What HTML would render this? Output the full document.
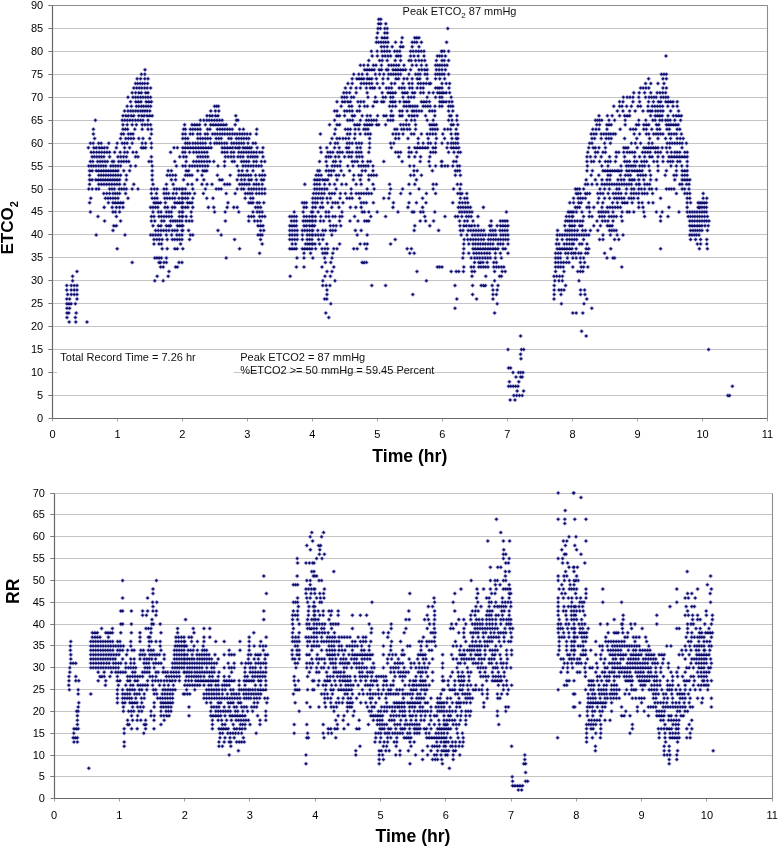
<!DOCTYPE html><html><head><meta charset="utf-8"><style>
html,body{margin:0;padding:0;background:#fff;width:778px;height:847px;overflow:hidden}
svg{display:block} .g{stroke:#c4c4c4;stroke-width:1} .a{stroke:#686868;stroke-width:1.2;fill:none} .r{stroke:#8c8c8c;stroke-width:1.1;fill:none} .k{stroke:#7a7a7a;stroke-width:1;fill:none} .k2{stroke:#a0a0a0;stroke-width:1;fill:none} .t{font-family:'Liberation Sans',Arial,sans-serif;font-size:11px;fill:#000} .tt{font-family:'Liberation Sans',Arial,sans-serif;font-size:11px;fill:#111} .b{font-family:'Liberation Sans',Arial,sans-serif;font-size:17px;font-weight:bold;fill:#000} .d{fill:#0e0e6a}
</style></head><body>
<svg width="778" height="847" viewBox="0 0 778 847">
<line x1="48" x2="767.5" y1="395.5" y2="395.5" class="g"/>
<line x1="48" x2="767.5" y1="372.5" y2="372.5" class="g"/>
<line x1="48" x2="767.5" y1="349.5" y2="349.5" class="g"/>
<line x1="48" x2="767.5" y1="326.5" y2="326.5" class="g"/>
<line x1="48" x2="767.5" y1="303.5" y2="303.5" class="g"/>
<line x1="48" x2="767.5" y1="280.5" y2="280.5" class="g"/>
<line x1="48" x2="767.5" y1="257.5" y2="257.5" class="g"/>
<line x1="48" x2="767.5" y1="234.5" y2="234.5" class="g"/>
<line x1="48" x2="767.5" y1="211.5" y2="211.5" class="g"/>
<line x1="48" x2="767.5" y1="189.5" y2="189.5" class="g"/>
<line x1="48" x2="767.5" y1="166.5" y2="166.5" class="g"/>
<line x1="48" x2="767.5" y1="143.5" y2="143.5" class="g"/>
<line x1="48" x2="767.5" y1="120.5" y2="120.5" class="g"/>
<line x1="48" x2="767.5" y1="97.5" y2="97.5" class="g"/>
<line x1="48" x2="767.5" y1="74.5" y2="74.5" class="g"/>
<line x1="48" x2="767.5" y1="51.5" y2="51.5" class="g"/>
<line x1="48" x2="767.5" y1="28.5" y2="28.5" class="g"/>
<line x1="48" x2="767.5" y1="5.5" y2="5.5" class="g"/>
<line x1="50" x2="772.5" y1="776.5" y2="776.5" class="g"/>
<line x1="50" x2="772.5" y1="755.5" y2="755.5" class="g"/>
<line x1="50" x2="772.5" y1="733.5" y2="733.5" class="g"/>
<line x1="50" x2="772.5" y1="711.5" y2="711.5" class="g"/>
<line x1="50" x2="772.5" y1="689.5" y2="689.5" class="g"/>
<line x1="50" x2="772.5" y1="667.5" y2="667.5" class="g"/>
<line x1="50" x2="772.5" y1="645.5" y2="645.5" class="g"/>
<line x1="50" x2="772.5" y1="624.5" y2="624.5" class="g"/>
<line x1="50" x2="772.5" y1="602.5" y2="602.5" class="g"/>
<line x1="50" x2="772.5" y1="580.5" y2="580.5" class="g"/>
<line x1="50" x2="772.5" y1="558.5" y2="558.5" class="g"/>
<line x1="50" x2="772.5" y1="536.5" y2="536.5" class="g"/>
<line x1="50" x2="772.5" y1="514.5" y2="514.5" class="g"/>
<line x1="50" x2="772.5" y1="493.5" y2="493.5" class="g"/>
<rect x="57" y="351" width="177" height="42" fill="#fff"/>
<defs><path id="p38" transform="scale(0.2,0.1667)" vector-effect="non-scaling-stroke" d="M1886 116l8-9 8 9-8 9zm10 0l8-9 8 9-8 9zm-11 27l8-9 8 9-8 9zm11 0l8-9 8 9-8 9zm25 0l8-9 8 9-8 9zm-39 28l8-9 8 9-8 9zm12 0l8-9 8 9-8 9zm22 0l8-9 8 9-8 9zm12 0l8-9 8 9-8 9zm303 0l8-9 8 9-8 9zm-351 27l8-9 8 9-8 9zm36 0l8-9 8 9-8 9zm12 0l8-9 8 9-8 9zm-52 28l8-9 8 9-8 9zm26 0l8-9 8 9-8 9zm13 0l8-9 8 9-8 9zm13 0l8-9 8 9-8 9zm75 0l8-9 8 9-8 9zm63 0l8-9 8 9-8 9zm10 0l8-9 8 9-8 9zm11 0l8-9 8 9-8 9zm-213 27l8-9 8 9-8 9zm11 0l8-9 8 9-8 9zm12 0l8-9 8 9-8 9zm12 0l8-9 8 9-8 9zm11 0l8-9 8 9-8 9zm12 0l8-9 8 9-8 9zm38 0l8-9 8 9-8 9zm29 0l8-9 8 9-8 9zm54 0l8-9 8 9-8 9zm12 0l8-9 8 9-8 9zm11 0l8-9 8 9-8 9zm23 0l8-9 8 9-8 9zm126 0l8-9 8 9-8 9zm-326 28l8-9 8 9-8 9zm14 0l8-9 8 9-8 9zm15 0l8-9 8 9-8 9zm25 0l8-9 8 9-8 9zm41 0l8-9 8 9-8 9zm13 0l8-9 8 9-8 9zm46 0l8-9 8 9-8 9zm34 0l8-9 8 9-8 9zm-238 27l8-9 8 9-8 9zm29 0l8-9 8 9-8 9zm23 0l8-9 8 9-8 9zm13 0l8-9 8 9-8 9zm13 0l8-9 8 9-8 9zm13 0l8-9 8 9-8 9zm25 0l8-9 8 9-8 9zm13 0l8-9 8 9-8 9zm13 0l8-9 8 9-8 9zm54 0l8-9 8 9-8 9zm13 0l8-9 8 9-8 9zm14 0l8-9 8 9-8 9zm13 0l8-9 8 9-8 9zm13 0l8-9 8 9-8 9zm14 0l8-9 8 9-8 9zm87 0l8-9 8 9-8 9zm3 0l8-9 8 9-8 9zm11 0l8-9 8 9-8 9zm22 0l8-9 8 9-8 9zm-382 28l8-9 8 9-8 9zm26 0l8-9 8 9-8 9zm26 0l8-9 8 9-8 9zm13 0l8-9 8 9-8 9zm14 0l8-9 8 9-8 9zm13 0l8-9 8 9-8 9zm29 0l8-9 8 9-8 9zm10 0l8-9 8 9-8 9zm11 0l8-9 8 9-8 9zm50 0l8-9 8 9-8 9zm17 0l8-9 8 9-8 9zm21 0l8-9 8 9-8 9zm29 0l8-9 8 9-8 9zm67 0l8-9 8 9-8 9zm11 0l8-9 8 9-8 9zm12 0l8-9 8 9-8 9zm17 0l8-9 8 9-8 9zm1103 0l8-9 8 9-8 9zm-1486 27l8-9 8 9-8 9zm54 0l8-9 8 9-8 9zm13 0l8-9 8 9-8 9zm25 0l8-9 8 9-8 9zm40 0l8-9 8 9-8 9zm27 0l8-9 8 9-8 9zm42 0l8-9 8 9-8 9zm11 0l8-9 8 9-8 9zm22 0l8-9 8 9-8 9zm17 0l8-9 8 9-8 9zm14 0l8-9 8 9-8 9zm15 0l8-9 8 9-8 9zm58 0l8-9 8 9-8 9zm28 0l8-9 8 9-8 9zm11 0l8-9 8 9-8 9zm22 0l8-9 8 9-8 9zm-441 28l8-9 8 9-8 9zm17 0l8-9 8 9-8 9zm21 0l8-9 8 9-8 9zm27 0l8-9 8 9-8 9zm13 0l8-9 8 9-8 9zm27 0l8-9 8 9-8 9zm37 0l8-9 8 9-8 9zm13 0l8-9 8 9-8 9zm12 0l8-9 8 9-8 9zm13 0l8-9 8 9-8 9zm12 0l8-9 8 9-8 9zm26 0l8-9 8 9-8 9zm41 0l8-9 8 9-8 9zm21 0l8-9 8 9-8 9zm25 0l8-9 8 9-8 9zm25 0l8-9 8 9-8 9zm46 0l8-9 8 9-8 9zm11 0l8-9 8 9-8 9zm10 0l8-9 8 9-8 9zm11 0l8-9 8 9-8 9zm13 0l8-9 8 9-8 9zm12 0l8-9 8 9-8 9zm-1510 27l8-9 8 9-8 9zm1098 0l8-9 8 9-8 9zm12 0l8-9 8 9-8 9zm12 0l8-9 8 9-8 9zm12 0l8-9 8 9-8 9zm12 0l8-9 8 9-8 9zm25 0l8-9 8 9-8 9zm12 0l8-9 8 9-8 9zm24 0l8-9 8 9-8 9zm8 0l8-9 8 9-8 9zm25 0l8-9 8 9-8 9zm13 0l8-9 8 9-8 9zm12 0l8-9 8 9-8 9zm13 0l8-9 8 9-8 9zm12 0l8-9 8 9-8 9zm13 0l8-9 8 9-8 9zm25 0l8-9 8 9-8 9zm42 0l8-9 8 9-8 9zm14 0l8-9 8 9-8 9zm14 0l8-9 8 9-8 9zm13 0l8-9 8 9-8 9zm46 0l8-9 8 9-8 9zm14 0l8-9 8 9-8 9zm14 0l8-9 8 9-8 9zm17 0l8-9 8 9-8 9zm-1520 28l8-9 8 9-8 9zm17 0l8-9 8 9-8 9zm1045 0l8-9 8 9-8 9zm25 0l8-9 8 9-8 9zm17 0l8-9 8 9-8 9zm25 0l8-9 8 9-8 9zm41 0l8-9 8 9-8 9zm21 0l8-9 8 9-8 9zm21 0l8-9 8 9-8 9zm24 0l8-9 8 9-8 9zm12 0l8-9 8 9-8 9zm12 0l8-9 8 9-8 9zm12 0l8-9 8 9-8 9zm12 0l8-9 8 9-8 9zm12 0l8-9 8 9-8 9zm42 0l8-9 8 9-8 9zm33 0l8-9 8 9-8 9zm12 0l8-9 8 9-8 9zm11 0l8-9 8 9-8 9zm24 0l8-9 8 9-8 9zm11 0l8-9 8 9-8 9zm42 0l8-9 8 9-8 9zm11 0l8-9 8 9-8 9zm10 0l8-9 8 9-8 9zm11 0l8-9 8 9-8 9zm11 0l8-9 8 9-8 9zm22 0l8-9 8 9-8 9zm1064 0l8-9 8 9-8 9zm13 0l8-9 8 9-8 9zm12 0l8-9 8 9-8 9zm-2646 27l8-9 8 9-8 9zm17 0l8-9 8 9-8 9zm21 0l8-9 8 9-8 9zm16 0l8-9 8 9-8 9zm1021 0l8-9 8 9-8 9zm23 0l8-9 8 9-8 9zm12 0l8-9 8 9-8 9zm11 0l8-9 8 9-8 9zm12 0l8-9 8 9-8 9zm17 0l8-9 8 9-8 9zm11 0l8-9 8 9-8 9zm12 0l8-9 8 9-8 9zm23 0l8-9 8 9-8 9zm33 0l8-9 8 9-8 9zm25 0l8-9 8 9-8 9zm40 0l8-9 8 9-8 9zm13 0l8-9 8 9-8 9zm27 0l8-9 8 9-8 9zm16 0l8-9 8 9-8 9zm25 0l8-9 8 9-8 9zm25 0l8-9 8 9-8 9zm13 0l8-9 8 9-8 9zm37 0l8-9 8 9-8 9zm42 0l8-9 8 9-8 9zm21 0l8-9 8 9-8 9zm24 0l8-9 8 9-8 9zm1020 0l8-9 8 9-8 9zm72 0l8-9 8 9-8 9zm17 0l8-9 8 9-8 9zm-2654 28l8-9 8 9-8 9zm11 0l8-9 8 9-8 9zm12 0l8-9 8 9-8 9zm11 0l8-9 8 9-8 9zm12 0l8-9 8 9-8 9zm14 0l8-9 8 9-8 9zm1002 0l8-9 8 9-8 9zm21 0l8-9 8 9-8 9zm45 0l8-9 8 9-8 9zm14 0l8-9 8 9-8 9zm13 0l8-9 8 9-8 9zm13 0l8-9 8 9-8 9zm13 0l8-9 8 9-8 9zm27 0l8-9 8 9-8 9zm29 0l8-9 8 9-8 9zm42 0l8-9 8 9-8 9zm17 0l8-9 8 9-8 9zm41 0l8-9 8 9-8 9zm30 0l8-9 8 9-8 9zm16 0l8-9 8 9-8 9zm30 0l8-9 8 9-8 9zm13 0l8-9 8 9-8 9zm14 0l8-9 8 9-8 9zm13 0l8-9 8 9-8 9zm14 0l8-9 8 9-8 9zm8 0l8-9 8 9-8 9zm57 0l8-9 8 9-8 9zm21 0l8-9 8 9-8 9zm17 0l8-9 8 9-8 9zm980 0l8-9 8 9-8 9zm26 0l8-9 8 9-8 9zm36 0l8-9 8 9-8 9zm30 0l8-9 8 9-8 9zm-2651 27l8-9 8 9-8 9zm14 0l8-9 8 9-8 9zm13 0l8-9 8 9-8 9zm13 0l8-9 8 9-8 9zm14 0l8-9 8 9-8 9zm13 0l8-9 8 9-8 9zm17 0l8-9 8 9-8 9zm974 0l8-9 8 9-8 9zm27 0l8-9 8 9-8 9zm27 0l8-9 8 9-8 9zm21 0l8-9 8 9-8 9zm30 0l8-9 8 9-8 9zm20 0l8-9 8 9-8 9zm11 0l8-9 8 9-8 9zm10 0l8-9 8 9-8 9zm25 0l8-9 8 9-8 9zm34 0l8-9 8 9-8 9zm13 0l8-9 8 9-8 9zm13 0l8-9 8 9-8 9zm38 0l8-9 8 9-8 9zm13 0l8-9 8 9-8 9zm13 0l8-9 8 9-8 9zm26 0l8-9 8 9-8 9zm13 0l8-9 8 9-8 9zm25 0l8-9 8 9-8 9zm17 0l8-9 8 9-8 9zm13 0l8-9 8 9-8 9zm62 0l8-9 8 9-8 9zm11 0l8-9 8 9-8 9zm10 0l8-9 8 9-8 9zm11 0l8-9 8 9-8 9zm35 0l8-9 8 9-8 9zm958 0l8-9 8 9-8 9zm13 0l8-9 8 9-8 9zm14 0l8-9 8 9-8 9zm14 0l8-9 8 9-8 9zm71 0l8-9 8 9-8 9zm17 0l8-9 8 9-8 9zm-2671 28l8-9 8 9-8 9zm17 0l8-9 8 9-8 9zm16 0l8-9 8 9-8 9zm13 0l8-9 8 9-8 9zm21 0l8-9 8 9-8 9zm12 0l8-9 8 9-8 9zm979 0l8-9 8 9-8 9zm14 0l8-9 8 9-8 9zm15 0l8-9 8 9-8 9zm33 0l8-9 8 9-8 9zm55 0l8-9 8 9-8 9zm75 0l8-9 8 9-8 9zm29 0l8-9 8 9-8 9zm12 0l8-9 8 9-8 9zm12 0l8-9 8 9-8 9zm13 0l8-9 8 9-8 9zm36 0l8-9 8 9-8 9zm12 0l8-9 8 9-8 9zm12 0l8-9 8 9-8 9zm25 0l8-9 8 9-8 9zm12 0l8-9 8 9-8 9zm29 0l8-9 8 9-8 9zm14 0l8-9 8 9-8 9zm28 0l8-9 8 9-8 9zm21 0l8-9 8 9-8 9zm22 0l8-9 8 9-8 9zm11 0l8-9 8 9-8 9zm11 0l8-9 8 9-8 9zm8 0l8-9 8 9-8 9zm13 0l8-9 8 9-8 9zm17 0l8-9 8 9-8 9zm921 0l8-9 8 9-8 9zm27 0l8-9 8 9-8 9zm27 0l8-9 8 9-8 9zm31 0l8-9 8 9-8 9zm32 0l8-9 8 9-8 9zm14 0l8-9 8 9-8 9zm14 0l8-9 8 9-8 9zm14 0l8-9 8 9-8 9zm-2688 27l8-9 8 9-8 9zm25 0l8-9 8 9-8 9zm13 0l8-9 8 9-8 9zm12 0l8-9 8 9-8 9zm13 0l8-9 8 9-8 9zm12 0l8-9 8 9-8 9zm13 0l8-9 8 9-8 9zm12 0l8-9 8 9-8 9zm13 0l8-9 8 9-8 9zm957 0l8-9 8 9-8 9zm12 0l8-9 8 9-8 9zm12 0l8-9 8 9-8 9zm23 0l8-9 8 9-8 9zm12 0l8-9 8 9-8 9zm71 0l8-9 8 9-8 9zm37 0l8-9 8 9-8 9zm38 0l8-9 8 9-8 9zm13 0l8-9 8 9-8 9zm25 0l8-9 8 9-8 9zm12 0l8-9 8 9-8 9zm50 0l8-9 8 9-8 9zm27 0l8-9 8 9-8 9zm14 0l8-9 8 9-8 9zm14 0l8-9 8 9-8 9zm66 0l8-9 8 9-8 9zm42 0l8-9 8 9-8 9zm21 0l8-9 8 9-8 9zm11 0l8-9 8 9-8 9zm46 0l8-9 8 9-8 9zm861 0l8-9 8 9-8 9zm19 0l8-9 8 9-8 9zm14 0l8-9 8 9-8 9zm15 0l8-9 8 9-8 9zm29 0l8-9 8 9-8 9zm34 0l8-9 8 9-8 9zm18 0l8-9 8 9-8 9zm12 0l8-9 8 9-8 9zm12 0l8-9 8 9-8 9zm11 0l8-9 8 9-8 9zm24 0l8-9 8 9-8 9zm12 0l8-9 8 9-8 9zm12 0l8-9 8 9-8 9zm11 0l8-9 8 9-8 9zm-2687 28l8-9 8 9-8 9zm26 0l8-9 8 9-8 9zm13 0l8-9 8 9-8 9zm13 0l8-9 8 9-8 9zm26 0l8-9 8 9-8 9zm13 0l8-9 8 9-8 9zm13 0l8-9 8 9-8 9zm928 0l8-9 8 9-8 9zm27 0l8-9 8 9-8 9zm13 0l8-9 8 9-8 9zm14 0l8-9 8 9-8 9zm13 0l8-9 8 9-8 9zm38 0l8-9 8 9-8 9zm14 0l8-9 8 9-8 9zm15 0l8-9 8 9-8 9zm54 0l8-9 8 9-8 9zm12 0l8-9 8 9-8 9zm23 0l8-9 8 9-8 9zm11 0l8-9 8 9-8 9zm34 0l8-9 8 9-8 9zm11 0l8-9 8 9-8 9zm12 0l8-9 8 9-8 9zm23 0l8-9 8 9-8 9zm21 0l8-9 8 9-8 9zm12 0l8-9 8 9-8 9zm13 0l8-9 8 9-8 9zm62 0l8-9 8 9-8 9zm13 0l8-9 8 9-8 9zm13 0l8-9 8 9-8 9zm14 0l8-9 8 9-8 9zm52 0l8-9 8 9-8 9zm11 0l8-9 8 9-8 9zm8 0l8-9 8 9-8 9zm13 0l8-9 8 9-8 9zm15 0l8-9 8 9-8 9zm14 0l8-9 8 9-8 9zm838 0l8-9 8 9-8 9zm17 0l8-9 8 9-8 9zm50 0l8-9 8 9-8 9zm33 0l8-9 8 9-8 9zm45 0l8-9 8 9-8 9zm24 0l8-9 8 9-8 9zm25 0l8-9 8 9-8 9zm12 0l8-9 8 9-8 9zm25 0l8-9 8 9-8 9zm12 0l8-9 8 9-8 9zm12 0l8-9 8 9-8 9zm12 0l8-9 8 9-8 9zm21 0l8-9 8 9-8 9zm-2750 27l8-9 8 9-8 9zm21 0l8-9 8 9-8 9zm25 0l8-9 8 9-8 9zm12 0l8-9 8 9-8 9zm13 0l8-9 8 9-8 9zm11 0l8-9 8 9-8 9zm12 0l8-9 8 9-8 9zm11 0l8-9 8 9-8 9zm12 0l8-9 8 9-8 9zm320 0l8-9 8 9-8 9zm10 0l8-9 8 9-8 9zm9 0l8-9 8 9-8 9zm614 0l8-9 8 9-8 9zm40 0l8-9 8 9-8 9zm13 0l8-9 8 9-8 9zm39 0l8-9 8 9-8 9zm25 0l8-9 8 9-8 9zm14 0l8-9 8 9-8 9zm28 0l8-9 8 9-8 9zm83 0l8-9 8 9-8 9zm15 0l8-9 8 9-8 9zm15 0l8-9 8 9-8 9zm42 0l8-9 8 9-8 9zm12 0l8-9 8 9-8 9zm13 0l8-9 8 9-8 9zm8 0l8-9 8 9-8 9zm11 0l8-9 8 9-8 9zm11 0l8-9 8 9-8 9zm11 0l8-9 8 9-8 9zm30 0l8-9 8 9-8 9zm11 0l8-9 8 9-8 9zm12 0l8-9 8 9-8 9zm12 0l8-9 8 9-8 9zm24 0l8-9 8 9-8 9zm23 0l8-9 8 9-8 9zm12 0l8-9 8 9-8 9zm33 0l8-9 8 9-8 9zm11 0l8-9 8 9-8 9zm10 0l8-9 8 9-8 9zm805 0l8-9 8 9-8 9zm29 0l8-9 8 9-8 9zm12 0l8-9 8 9-8 9zm23 0l8-9 8 9-8 9zm24 0l8-9 8 9-8 9zm33 0l8-9 8 9-8 9zm13 0l8-9 8 9-8 9zm37 0l8-9 8 9-8 9zm21 0l8-9 8 9-8 9zm13 0l8-9 8 9-8 9zm13 0l8-9 8 9-8 9zm13 0l8-9 8 9-8 9zm13 0l8-9 8 9-8 9zm26 0l8-9 8 9-8 9zm26 0l8-9 8 9-8 9zm21 0l8-9 8 9-8 9zm-2763 28l8-9 8 9-8 9zm17 0l8-9 8 9-8 9zm13 0l8-9 8 9-8 9zm12 0l8-9 8 9-8 9zm13 0l8-9 8 9-8 9zm12 0l8-9 8 9-8 9zm13 0l8-9 8 9-8 9zm11 0l8-9 8 9-8 9zm11 0l8-9 8 9-8 9zm11 0l8-9 8 9-8 9zm13 0l8-9 8 9-8 9zm305 0l8-9 8 9-8 9zm23 0l8-9 8 9-8 9zm17 0l8-9 8 9-8 9zm579 0l8-9 8 9-8 9zm12 0l8-9 8 9-8 9zm38 0l8-9 8 9-8 9zm12 0l8-9 8 9-8 9zm13 0l8-9 8 9-8 9zm13 0l8-9 8 9-8 9zm25 0l8-9 8 9-8 9zm12 0l8-9 8 9-8 9zm159 0l8-9 8 9-8 9zm42 0l8-9 8 9-8 9zm12 0l8-9 8 9-8 9zm25 0l8-9 8 9-8 9zm25 0l8-9 8 9-8 9zm9 0l8-9 8 9-8 9zm12 0l8-9 8 9-8 9zm13 0l8-9 8 9-8 9zm13 0l8-9 8 9-8 9zm40 0l8-9 8 9-8 9zm13 0l8-9 8 9-8 9zm13 0l8-9 8 9-8 9zm69 0l8-9 8 9-8 9zm21 0l8-9 8 9-8 9zm823 0l8-9 8 9-8 9zm28 0l8-9 8 9-8 9zm33 0l8-9 8 9-8 9zm28 0l8-9 8 9-8 9zm39 0l8-9 8 9-8 9zm25 0l8-9 8 9-8 9zm11 0l8-9 8 9-8 9zm10 0l8-9 8 9-8 9zm17 0l8-9 8 9-8 9zm12 0l8-9 8 9-8 9zm13 0l8-9 8 9-8 9zm12 0l8-9 8 9-8 9zm38 0l8-9 8 9-8 9zm40 0l8-9 8 9-8 9zm-2778 28l8-9 8 9-8 9zm14 0l8-9 8 9-8 9zm13 0l8-9 8 9-8 9zm14 0l8-9 8 9-8 9zm13 0l8-9 8 9-8 9zm25 0l8-9 8 9-8 9zm14 0l8-9 8 9-8 9zm13 0l8-9 8 9-8 9zm14 0l8-9 8 9-8 9zm13 0l8-9 8 9-8 9zm13 0l8-9 8 9-8 9zm274 0l8-9 8 9-8 9zm14 0l8-9 8 9-8 9zm13 0l8-9 8 9-8 9zm15 0l8-9 8 9-8 9zm13 0l8-9 8 9-8 9zm89 0l8-9 8 9-8 9zm506 0l8-9 8 9-8 9zm13 0l8-9 8 9-8 9zm25 0l8-9 8 9-8 9zm38 0l8-9 8 9-8 9zm12 0l8-9 8 9-8 9zm38 0l8-9 8 9-8 9zm25 0l8-9 8 9-8 9zm16 0l8-9 8 9-8 9zm36 0l8-9 8 9-8 9zm31 0l8-9 8 9-8 9zm12 0l8-9 8 9-8 9zm23 0l8-9 8 9-8 9zm11 0l8-9 8 9-8 9zm34 0l8-9 8 9-8 9zm12 0l8-9 8 9-8 9zm34 0l8-9 8 9-8 9zm14 0l8-9 8 9-8 9zm13 0l8-9 8 9-8 9zm14 0l8-9 8 9-8 9zm42 0l8-9 8 9-8 9zm46 0l8-9 8 9-8 9zm74 0l8-9 8 9-8 9zm8 0l8-9 8 9-8 9zm29 0l8-9 8 9-8 9zm710 0l8-9 8 9-8 9zm42 0l8-9 8 9-8 9zm24 0l8-9 8 9-8 9zm37 0l8-9 8 9-8 9zm25 0l8-9 8 9-8 9zm13 0l8-9 8 9-8 9zm12 0l8-9 8 9-8 9zm105 0l8-9 8 9-8 9zm23 0l8-9 8 9-8 9zm12 0l8-9 8 9-8 9zm11 0l8-9 8 9-8 9zm12 0l8-9 8 9-8 9zm29 0l8-9 8 9-8 9zm27 0l8-9 8 9-8 9zm14 0l8-9 8 9-8 9zm13 0l8-9 8 9-8 9zm13 0l8-9 8 9-8 9zm-2930 27l8-9 8 9-8 9zm134 0l8-9 8 9-8 9zm13 0l8-9 8 9-8 9zm13 0l8-9 8 9-8 9zm13 0l8-9 8 9-8 9zm13 0l8-9 8 9-8 9zm14 0l8-9 8 9-8 9zm13 0l8-9 8 9-8 9zm13 0l8-9 8 9-8 9zm12 0l8-9 8 9-8 9zm25 0l8-9 8 9-8 9zm262 0l8-9 8 9-8 9zm17 0l8-9 8 9-8 9zm15 0l8-9 8 9-8 9zm12 0l8-9 8 9-8 9zm13 0l8-9 8 9-8 9zm13 0l8-9 8 9-8 9zm13 0l8-9 8 9-8 9zm13 0l8-9 8 9-8 9zm13 0l8-9 8 9-8 9zm71 0l8-9 8 9-8 9zm8 0l8-9 8 9-8 9zm483 0l8-9 8 9-8 9zm65 0l8-9 8 9-8 9zm12 0l8-9 8 9-8 9zm13 0l8-9 8 9-8 9zm39 0l8-9 8 9-8 9zm30 0l8-9 8 9-8 9zm12 0l8-9 8 9-8 9zm13 0l8-9 8 9-8 9zm12 0l8-9 8 9-8 9zm13 0l8-9 8 9-8 9zm58 0l8-9 8 9-8 9zm13 0l8-9 8 9-8 9zm12 0l8-9 8 9-8 9zm67 0l8-9 8 9-8 9zm25 0l8-9 8 9-8 9zm17 0l8-9 8 9-8 9zm62 0l8-9 8 9-8 9zm30 0l8-9 8 9-8 9zm77 0l8-9 8 9-8 9zm17 0l8-9 8 9-8 9zm24 0l8-9 8 9-8 9zm693 0l8-9 8 9-8 9zm11 0l8-9 8 9-8 9zm10 0l8-9 8 9-8 9zm11 0l8-9 8 9-8 9zm36 0l8-9 8 9-8 9zm28 0l8-9 8 9-8 9zm53 0l8-9 8 9-8 9zm68 0l8-9 8 9-8 9zm35 0l8-9 8 9-8 9zm35 0l8-9 8 9-8 9zm12 0l8-9 8 9-8 9zm23 0l8-9 8 9-8 9zm12 0l8-9 8 9-8 9zm17 0l8-9 8 9-8 9zm11 0l8-9 8 9-8 9zm12 0l8-9 8 9-8 9zm23 0l8-9 8 9-8 9zm29 0l8-9 8 9-8 9zm-2788 28l8-9 8 9-8 9zm21 0l8-9 8 9-8 9zm25 0l8-9 8 9-8 9zm21 0l8-9 8 9-8 9zm29 0l8-9 8 9-8 9zm14 0l8-9 8 9-8 9zm14 0l8-9 8 9-8 9zm14 0l8-9 8 9-8 9zm170 0l8-9 8 9-8 9zm37 0l8-9 8 9-8 9zm13 0l8-9 8 9-8 9zm12 0l8-9 8 9-8 9zm13 0l8-9 8 9-8 9zm29 0l8-9 8 9-8 9zm26 0l8-9 8 9-8 9zm13 0l8-9 8 9-8 9zm13 0l8-9 8 9-8 9zm13 0l8-9 8 9-8 9zm13 0l8-9 8 9-8 9zm13 0l8-9 8 9-8 9zm13 0l8-9 8 9-8 9zm45 0l8-9 8 9-8 9zm472 0l8-9 8 9-8 9zm37 0l8-9 8 9-8 9zm13 0l8-9 8 9-8 9zm75 0l8-9 8 9-8 9zm13 0l8-9 8 9-8 9zm12 0l8-9 8 9-8 9zm25 0l8-9 8 9-8 9zm13 0l8-9 8 9-8 9zm12 0l8-9 8 9-8 9zm12 0l8-9 8 9-8 9zm23 0l8-9 8 9-8 9zm11 0l8-9 8 9-8 9zm34 0l8-9 8 9-8 9zm75 0l8-9 8 9-8 9zm14 0l8-9 8 9-8 9zm14 0l8-9 8 9-8 9zm14 0l8-9 8 9-8 9zm33 0l8-9 8 9-8 9zm71 0l8-9 8 9-8 9zm11 0l8-9 8 9-8 9zm11 0l8-9 8 9-8 9zm11 0l8-9 8 9-8 9zm74 0l8-9 8 9-8 9zm11 0l8-9 8 9-8 9zm22 0l8-9 8 9-8 9zm695 0l8-9 8 9-8 9zm14 0l8-9 8 9-8 9zm36 0l8-9 8 9-8 9zm11 0l8-9 8 9-8 9zm11 0l8-9 8 9-8 9zm70 0l8-9 8 9-8 9zm56 0l8-9 8 9-8 9zm12 0l8-9 8 9-8 9zm25 0l8-9 8 9-8 9zm13 0l8-9 8 9-8 9zm12 0l8-9 8 9-8 9zm38 0l8-9 8 9-8 9zm12 0l8-9 8 9-8 9zm38 0l8-9 8 9-8 9zm12 0l8-9 8 9-8 9zm11 0l8-9 8 9-8 9zm12 0l8-9 8 9-8 9zm12 0l8-9 8 9-8 9zm12 0l8-9 8 9-8 9zm-2924 27l8-9 8 9-8 9zm148 0l8-9 8 9-8 9zm12 0l8-9 8 9-8 9zm11 0l8-9 8 9-8 9zm36 0l8-9 8 9-8 9zm37 0l8-9 8 9-8 9zm29 0l8-9 8 9-8 9zm17 0l8-9 8 9-8 9zm161 0l8-9 8 9-8 9zm9 0l8-9 8 9-8 9zm25 0l8-9 8 9-8 9zm12 0l8-9 8 9-8 9zm12 0l8-9 8 9-8 9zm13 0l8-9 8 9-8 9zm12 0l8-9 8 9-8 9zm37 0l8-9 8 9-8 9zm12 0l8-9 8 9-8 9zm37 0l8-9 8 9-8 9zm13 0l8-9 8 9-8 9zm12 0l8-9 8 9-8 9zm12 0l8-9 8 9-8 9zm13 0l8-9 8 9-8 9zm12 0l8-9 8 9-8 9zm12 0l8-9 8 9-8 9zm37 0l8-9 8 9-8 9zm19 0l8-9 8 9-8 9zm67 0l8-9 8 9-8 9zm393 0l8-9 8 9-8 9zm50 0l8-9 8 9-8 9zm13 0l8-9 8 9-8 9zm12 0l8-9 8 9-8 9zm24 0l8-9 8 9-8 9zm18 0l8-9 8 9-8 9zm25 0l8-9 8 9-8 9zm10 0l8-9 8 9-8 9zm11 0l8-9 8 9-8 9zm134 0l8-9 8 9-8 9zm11 0l8-9 8 9-8 9zm23 0l8-9 8 9-8 9zm12 0l8-9 8 9-8 9zm16 0l8-9 8 9-8 9zm13 0l8-9 8 9-8 9zm29 0l8-9 8 9-8 9zm75 0l8-9 8 9-8 9zm11 0l8-9 8 9-8 9zm11 0l8-9 8 9-8 9zm12 0l8-9 8 9-8 9zm36 0l8-9 8 9-8 9zm16 0l8-9 8 9-8 9zm14 0l8-9 8 9-8 9zm28 0l8-9 8 9-8 9zm683 0l8-9 8 9-8 9zm16 0l8-9 8 9-8 9zm15 0l8-9 8 9-8 9zm40 0l8-9 8 9-8 9zm66 0l8-9 8 9-8 9zm51 0l8-9 8 9-8 9zm14 0l8-9 8 9-8 9zm13 0l8-9 8 9-8 9zm40 0l8-9 8 9-8 9zm13 0l8-9 8 9-8 9zm27 0l8-9 8 9-8 9zm27 0l8-9 8 9-8 9zm13 0l8-9 8 9-8 9zm36 0l8-9 8 9-8 9zm12 0l8-9 8 9-8 9zm39 0l8-9 8 9-8 9zm13 0l8-9 8 9-8 9zm-2932 28l8-9 8 9-8 9zm140 0l8-9 8 9-8 9zm11 0l8-9 8 9-8 9zm24 0l8-9 8 9-8 9zm12 0l8-9 8 9-8 9zm11 0l8-9 8 9-8 9zm92 0l8-9 8 9-8 9zm157 0l8-9 8 9-8 9zm13 0l8-9 8 9-8 9zm24 0l8-9 8 9-8 9zm13 0l8-9 8 9-8 9zm24 0l8-9 8 9-8 9zm13 0l8-9 8 9-8 9zm25 0l8-9 8 9-8 9zm12 0l8-9 8 9-8 9zm25 0l8-9 8 9-8 9zm12 0l8-9 8 9-8 9zm12 0l8-9 8 9-8 9zm13 0l8-9 8 9-8 9zm12 0l8-9 8 9-8 9zm12 0l8-9 8 9-8 9zm13 0l8-9 8 9-8 9zm12 0l8-9 8 9-8 9zm13 0l8-9 8 9-8 9zm12 0l8-9 8 9-8 9zm12 0l8-9 8 9-8 9zm13 0l8-9 8 9-8 9zm12 0l8-9 8 9-8 9zm12 0l8-9 8 9-8 9zm13 0l8-9 8 9-8 9zm15 0l8-9 8 9-8 9zm31 0l8-9 8 9-8 9zm320 0l8-9 8 9-8 9zm71 0l8-9 8 9-8 9zm64 0l8-9 8 9-8 9zm13 0l8-9 8 9-8 9zm25 0l8-9 8 9-8 9zm26 0l8-9 8 9-8 9zm26 0l8-9 8 9-8 9zm13 0l8-9 8 9-8 9zm12 0l8-9 8 9-8 9zm113 0l8-9 8 9-8 9zm15 0l8-9 8 9-8 9zm14 0l8-9 8 9-8 9zm21 0l8-9 8 9-8 9zm42 0l8-9 8 9-8 9zm13 0l8-9 8 9-8 9zm37 0l8-9 8 9-8 9zm29 0l8-9 8 9-8 9zm14 0l8-9 8 9-8 9zm14 0l8-9 8 9-8 9zm14 0l8-9 8 9-8 9zm36 0l8-9 8 9-8 9zm42 0l8-9 8 9-8 9zm22 0l8-9 8 9-8 9zm11 0l8-9 8 9-8 9zm667 0l8-9 8 9-8 9zm13 0l8-9 8 9-8 9zm12 0l8-9 8 9-8 9zm25 0l8-9 8 9-8 9zm13 0l8-9 8 9-8 9zm12 0l8-9 8 9-8 9zm12 0l8-9 8 9-8 9zm11 0l8-9 8 9-8 9zm12 0l8-9 8 9-8 9zm11 0l8-9 8 9-8 9zm94 0l8-9 8 9-8 9zm27 0l8-9 8 9-8 9zm34 0l8-9 8 9-8 9zm12 0l8-9 8 9-8 9zm24 0l8-9 8 9-8 9zm12 0l8-9 8 9-8 9zm11 0l8-9 8 9-8 9zm12 0l8-9 8 9-8 9zm12 0l8-9 8 9-8 9zm30 0l8-9 8 9-8 9zm12 0l8-9 8 9-8 9zm13 0l8-9 8 9-8 9zm12 0l8-9 8 9-8 9zm25 0l8-9 8 9-8 9zm-2934 27l8-9 8 9-8 9zm130 0l8-9 8 9-8 9zm26 0l8-9 8 9-8 9zm13 0l8-9 8 9-8 9zm13 0l8-9 8 9-8 9zm13 0l8-9 8 9-8 9zm26 0l8-9 8 9-8 9zm21 0l8-9 8 9-8 9zm34 0l8-9 8 9-8 9zm165 0l8-9 8 9-8 9zm13 0l8-9 8 9-8 9zm12 0l8-9 8 9-8 9zm50 0l8-9 8 9-8 9zm13 0l8-9 8 9-8 9zm12 0l8-9 8 9-8 9zm13 0l8-9 8 9-8 9zm12 0l8-9 8 9-8 9zm13 0l8-9 8 9-8 9zm29 0l8-9 8 9-8 9zm13 0l8-9 8 9-8 9zm12 0l8-9 8 9-8 9zm38 0l8-9 8 9-8 9zm12 0l8-9 8 9-8 9zm26 0l8-9 8 9-8 9zm12 0l8-9 8 9-8 9zm13 0l8-9 8 9-8 9zm12 0l8-9 8 9-8 9zm13 0l8-9 8 9-8 9zm12 0l8-9 8 9-8 9zm416 0l8-9 8 9-8 9zm25 0l8-9 8 9-8 9zm13 0l8-9 8 9-8 9zm17 0l8-9 8 9-8 9zm14 0l8-9 8 9-8 9zm15 0l8-9 8 9-8 9zm29 0l8-9 8 9-8 9zm75 0l8-9 8 9-8 9zm130 0l8-9 8 9-8 9zm16 0l8-9 8 9-8 9zm46 0l8-9 8 9-8 9zm51 0l8-9 8 9-8 9zm50 0l8-9 8 9-8 9zm41 0l8-9 8 9-8 9zm41 0l8-9 8 9-8 9zm37 0l8-9 8 9-8 9zm21 0l8-9 8 9-8 9zm8 0l8-9 8 9-8 9zm671 0l8-9 8 9-8 9zm13 0l8-9 8 9-8 9zm33 0l8-9 8 9-8 9zm25 0l8-9 8 9-8 9zm13 0l8-9 8 9-8 9zm12 0l8-9 8 9-8 9zm67 0l8-9 8 9-8 9zm61 0l8-9 8 9-8 9zm64 0l8-9 8 9-8 9zm42 0l8-9 8 9-8 9zm38 0l8-9 8 9-8 9zm25 0l8-9 8 9-8 9zm33 0l8-9 8 9-8 9zm15 0l8-9 8 9-8 9zm15 0l8-9 8 9-8 9zm-2964 28l8-9 8 9-8 9zm14 0l8-9 8 9-8 9zm27 0l8-9 8 9-8 9zm13 0l8-9 8 9-8 9zm38 0l8-9 8 9-8 9zm42 0l8-9 8 9-8 9zm25 0l8-9 8 9-8 9zm12 0l8-9 8 9-8 9zm13 0l8-9 8 9-8 9zm25 0l8-9 8 9-8 9zm50 0l8-9 8 9-8 9zm17 0l8-9 8 9-8 9zm29 0l8-9 8 9-8 9zm170 0l8-9 8 9-8 9zm10 0l8-9 8 9-8 9zm11 0l8-9 8 9-8 9zm16 0l8-9 8 9-8 9zm13 0l8-9 8 9-8 9zm12 0l8-9 8 9-8 9zm13 0l8-9 8 9-8 9zm12 0l8-9 8 9-8 9zm13 0l8-9 8 9-8 9zm25 0l8-9 8 9-8 9zm21 0l8-9 8 9-8 9zm12 0l8-9 8 9-8 9zm12 0l8-9 8 9-8 9zm12 0l8-9 8 9-8 9zm13 0l8-9 8 9-8 9zm12 0l8-9 8 9-8 9zm24 0l8-9 8 9-8 9zm12 0l8-9 8 9-8 9zm13 0l8-9 8 9-8 9zm12 0l8-9 8 9-8 9zm12 0l8-9 8 9-8 9zm12 0l8-9 8 9-8 9zm21 0l8-9 8 9-8 9zm25 0l8-9 8 9-8 9zm13 0l8-9 8 9-8 9zm374 0l8-9 8 9-8 9zm24 0l8-9 8 9-8 9zm12 0l8-9 8 9-8 9zm48 0l8-9 8 9-8 9zm12 0l8-9 8 9-8 9zm13 0l8-9 8 9-8 9zm20 0l8-9 8 9-8 9zm14 0l8-9 8 9-8 9zm13 0l8-9 8 9-8 9zm40 0l8-9 8 9-8 9zm105 0l8-9 8 9-8 9zm16 0l8-9 8 9-8 9zm122 0l8-9 8 9-8 9zm25 0l8-9 8 9-8 9zm25 0l8-9 8 9-8 9zm12 0l8-9 8 9-8 9zm25 0l8-9 8 9-8 9zm32 0l8-9 8 9-8 9zm29 0l8-9 8 9-8 9zm17 0l8-9 8 9-8 9zm11 0l8-9 8 9-8 9zm11 0l8-9 8 9-8 9zm11 0l8-9 8 9-8 9zm659 0l8-9 8 9-8 9zm12 0l8-9 8 9-8 9zm63 0l8-9 8 9-8 9zm29 0l8-9 8 9-8 9zm105 0l8-9 8 9-8 9zm20 0l8-9 8 9-8 9zm26 0l8-9 8 9-8 9zm41 0l8-9 8 9-8 9zm17 0l8-9 8 9-8 9zm75 0l8-9 8 9-8 9zm13 0l8-9 8 9-8 9zm12 0l8-9 8 9-8 9zm13 0l8-9 8 9-8 9zm12 0l8-9 8 9-8 9zm13 0l8-9 8 9-8 9zm12 0l8-9 8 9-8 9zm21 0l8-9 8 9-8 9zm-2990 27l8-9 8 9-8 9zm27 0l8-9 8 9-8 9zm13 0l8-9 8 9-8 9zm14 0l8-9 8 9-8 9zm13 0l8-9 8 9-8 9zm13 0l8-9 8 9-8 9zm14 0l8-9 8 9-8 9zm46 0l8-9 8 9-8 9zm41 0l8-9 8 9-8 9zm25 0l8-9 8 9-8 9zm59 0l8-9 8 9-8 9zm10 0l8-9 8 9-8 9zm11 0l8-9 8 9-8 9zm29 0l8-9 8 9-8 9zm113 0l8-9 8 9-8 9zm17 0l8-9 8 9-8 9zm27 0l8-9 8 9-8 9zm13 0l8-9 8 9-8 9zm13 0l8-9 8 9-8 9zm13 0l8-9 8 9-8 9zm13 0l8-9 8 9-8 9zm13 0l8-9 8 9-8 9zm13 0l8-9 8 9-8 9zm13 0l8-9 8 9-8 9zm12 0l8-9 8 9-8 9zm13 0l8-9 8 9-8 9zm13 0l8-9 8 9-8 9zm13 0l8-9 8 9-8 9zm55 0l8-9 8 9-8 9zm13 0l8-9 8 9-8 9zm13 0l8-9 8 9-8 9zm13 0l8-9 8 9-8 9zm13 0l8-9 8 9-8 9zm14 0l8-9 8 9-8 9zm13 0l8-9 8 9-8 9zm8 0l8-9 8 9-8 9zm17 0l8-9 8 9-8 9zm11 0l8-9 8 9-8 9zm11 0l8-9 8 9-8 9zm11 0l8-9 8 9-8 9zm9 0l8-9 8 9-8 9zm29 0l8-9 8 9-8 9zm29 0l8-9 8 9-8 9zm287 0l8-9 8 9-8 9zm32 0l8-9 8 9-8 9zm39 0l8-9 8 9-8 9zm23 0l8-9 8 9-8 9zm36 0l8-9 8 9-8 9zm12 0l8-9 8 9-8 9zm42 0l8-9 8 9-8 9zm16 0l8-9 8 9-8 9zm46 0l8-9 8 9-8 9zm109 0l8-9 8 9-8 9zm88 0l8-9 8 9-8 9zm29 0l8-9 8 9-8 9zm13 0l8-9 8 9-8 9zm13 0l8-9 8 9-8 9zm13 0l8-9 8 9-8 9zm13 0l8-9 8 9-8 9zm13 0l8-9 8 9-8 9zm26 0l8-9 8 9-8 9zm13 0l8-9 8 9-8 9zm57 0l8-9 8 9-8 9zm21 0l8-9 8 9-8 9zm12 0l8-9 8 9-8 9zm13 0l8-9 8 9-8 9zm13 0l8-9 8 9-8 9zm650 0l8-9 8 9-8 9zm22 0l8-9 8 9-8 9zm11 0l8-9 8 9-8 9zm18 0l8-9 8 9-8 9zm32 0l8-9 8 9-8 9zm92 0l8-9 8 9-8 9zm10 0l8-9 8 9-8 9zm11 0l8-9 8 9-8 9zm46 0l8-9 8 9-8 9zm33 0l8-9 8 9-8 9zm12 0l8-9 8 9-8 9zm12 0l8-9 8 9-8 9zm12 0l8-9 8 9-8 9zm12 0l8-9 8 9-8 9zm11 0l8-9 8 9-8 9zm12 0l8-9 8 9-8 9zm21 0l8-9 8 9-8 9zm21 0l8-9 8 9-8 9zm17 0l8-9 8 9-8 9zm61 0l8-9 8 9-8 9zm-2954 28l8-9 8 9-8 9zm13 0l8-9 8 9-8 9zm14 0l8-9 8 9-8 9zm13 0l8-9 8 9-8 9zm13 0l8-9 8 9-8 9zm13 0l8-9 8 9-8 9zm13 0l8-9 8 9-8 9zm13 0l8-9 8 9-8 9zm25 0l8-9 8 9-8 9zm28 0l8-9 8 9-8 9zm22 0l8-9 8 9-8 9zm14 0l8-9 8 9-8 9zm28 0l8-9 8 9-8 9zm17 0l8-9 8 9-8 9zm171 0l8-9 8 9-8 9zm61 0l8-9 8 9-8 9zm11 0l8-9 8 9-8 9zm23 0l8-9 8 9-8 9zm20 0l8-9 8 9-8 9zm14 0l8-9 8 9-8 9zm13 0l8-9 8 9-8 9zm14 0l8-9 8 9-8 9zm13 0l8-9 8 9-8 9zm13 0l8-9 8 9-8 9zm76 0l8-9 8 9-8 9zm12 0l8-9 8 9-8 9zm13 0l8-9 8 9-8 9zm20 0l8-9 8 9-8 9zm13 0l8-9 8 9-8 9zm25 0l8-9 8 9-8 9zm13 0l8-9 8 9-8 9zm12 0l8-9 8 9-8 9zm13 0l8-9 8 9-8 9zm12 0l8-9 8 9-8 9zm13 0l8-9 8 9-8 9zm12 0l8-9 8 9-8 9zm13 0l8-9 8 9-8 9zm16 0l8-9 8 9-8 9zm13 0l8-9 8 9-8 9zm295 0l8-9 8 9-8 9zm33 0l8-9 8 9-8 9zm12 0l8-9 8 9-8 9zm13 0l8-9 8 9-8 9zm24 0l8-9 8 9-8 9zm12 0l8-9 8 9-8 9zm12 0l8-9 8 9-8 9zm24 0l8-9 8 9-8 9zm12 0l8-9 8 9-8 9zm13 0l8-9 8 9-8 9zm20 0l8-9 8 9-8 9zm13 0l8-9 8 9-8 9zm12 0l8-9 8 9-8 9zm38 0l8-9 8 9-8 9zm134 0l8-9 8 9-8 9zm12 0l8-9 8 9-8 9zm13 0l8-9 8 9-8 9zm42 0l8-9 8 9-8 9zm12 0l8-9 8 9-8 9zm25 0l8-9 8 9-8 9zm71 0l8-9 8 9-8 9zm13 0l8-9 8 9-8 9zm12 0l8-9 8 9-8 9zm65 0l8-9 8 9-8 9zm27 0l8-9 8 9-8 9zm21 0l8-9 8 9-8 9zm11 0l8-9 8 9-8 9zm637 0l8-9 8 9-8 9zm38 0l8-9 8 9-8 9zm12 0l8-9 8 9-8 9zm26 0l8-9 8 9-8 9zm12 0l8-9 8 9-8 9zm54 0l8-9 8 9-8 9zm13 0l8-9 8 9-8 9zm25 0l8-9 8 9-8 9zm17 0l8-9 8 9-8 9zm13 0l8-9 8 9-8 9zm12 0l8-9 8 9-8 9zm13 0l8-9 8 9-8 9zm39 0l8-9 8 9-8 9zm13 0l8-9 8 9-8 9zm13 0l8-9 8 9-8 9zm12 0l8-9 8 9-8 9zm26 0l8-9 8 9-8 9zm13 0l8-9 8 9-8 9zm13 0l8-9 8 9-8 9zm33 0l8-9 8 9-8 9zm21 0l8-9 8 9-8 9zm17 0l8-9 8 9-8 9zm12 0l8-9 8 9-8 9zm13 0l8-9 8 9-8 9zm25 0l8-9 8 9-8 9zm12 0l8-9 8 9-8 9zm-2975 27l8-9 8 9-8 9zm11 0l8-9 8 9-8 9zm12 0l8-9 8 9-8 9zm12 0l8-9 8 9-8 9zm11 0l8-9 8 9-8 9zm12 0l8-9 8 9-8 9zm29 0l8-9 8 9-8 9zm42 0l8-9 8 9-8 9zm14 0l8-9 8 9-8 9zm14 0l8-9 8 9-8 9zm14 0l8-9 8 9-8 9zm46 0l8-9 8 9-8 9zm12 0l8-9 8 9-8 9zm67 0l8-9 8 9-8 9zm142 0l8-9 8 9-8 9zm19 0l8-9 8 9-8 9zm13 0l8-9 8 9-8 9zm58 0l8-9 8 9-8 9zm13 0l8-9 8 9-8 9zm12 0l8-9 8 9-8 9zm13 0l8-9 8 9-8 9zm12 0l8-9 8 9-8 9zm88 0l8-9 8 9-8 9zm14 0l8-9 8 9-8 9zm14 0l8-9 8 9-8 9zm14 0l8-9 8 9-8 9zm21 0l8-9 8 9-8 9zm12 0l8-9 8 9-8 9zm13 0l8-9 8 9-8 9zm25 0l8-9 8 9-8 9zm13 0l8-9 8 9-8 9zm11 0l8-9 8 9-8 9zm11 0l8-9 8 9-8 9zm11 0l8-9 8 9-8 9zm29 0l8-9 8 9-8 9zm316 0l8-9 8 9-8 9zm12 0l8-9 8 9-8 9zm11 0l8-9 8 9-8 9zm23 0l8-9 8 9-8 9zm17 0l8-9 8 9-8 9zm29 0l8-9 8 9-8 9zm21 0l8-9 8 9-8 9zm13 0l8-9 8 9-8 9zm27 0l8-9 8 9-8 9zm13 0l8-9 8 9-8 9zm14 0l8-9 8 9-8 9zm183 0l8-9 8 9-8 9zm51 0l8-9 8 9-8 9zm29 0l8-9 8 9-8 9zm29 0l8-9 8 9-8 9zm46 0l8-9 8 9-8 9zm136 0l8-9 8 9-8 9zm650 0l8-9 8 9-8 9zm17 0l8-9 8 9-8 9zm25 0l8-9 8 9-8 9zm29 0l8-9 8 9-8 9zm42 0l8-9 8 9-8 9zm33 0l8-9 8 9-8 9zm42 0l8-9 8 9-8 9zm50 0l8-9 8 9-8 9zm25 0l8-9 8 9-8 9zm25 0l8-9 8 9-8 9zm25 0l8-9 8 9-8 9zm13 0l8-9 8 9-8 9zm29 0l8-9 8 9-8 9zm25 0l8-9 8 9-8 9zm30 0l8-9 8 9-8 9zm13 0l8-9 8 9-8 9zm13 0l8-9 8 9-8 9zm13 0l8-9 8 9-8 9zm13 0l8-9 8 9-8 9zm13 0l8-9 8 9-8 9zm13 0l8-9 8 9-8 9zm13 0l8-9 8 9-8 9zm-2984 28l8-9 8 9-8 9zm12 0l8-9 8 9-8 9zm24 0l8-9 8 9-8 9zm12 0l8-9 8 9-8 9zm12 0l8-9 8 9-8 9zm13 0l8-9 8 9-8 9zm12 0l8-9 8 9-8 9zm24 0l8-9 8 9-8 9zm8 0l8-9 8 9-8 9zm25 0l8-9 8 9-8 9zm13 0l8-9 8 9-8 9zm12 0l8-9 8 9-8 9zm13 0l8-9 8 9-8 9zm12 0l8-9 8 9-8 9zm101 0l8-9 8 9-8 9zm12 0l8-9 8 9-8 9zm117 0l8-9 8 9-8 9zm57 0l8-9 8 9-8 9zm37 0l8-9 8 9-8 9zm14 0l8-9 8 9-8 9zm13 0l8-9 8 9-8 9zm13 0l8-9 8 9-8 9zm13 0l8-9 8 9-8 9zm14 0l8-9 8 9-8 9zm13 0l8-9 8 9-8 9zm21 0l8-9 8 9-8 9zm54 0l8-9 8 9-8 9zm38 0l8-9 8 9-8 9zm11 0l8-9 8 9-8 9zm36 0l8-9 8 9-8 9zm12 0l8-9 8 9-8 9zm12 0l8-9 8 9-8 9zm12 0l8-9 8 9-8 9zm25 0l8-9 8 9-8 9zm13 0l8-9 8 9-8 9zm25 0l8-9 8 9-8 9zm17 0l8-9 8 9-8 9zm274 0l8-9 8 9-8 9zm33 0l8-9 8 9-8 9zm36 0l8-9 8 9-8 9zm11 0l8-9 8 9-8 9zm24 0l8-9 8 9-8 9zm59 0l8-9 8 9-8 9zm13 0l8-9 8 9-8 9zm13 0l8-9 8 9-8 9zm26 0l8-9 8 9-8 9zm26 0l8-9 8 9-8 9zm13 0l8-9 8 9-8 9zm67 0l8-9 8 9-8 9zm92 0l8-9 8 9-8 9zm90 0l8-9 8 9-8 9zm44 0l8-9 8 9-8 9zm62 0l8-9 8 9-8 9zm3 0l8-9 8 9-8 9zm58 0l8-9 8 9-8 9zm13 0l8-9 8 9-8 9zm654 0l8-9 8 9-8 9zm22 0l8-9 8 9-8 9zm12 0l8-9 8 9-8 9zm29 0l8-9 8 9-8 9zm29 0l8-9 8 9-8 9zm13 0l8-9 8 9-8 9zm12 0l8-9 8 9-8 9zm25 0l8-9 8 9-8 9zm46 0l8-9 8 9-8 9zm12 0l8-9 8 9-8 9zm13 0l8-9 8 9-8 9zm24 0l8-9 8 9-8 9zm12 0l8-9 8 9-8 9zm24 0l8-9 8 9-8 9zm13 0l8-9 8 9-8 9zm12 0l8-9 8 9-8 9zm36 0l8-9 8 9-8 9zm17 0l8-9 8 9-8 9zm29 0l8-9 8 9-8 9zm25 0l8-9 8 9-8 9zm12 0l8-9 8 9-8 9zm12 0l8-9 8 9-8 9zm24 0l8-9 8 9-8 9zm12 0l8-9 8 9-8 9zm36 0l8-9 8 9-8 9zm-2992 27l8-9 8 9-8 9zm12 0l8-9 8 9-8 9zm12 0l8-9 8 9-8 9zm12 0l8-9 8 9-8 9zm13 0l8-9 8 9-8 9zm12 0l8-9 8 9-8 9zm12 0l8-9 8 9-8 9zm12 0l8-9 8 9-8 9zm25 0l8-9 8 9-8 9zm12 0l8-9 8 9-8 9zm12 0l8-9 8 9-8 9zm12 0l8-9 8 9-8 9zm13 0l8-9 8 9-8 9zm50 0l8-9 8 9-8 9zm25 0l8-9 8 9-8 9zm83 0l8-9 8 9-8 9zm121 0l8-9 8 9-8 9zm32 0l8-9 8 9-8 9zm13 0l8-9 8 9-8 9zm21 0l8-9 8 9-8 9zm13 0l8-9 8 9-8 9zm13 0l8-9 8 9-8 9zm13 0l8-9 8 9-8 9zm13 0l8-9 8 9-8 9zm13 0l8-9 8 9-8 9zm13 0l8-9 8 9-8 9zm13 0l8-9 8 9-8 9zm51 0l8-9 8 9-8 9zm33 0l8-9 8 9-8 9zm63 0l8-9 8 9-8 9zm29 0l8-9 8 9-8 9zm13 0l8-9 8 9-8 9zm13 0l8-9 8 9-8 9zm13 0l8-9 8 9-8 9zm13 0l8-9 8 9-8 9zm14 0l8-9 8 9-8 9zm13 0l8-9 8 9-8 9zm13 0l8-9 8 9-8 9zm328 0l8-9 8 9-8 9zm26 0l8-9 8 9-8 9zm13 0l8-9 8 9-8 9zm13 0l8-9 8 9-8 9zm13 0l8-9 8 9-8 9zm39 0l8-9 8 9-8 9zm26 0l8-9 8 9-8 9zm29 0l8-9 8 9-8 9zm12 0l8-9 8 9-8 9zm12 0l8-9 8 9-8 9zm11 0l8-9 8 9-8 9zm12 0l8-9 8 9-8 9zm24 0l8-9 8 9-8 9zm184 0l8-9 8 9-8 9zm21 0l8-9 8 9-8 9zm79 0l8-9 8 9-8 9zm29 0l8-9 8 9-8 9zm29 0l8-9 8 9-8 9zm3 0l8-9 8 9-8 9zm15 0l8-9 8 9-8 9zm14 0l8-9 8 9-8 9zm25 0l8-9 8 9-8 9zm23 0l8-9 8 9-8 9zm11 0l8-9 8 9-8 9zm639 0l8-9 8 9-8 9zm72 0l8-9 8 9-8 9zm31 0l8-9 8 9-8 9zm65 0l8-9 8 9-8 9zm27 0l8-9 8 9-8 9zm11 0l8-9 8 9-8 9zm12 0l8-9 8 9-8 9zm11 0l8-9 8 9-8 9zm11 0l8-9 8 9-8 9zm21 0l8-9 8 9-8 9zm13 0l8-9 8 9-8 9zm12 0l8-9 8 9-8 9zm21 0l8-9 8 9-8 9zm46 0l8-9 8 9-8 9zm65 0l8-9 8 9-8 9zm27 0l8-9 8 9-8 9zm27 0l8-9 8 9-8 9zm27 0l8-9 8 9-8 9zm-2988 28l8-9 8 9-8 9zm13 0l8-9 8 9-8 9zm20 0l8-9 8 9-8 9zm12 0l8-9 8 9-8 9zm13 0l8-9 8 9-8 9zm12 0l8-9 8 9-8 9zm12 0l8-9 8 9-8 9zm12 0l8-9 8 9-8 9zm12 0l8-9 8 9-8 9zm12 0l8-9 8 9-8 9zm12 0l8-9 8 9-8 9zm12 0l8-9 8 9-8 9zm29 0l8-9 8 9-8 9zm29 0l8-9 8 9-8 9zm113 0l8-9 8 9-8 9zm80 0l8-9 8 9-8 9zm16 0l8-9 8 9-8 9zm74 0l8-9 8 9-8 9zm12 0l8-9 8 9-8 9zm46 0l8-9 8 9-8 9zm25 0l8-9 8 9-8 9zm10 0l8-9 8 9-8 9zm10 0l8-9 8 9-8 9zm160 0l8-9 8 9-8 9zm17 0l8-9 8 9-8 9zm25 0l8-9 8 9-8 9zm29 0l8-9 8 9-8 9zm50 0l8-9 8 9-8 9zm274 0l8-9 8 9-8 9zm9 0l8-9 8 9-8 9zm33 0l8-9 8 9-8 9zm13 0l8-9 8 9-8 9zm12 0l8-9 8 9-8 9zm13 0l8-9 8 9-8 9zm37 0l8-9 8 9-8 9zm42 0l8-9 8 9-8 9zm63 0l8-9 8 9-8 9zm16 0l8-9 8 9-8 9zm38 0l8-9 8 9-8 9zm205 0l8-9 8 9-8 9zm16 0l8-9 8 9-8 9zm76 0l8-9 8 9-8 9zm115 0l8-9 8 9-8 9zm10 0l8-9 8 9-8 9zm11 0l8-9 8 9-8 9zm637 0l8-9 8 9-8 9zm27 0l8-9 8 9-8 9zm53 0l8-9 8 9-8 9zm11 0l8-9 8 9-8 9zm12 0l8-9 8 9-8 9zm12 0l8-9 8 9-8 9zm12 0l8-9 8 9-8 9zm12 0l8-9 8 9-8 9zm12 0l8-9 8 9-8 9zm8 0l8-9 8 9-8 9zm13 0l8-9 8 9-8 9zm26 0l8-9 8 9-8 9zm13 0l8-9 8 9-8 9zm14 0l8-9 8 9-8 9zm13 0l8-9 8 9-8 9zm13 0l8-9 8 9-8 9zm12 0l8-9 8 9-8 9zm13 0l8-9 8 9-8 9zm37 0l8-9 8 9-8 9zm42 0l8-9 8 9-8 9zm42 0l8-9 8 9-8 9zm50 0l8-9 8 9-8 9zm29 0l8-9 8 9-8 9zm13 0l8-9 8 9-8 9zm12 0l8-9 8 9-8 9zm-2988 27l8-9 8 9-8 9zm46 0l8-9 8 9-8 9zm12 0l8-9 8 9-8 9zm12 0l8-9 8 9-8 9zm12 0l8-9 8 9-8 9zm12 0l8-9 8 9-8 9zm12 0l8-9 8 9-8 9zm12 0l8-9 8 9-8 9zm12 0l8-9 8 9-8 9zm12 0l8-9 8 9-8 9zm13 0l8-9 8 9-8 9zm29 0l8-9 8 9-8 9zm129 0l8-9 8 9-8 9zm75 0l8-9 8 9-8 9zm14 0l8-9 8 9-8 9zm14 0l8-9 8 9-8 9zm14 0l8-9 8 9-8 9zm49 0l8-9 8 9-8 9zm11 0l8-9 8 9-8 9zm11 0l8-9 8 9-8 9zm11 0l8-9 8 9-8 9zm50 0l8-9 8 9-8 9zm77 0l8-9 8 9-8 9zm64 0l8-9 8 9-8 9zm43 0l8-9 8 9-8 9zm12 0l8-9 8 9-8 9zm12 0l8-9 8 9-8 9zm12 0l8-9 8 9-8 9zm12 0l8-9 8 9-8 9zm12 0l8-9 8 9-8 9zm24 0l8-9 8 9-8 9zm20 0l8-9 8 9-8 9zm13 0l8-9 8 9-8 9zm13 0l8-9 8 9-8 9zm257 0l8-9 8 9-8 9zm12 0l8-9 8 9-8 9zm13 0l8-9 8 9-8 9zm38 0l8-9 8 9-8 9zm12 0l8-9 8 9-8 9zm25 0l8-9 8 9-8 9zm13 0l8-9 8 9-8 9zm25 0l8-9 8 9-8 9zm50 0l8-9 8 9-8 9zm25 0l8-9 8 9-8 9zm12 0l8-9 8 9-8 9zm38 0l8-9 8 9-8 9zm13 0l8-9 8 9-8 9zm12 0l8-9 8 9-8 9zm13 0l8-9 8 9-8 9zm171 0l8-9 8 9-8 9zm17 0l8-9 8 9-8 9zm37 0l8-9 8 9-8 9zm170 0l8-9 8 9-8 9zm25 0l8-9 8 9-8 9zm654 0l8-9 8 9-8 9zm38 0l8-9 8 9-8 9zm46 0l8-9 8 9-8 9zm12 0l8-9 8 9-8 9zm50 0l8-9 8 9-8 9zm25 0l8-9 8 9-8 9zm13 0l8-9 8 9-8 9zm12 0l8-9 8 9-8 9zm38 0l8-9 8 9-8 9zm13 0l8-9 8 9-8 9zm12 0l8-9 8 9-8 9zm13 0l8-9 8 9-8 9zm25 0l8-9 8 9-8 9zm73 0l8-9 8 9-8 9zm44 0l8-9 8 9-8 9zm12 0l8-9 8 9-8 9zm29 0l8-9 8 9-8 9zm13 0l8-9 8 9-8 9zm12 0l8-9 8 9-8 9zm-2988 28l8-9 8 9-8 9zm13 0l8-9 8 9-8 9zm18 0l8-9 8 9-8 9zm12 0l8-9 8 9-8 9zm12 0l8-9 8 9-8 9zm12 0l8-9 8 9-8 9zm12 0l8-9 8 9-8 9zm12 0l8-9 8 9-8 9zm12 0l8-9 8 9-8 9zm12 0l8-9 8 9-8 9zm11 0l8-9 8 9-8 9zm12 0l8-9 8 9-8 9zm12 0l8-9 8 9-8 9zm34 0l8-9 8 9-8 9zm129 0l8-9 8 9-8 9zm96 0l8-9 8 9-8 9zm21 0l8-9 8 9-8 9zm40 0l8-9 8 9-8 9zm67 0l8-9 8 9-8 9zm34 0l8-9 8 9-8 9zm79 0l8-9 8 9-8 9zm13 0l8-9 8 9-8 9zm75 0l8-9 8 9-8 9zm21 0l8-9 8 9-8 9zm16 0l8-9 8 9-8 9zm21 0l8-9 8 9-8 9zm13 0l8-9 8 9-8 9zm25 0l8-9 8 9-8 9zm25 0l8-9 8 9-8 9zm12 0l8-9 8 9-8 9zm254 0l8-9 8 9-8 9zm13 0l8-9 8 9-8 9zm13 0l8-9 8 9-8 9zm14 0l8-9 8 9-8 9zm13 0l8-9 8 9-8 9zm13 0l8-9 8 9-8 9zm46 0l8-9 8 9-8 9zm82 0l8-9 8 9-8 9zm35 0l8-9 8 9-8 9zm42 0l8-9 8 9-8 9zm238 0l8-9 8 9-8 9zm849 0l8-9 8 9-8 9zm46 0l8-9 8 9-8 9zm33 0l8-9 8 9-8 9zm25 0l8-9 8 9-8 9zm14 0l8-9 8 9-8 9zm41 0l8-9 8 9-8 9zm16 0l8-9 8 9-8 9zm14 0l8-9 8 9-8 9zm28 0l8-9 8 9-8 9zm13 0l8-9 8 9-8 9zm11 0l8-9 8 9-8 9zm22 0l8-9 8 9-8 9zm25 0l8-9 8 9-8 9zm34 0l8-9 8 9-8 9zm29 0l8-9 8 9-8 9zm92 0l8-9 8 9-8 9zm37 0l8-9 8 9-8 9zm13 0l8-9 8 9-8 9zm12 0l8-9 8 9-8 9zm13 0l8-9 8 9-8 9zm-3001 27l8-9 8 9-8 9zm46 0l8-9 8 9-8 9zm13 0l8-9 8 9-8 9zm13 0l8-9 8 9-8 9zm13 0l8-9 8 9-8 9zm13 0l8-9 8 9-8 9zm13 0l8-9 8 9-8 9zm13 0l8-9 8 9-8 9zm13 0l8-9 8 9-8 9zm13 0l8-9 8 9-8 9zm25 0l8-9 8 9-8 9zm46 0l8-9 8 9-8 9zm96 0l8-9 8 9-8 9zm67 0l8-9 8 9-8 9zm34 0l8-9 8 9-8 9zm73 0l8-9 8 9-8 9zm21 0l8-9 8 9-8 9zm50 0l8-9 8 9-8 9zm25 0l8-9 8 9-8 9zm25 0l8-9 8 9-8 9zm63 0l8-9 8 9-8 9zm13 0l8-9 8 9-8 9zm12 0l8-9 8 9-8 9zm50 0l8-9 8 9-8 9zm12 0l8-9 8 9-8 9zm12 0l8-9 8 9-8 9zm12 0l8-9 8 9-8 9zm12 0l8-9 8 9-8 9zm24 0l8-9 8 9-8 9zm12 0l8-9 8 9-8 9zm12 0l8-9 8 9-8 9zm17 0l8-9 8 9-8 9zm213 0l8-9 8 9-8 9zm49 0l8-9 8 9-8 9zm12 0l8-9 8 9-8 9zm13 0l8-9 8 9-8 9zm25 0l8-9 8 9-8 9zm25 0l8-9 8 9-8 9zm25 0l8-9 8 9-8 9zm36 0l8-9 8 9-8 9zm22 0l8-9 8 9-8 9zm50 0l8-9 8 9-8 9zm25 0l8-9 8 9-8 9zm59 0l8-9 8 9-8 9zm83 0l8-9 8 9-8 9zm97 0l8-9 8 9-8 9zm29 0l8-9 8 9-8 9zm92 0l8-9 8 9-8 9zm16 0l8-9 8 9-8 9zm105 0l8-9 8 9-8 9zm17 0l8-9 8 9-8 9zm623 0l8-9 8 9-8 9zm12 0l8-9 8 9-8 9zm21 0l8-9 8 9-8 9zm25 0l8-9 8 9-8 9zm25 0l8-9 8 9-8 9zm13 0l8-9 8 9-8 9zm12 0l8-9 8 9-8 9zm12 0l8-9 8 9-8 9zm13 0l8-9 8 9-8 9zm12 0l8-9 8 9-8 9zm12 0l8-9 8 9-8 9zm12 0l8-9 8 9-8 9zm13 0l8-9 8 9-8 9zm12 0l8-9 8 9-8 9zm12 0l8-9 8 9-8 9zm12 0l8-9 8 9-8 9zm12 0l8-9 8 9-8 9zm25 0l8-9 8 9-8 9zm12 0l8-9 8 9-8 9zm4 0l8-9 8 9-8 9zm25 0l8-9 8 9-8 9zm13 0l8-9 8 9-8 9zm12 0l8-9 8 9-8 9zm151 0l8-9 8 9-8 9zm11 0l8-9 8 9-8 9zm23 0l8-9 8 9-8 9zm12 0l8-9 8 9-8 9zm-3001 28l8-9 8 9-8 9zm17 0l8-9 8 9-8 9zm20 0l8-9 8 9-8 9zm13 0l8-9 8 9-8 9zm54 0l8-9 8 9-8 9zm12 0l8-9 8 9-8 9zm12 0l8-9 8 9-8 9zm24 0l8-9 8 9-8 9zm12 0l8-9 8 9-8 9zm12 0l8-9 8 9-8 9zm12 0l8-9 8 9-8 9zm29 0l8-9 8 9-8 9zm29 0l8-9 8 9-8 9zm67 0l8-9 8 9-8 9zm15 0l8-9 8 9-8 9zm14 0l8-9 8 9-8 9zm34 0l8-9 8 9-8 9zm13 0l8-9 8 9-8 9zm38 0l8-9 8 9-8 9zm13 0l8-9 8 9-8 9zm13 0l8-9 8 9-8 9zm13 0l8-9 8 9-8 9zm4 0l8-9 8 9-8 9zm13 0l8-9 8 9-8 9zm37 0l8-9 8 9-8 9zm63 0l8-9 8 9-8 9zm54 0l8-9 8 9-8 9zm13 0l8-9 8 9-8 9zm12 0l8-9 8 9-8 9zm80 0l8-9 8 9-8 9zm21 0l8-9 8 9-8 9zm12 0l8-9 8 9-8 9zm25 0l8-9 8 9-8 9zm13 0l8-9 8 9-8 9zm12 0l8-9 8 9-8 9zm13 0l8-9 8 9-8 9zm14 0l8-9 8 9-8 9zm14 0l8-9 8 9-8 9zm14 0l8-9 8 9-8 9zm249 0l8-9 8 9-8 9zm12 0l8-9 8 9-8 9zm13 0l8-9 8 9-8 9zm12 0l8-9 8 9-8 9zm13 0l8-9 8 9-8 9zm12 0l8-9 8 9-8 9zm46 0l8-9 8 9-8 9zm75 0l8-9 8 9-8 9zm80 0l8-9 8 9-8 9zm35 0l8-9 8 9-8 9zm82 0l8-9 8 9-8 9zm60 0l8-9 8 9-8 9zm82 0l8-9 8 9-8 9zm71 0l8-9 8 9-8 9zm102 0l8-9 8 9-8 9zm32 0l8-9 8 9-8 9zm577 0l8-9 8 9-8 9zm10 0l8-9 8 9-8 9zm11 0l8-9 8 9-8 9zm20 0l8-9 8 9-8 9zm82 0l8-9 8 9-8 9zm23 0l8-9 8 9-8 9zm24 0l8-9 8 9-8 9zm37 0l8-9 8 9-8 9zm12 0l8-9 8 9-8 9zm37 0l8-9 8 9-8 9zm25 0l8-9 8 9-8 9zm12 0l8-9 8 9-8 9zm24 0l8-9 8 9-8 9zm13 0l8-9 8 9-8 9zm16 0l8-9 8 9-8 9zm24 0l8-9 8 9-8 9zm12 0l8-9 8 9-8 9zm23 0l8-9 8 9-8 9zm50 0l8-9 8 9-8 9zm13 0l8-9 8 9-8 9zm12 0l8-9 8 9-8 9zm13 0l8-9 8 9-8 9zm41 0l8-9 8 9-8 9zm12 0l8-9 8 9-8 9zm22 0l8-9 8 9-8 9zm-2926 27l8-9 8 9-8 9zm15 0l8-9 8 9-8 9zm14 0l8-9 8 9-8 9zm17 0l8-9 8 9-8 9zm11 0l8-9 8 9-8 9zm11 0l8-9 8 9-8 9zm11 0l8-9 8 9-8 9zm30 0l8-9 8 9-8 9zm129 0l8-9 8 9-8 9zm25 0l8-9 8 9-8 9zm38 0l8-9 8 9-8 9zm11 0l8-9 8 9-8 9zm12 0l8-9 8 9-8 9zm23 0l8-9 8 9-8 9zm16 0l8-9 8 9-8 9zm28 0l8-9 8 9-8 9zm4 0l8-9 8 9-8 9zm12 0l8-9 8 9-8 9zm12 0l8-9 8 9-8 9zm11 0l8-9 8 9-8 9zm24 0l8-9 8 9-8 9zm44 0l8-9 8 9-8 9zm114 0l8-9 8 9-8 9zm45 0l8-9 8 9-8 9zm51 0l8-9 8 9-8 9zm12 0l8-9 8 9-8 9zm11 0l8-9 8 9-8 9zm11 0l8-9 8 9-8 9zm21 0l8-9 8 9-8 9zm14 0l8-9 8 9-8 9zm14 0l8-9 8 9-8 9zm14 0l8-9 8 9-8 9zm244 0l8-9 8 9-8 9zm13 0l8-9 8 9-8 9zm13 0l8-9 8 9-8 9zm14 0l8-9 8 9-8 9zm13 0l8-9 8 9-8 9zm26 0l8-9 8 9-8 9zm13 0l8-9 8 9-8 9zm13 0l8-9 8 9-8 9zm29 0l8-9 8 9-8 9zm25 0l8-9 8 9-8 9zm29 0l8-9 8 9-8 9zm25 0l8-9 8 9-8 9zm13 0l8-9 8 9-8 9zm12 0l8-9 8 9-8 9zm13 0l8-9 8 9-8 9zm13 0l8-9 8 9-8 9zm12 0l8-9 8 9-8 9zm13 0l8-9 8 9-8 9zm91 0l8-9 8 9-8 9zm56 0l8-9 8 9-8 9zm47 0l8-9 8 9-8 9zm81 0l8-9 8 9-8 9zm46 0l8-9 8 9-8 9zm111 0l8-9 8 9-8 9zm11 0l8-9 8 9-8 9zm10 0l8-9 8 9-8 9zm24 0l8-9 8 9-8 9zm547 0l8-9 8 9-8 9zm10 0l8-9 8 9-8 9zm11 0l8-9 8 9-8 9zm25 0l8-9 8 9-8 9zm10 0l8-9 8 9-8 9zm11 0l8-9 8 9-8 9zm41 0l8-9 8 9-8 9zm13 0l8-9 8 9-8 9zm13 0l8-9 8 9-8 9zm26 0l8-9 8 9-8 9zm25 0l8-9 8 9-8 9zm13 0l8-9 8 9-8 9zm13 0l8-9 8 9-8 9zm13 0l8-9 8 9-8 9zm25 0l8-9 8 9-8 9zm26 0l8-9 8 9-8 9zm13 0l8-9 8 9-8 9zm12 0l8-9 8 9-8 9zm13 0l8-9 8 9-8 9zm17 0l8-9 8 9-8 9zm12 0l8-9 8 9-8 9zm13 0l8-9 8 9-8 9zm27 0l8-9 8 9-8 9zm119 0l8-9 8 9-8 9zm42 0l8-9 8 9-8 9zm12 0l8-9 8 9-8 9zm13 0l8-9 8 9-8 9zm67 0l8-9 8 9-8 9zm-3062 28l8-9 8 9-8 9zm73 0l8-9 8 9-8 9zm13 0l8-9 8 9-8 9zm12 0l8-9 8 9-8 9zm13 0l8-9 8 9-8 9zm12 0l8-9 8 9-8 9zm13 0l8-9 8 9-8 9zm50 0l8-9 8 9-8 9zm121 0l8-9 8 9-8 9zm13 0l8-9 8 9-8 9zm12 0l8-9 8 9-8 9zm38 0l8-9 8 9-8 9zm12 0l8-9 8 9-8 9zm13 0l8-9 8 9-8 9zm13 0l8-9 8 9-8 9zm12 0l8-9 8 9-8 9zm21 0l8-9 8 9-8 9zm15 0l8-9 8 9-8 9zm4 0l8-9 8 9-8 9zm13 0l8-9 8 9-8 9zm12 0l8-9 8 9-8 9zm25 0l8-9 8 9-8 9zm70 0l8-9 8 9-8 9zm31 0l8-9 8 9-8 9zm161 0l8-9 8 9-8 9zm27 0l8-9 8 9-8 9zm12 0l8-9 8 9-8 9zm299 0l8-9 8 9-8 9zm13 0l8-9 8 9-8 9zm12 0l8-9 8 9-8 9zm13 0l8-9 8 9-8 9zm12 0l8-9 8 9-8 9zm21 0l8-9 8 9-8 9zm17 0l8-9 8 9-8 9zm48 0l8-9 8 9-8 9zm35 0l8-9 8 9-8 9zm13 0l8-9 8 9-8 9zm13 0l8-9 8 9-8 9zm37 0l8-9 8 9-8 9zm121 0l8-9 8 9-8 9zm25 0l8-9 8 9-8 9zm169 0l8-9 8 9-8 9zm189 0l8-9 8 9-8 9zm21 0l8-9 8 9-8 9zm12 0l8-9 8 9-8 9zm533 0l8-9 8 9-8 9zm23 0l8-9 8 9-8 9zm11 0l8-9 8 9-8 9zm12 0l8-9 8 9-8 9zm13 0l8-9 8 9-8 9zm67 0l8-9 8 9-8 9zm29 0l8-9 8 9-8 9zm25 0l8-9 8 9-8 9zm24 0l8-9 8 9-8 9zm12 0l8-9 8 9-8 9zm12 0l8-9 8 9-8 9zm12 0l8-9 8 9-8 9zm12 0l8-9 8 9-8 9zm25 0l8-9 8 9-8 9zm12 0l8-9 8 9-8 9zm12 0l8-9 8 9-8 9zm21 0l8-9 8 9-8 9zm113 0l8-9 8 9-8 9zm133 0l8-9 8 9-8 9zm13 0l8-9 8 9-8 9zm67 0l8-9 8 9-8 9zm18 0l8-9 8 9-8 9zm-3086 27l8-9 8 9-8 9zm94 0l8-9 8 9-8 9zm23 0l8-9 8 9-8 9zm12 0l8-9 8 9-8 9zm13 0l8-9 8 9-8 9zm13 0l8-9 8 9-8 9zm12 0l8-9 8 9-8 9zm155 0l8-9 8 9-8 9zm10 0l8-9 8 9-8 9zm11 0l8-9 8 9-8 9zm12 0l8-9 8 9-8 9zm24 0l8-9 8 9-8 9zm47 0l8-9 8 9-8 9zm12 0l8-9 8 9-8 9zm12 0l8-9 8 9-8 9zm12 0l8-9 8 9-8 9zm4 0l8-9 8 9-8 9zm23 0l8-9 8 9-8 9zm12 0l8-9 8 9-8 9zm11 0l8-9 8 9-8 9zm180 0l8-9 8 9-8 9zm104 0l8-9 8 9-8 9zm11 0l8-9 8 9-8 9zm10 0l8-9 8 9-8 9zm21 0l8-9 8 9-8 9zm11 0l8-9 8 9-8 9zm22 0l8-9 8 9-8 9zm193 0l8-9 8 9-8 9zm10 0l8-9 8 9-8 9zm10 0l8-9 8 9-8 9zm32 0l8-9 8 9-8 9zm12 0l8-9 8 9-8 9zm11 0l8-9 8 9-8 9zm23 0l8-9 8 9-8 9zm29 0l8-9 8 9-8 9zm25 0l8-9 8 9-8 9zm13 0l8-9 8 9-8 9zm12 0l8-9 8 9-8 9zm26 0l8-9 8 9-8 9zm91 0l8-9 8 9-8 9zm13 0l8-9 8 9-8 9zm13 0l8-9 8 9-8 9zm35 0l8-9 8 9-8 9zm100 0l8-9 8 9-8 9zm78 0l8-9 8 9-8 9zm37 0l8-9 8 9-8 9zm48 0l8-9 8 9-8 9zm134 0l8-9 8 9-8 9zm34 0l8-9 8 9-8 9zm14 0l8-9 8 9-8 9zm14 0l8-9 8 9-8 9zm13 0l8-9 8 9-8 9zm510 0l8-9 8 9-8 9zm19 0l8-9 8 9-8 9zm25 0l8-9 8 9-8 9zm13 0l8-9 8 9-8 9zm38 0l8-9 8 9-8 9zm45 0l8-9 8 9-8 9zm25 0l8-9 8 9-8 9zm49 0l8-9 8 9-8 9zm24 0l8-9 8 9-8 9zm25 0l8-9 8 9-8 9zm12 0l8-9 8 9-8 9zm12 0l8-9 8 9-8 9zm25 0l8-9 8 9-8 9zm33 0l8-9 8 9-8 9zm17 0l8-9 8 9-8 9zm32 0l8-9 8 9-8 9zm22 0l8-9 8 9-8 9zm171 0l8-9 8 9-8 9zm17 0l8-9 8 9-8 9zm38 0l8-9 8 9-8 9zm9 0l8-9 8 9-8 9zm10 0l8-9 8 9-8 9zm11 0l8-9 8 9-8 9zm11 0l8-9 8 9-8 9zm-3011 28l8-9 8 9-8 9zm40 0l8-9 8 9-8 9zm21 0l8-9 8 9-8 9zm16 0l8-9 8 9-8 9zm17 0l8-9 8 9-8 9zm138 0l8-9 8 9-8 9zm12 0l8-9 8 9-8 9zm12 0l8-9 8 9-8 9zm12 0l8-9 8 9-8 9zm36 0l8-9 8 9-8 9zm13 0l8-9 8 9-8 9zm24 0l8-9 8 9-8 9zm12 0l8-9 8 9-8 9zm36 0l8-9 8 9-8 9zm4 0l8-9 8 9-8 9zm13 0l8-9 8 9-8 9zm12 0l8-9 8 9-8 9zm25 0l8-9 8 9-8 9zm78 0l8-9 8 9-8 9zm27 0l8-9 8 9-8 9zm67 0l8-9 8 9-8 9zm33 0l8-9 8 9-8 9zm17 0l8-9 8 9-8 9zm92 0l8-9 8 9-8 9zm12 0l8-9 8 9-8 9zm13 0l8-9 8 9-8 9zm217 0l8-9 8 9-8 9zm12 0l8-9 8 9-8 9zm32 0l8-9 8 9-8 9zm13 0l8-9 8 9-8 9zm25 0l8-9 8 9-8 9zm12 0l8-9 8 9-8 9zm45 0l8-9 8 9-8 9zm36 0l8-9 8 9-8 9zm57 0l8-9 8 9-8 9zm27 0l8-9 8 9-8 9zm27 0l8-9 8 9-8 9zm159 0l8-9 8 9-8 9zm75 0l8-9 8 9-8 9zm73 0l8-9 8 9-8 9zm179 0l8-9 8 9-8 9zm12 0l8-9 8 9-8 9zm12 0l8-9 8 9-8 9zm12 0l8-9 8 9-8 9zm12 0l8-9 8 9-8 9zm12 0l8-9 8 9-8 9zm65 0l8-9 8 9-8 9zm460 0l8-9 8 9-8 9zm10 0l8-9 8 9-8 9zm11 0l8-9 8 9-8 9zm37 0l8-9 8 9-8 9zm11 0l8-9 8 9-8 9zm23 0l8-9 8 9-8 9zm41 0l8-9 8 9-8 9zm27 0l8-9 8 9-8 9zm13 0l8-9 8 9-8 9zm13 0l8-9 8 9-8 9zm13 0l8-9 8 9-8 9zm13 0l8-9 8 9-8 9zm13 0l8-9 8 9-8 9zm92 0l8-9 8 9-8 9zm21 0l8-9 8 9-8 9zm130 0l8-9 8 9-8 9zm91 0l8-9 8 9-8 9zm55 0l8-9 8 9-8 9zm9 0l8-9 8 9-8 9zm10 0l8-9 8 9-8 9zm11 0l8-9 8 9-8 9zm11 0l8-9 8 9-8 9zm-3080 27l8-9 8 9-8 9zm113 0l8-9 8 9-8 9zm12 0l8-9 8 9-8 9zm21 0l8-9 8 9-8 9zm167 0l8-9 8 9-8 9zm27 0l8-9 8 9-8 9zm13 0l8-9 8 9-8 9zm27 0l8-9 8 9-8 9zm13 0l8-9 8 9-8 9zm12 0l8-9 8 9-8 9zm40 0l8-9 8 9-8 9zm13 0l8-9 8 9-8 9zm4 0l8-9 8 9-8 9zm42 0l8-9 8 9-8 9zm117 0l8-9 8 9-8 9zm53 0l8-9 8 9-8 9zm68 0l8-9 8 9-8 9zm71 0l8-9 8 9-8 9zm21 0l8-9 8 9-8 9zm12 0l8-9 8 9-8 9zm13 0l8-9 8 9-8 9zm160 0l8-9 8 9-8 9zm45 0l8-9 8 9-8 9zm41 0l8-9 8 9-8 9zm7 0l8-9 8 9-8 9zm27 0l8-9 8 9-8 9zm39 0l8-9 8 9-8 9zm14 0l8-9 8 9-8 9zm66 0l8-9 8 9-8 9zm101 0l8-9 8 9-8 9zm11 0l8-9 8 9-8 9zm22 0l8-9 8 9-8 9zm42 0l8-9 8 9-8 9zm104 0l8-9 8 9-8 9zm71 0l8-9 8 9-8 9zm9 0l8-9 8 9-8 9zm33 0l8-9 8 9-8 9zm13 0l8-9 8 9-8 9zm58 0l8-9 8 9-8 9zm124 0l8-9 8 9-8 9zm12 0l8-9 8 9-8 9zm13 0l8-9 8 9-8 9zm12 0l8-9 8 9-8 9zm13 0l8-9 8 9-8 9zm12 0l8-9 8 9-8 9zm172 0l8-9 8 9-8 9zm309 0l8-9 8 9-8 9zm9 0l8-9 8 9-8 9zm10 0l8-9 8 9-8 9zm8 0l8-9 8 9-8 9zm14 0l8-9 8 9-8 9zm28 0l8-9 8 9-8 9zm38 0l8-9 8 9-8 9zm46 0l8-9 8 9-8 9zm12 0l8-9 8 9-8 9zm11 0l8-9 8 9-8 9zm12 0l8-9 8 9-8 9zm12 0l8-9 8 9-8 9zm24 0l8-9 8 9-8 9zm46 0l8-9 8 9-8 9zm25 0l8-9 8 9-8 9zm11 0l8-9 8 9-8 9zm22 0l8-9 8 9-8 9zm50 0l8-9 8 9-8 9zm63 0l8-9 8 9-8 9zm29 0l8-9 8 9-8 9zm84 0l8-9 8 9-8 9zm41 0l8-9 8 9-8 9zm13 0l8-9 8 9-8 9zm12 0l8-9 8 9-8 9zm12 0l8-9 8 9-8 9zm12 0l8-9 8 9-8 9zm13 0l8-9 8 9-8 9zm12 0l8-9 8 9-8 9zm11 0l8-9 8 9-8 9zm11 0l8-9 8 9-8 9zm-3042 28l8-9 8 9-8 9zm92 0l8-9 8 9-8 9zm175 0l8-9 8 9-8 9zm13 0l8-9 8 9-8 9zm25 0l8-9 8 9-8 9zm12 0l8-9 8 9-8 9zm13 0l8-9 8 9-8 9zm12 0l8-9 8 9-8 9zm13 0l8-9 8 9-8 9zm13 0l8-9 8 9-8 9zm39 0l8-9 8 9-8 9zm13 0l8-9 8 9-8 9zm4 0l8-9 8 9-8 9zm17 0l8-9 8 9-8 9zm25 0l8-9 8 9-8 9zm288 0l8-9 8 9-8 9zm13 0l8-9 8 9-8 9zm12 0l8-9 8 9-8 9zm29 0l8-9 8 9-8 9zm13 0l8-9 8 9-8 9zm13 0l8-9 8 9-8 9zm125 0l8-9 8 9-8 9zm11 0l8-9 8 9-8 9zm11 0l8-9 8 9-8 9zm11 0l8-9 8 9-8 9zm38 0l8-9 8 9-8 9zm13 0l8-9 8 9-8 9zm14 0l8-9 8 9-8 9zm13 0l8-9 8 9-8 9zm4 0l8-9 8 9-8 9zm13 0l8-9 8 9-8 9zm27 0l8-9 8 9-8 9zm26 0l8-9 8 9-8 9zm14 0l8-9 8 9-8 9zm20 0l8-9 8 9-8 9zm12 0l8-9 8 9-8 9zm23 0l8-9 8 9-8 9zm11 0l8-9 8 9-8 9zm63 0l8-9 8 9-8 9zm81 0l8-9 8 9-8 9zm74 0l8-9 8 9-8 9zm196 0l8-9 8 9-8 9zm101 0l8-9 8 9-8 9zm52 0l8-9 8 9-8 9zm12 0l8-9 8 9-8 9zm20 0l8-9 8 9-8 9zm23 0l8-9 8 9-8 9zm12 0l8-9 8 9-8 9zm12 0l8-9 8 9-8 9zm34 0l8-9 8 9-8 9zm442 0l8-9 8 9-8 9zm14 0l8-9 8 9-8 9zm14 0l8-9 8 9-8 9zm4 0l8-9 8 9-8 9zm54 0l8-9 8 9-8 9zm28 0l8-9 8 9-8 9zm14 0l8-9 8 9-8 9zm38 0l8-9 8 9-8 9zm12 0l8-9 8 9-8 9zm12 0l8-9 8 9-8 9zm24 0l8-9 8 9-8 9zm12 0l8-9 8 9-8 9zm12 0l8-9 8 9-8 9zm12 0l8-9 8 9-8 9zm24 0l8-9 8 9-8 9zm117 0l8-9 8 9-8 9zm80 0l8-9 8 9-8 9zm37 0l8-9 8 9-8 9zm101 0l8-9 8 9-8 9zm11 0l8-9 8 9-8 9zm12 0l8-9 8 9-8 9zm11 0l8-9 8 9-8 9zm12 0l8-9 8 9-8 9zm11 0l8-9 8 9-8 9zm12 0l8-9 8 9-8 9zm13 0l8-9 8 9-8 9zm14 0l8-9 8 9-8 9zm-3014 27l8-9 8 9-8 9zm80 0l8-9 8 9-8 9zm154 0l8-9 8 9-8 9zm17 0l8-9 8 9-8 9zm34 0l8-9 8 9-8 9zm12 0l8-9 8 9-8 9zm33 0l8-9 8 9-8 9zm12 0l8-9 8 9-8 9zm11 0l8-9 8 9-8 9zm11 0l8-9 8 9-8 9zm12 0l8-9 8 9-8 9zm11 0l8-9 8 9-8 9zm21 0l8-9 8 9-8 9zm15 0l8-9 8 9-8 9zm14 0l8-9 8 9-8 9zm167 0l8-9 8 9-8 9zm117 0l8-9 8 9-8 9zm29 0l8-9 8 9-8 9zm15 0l8-9 8 9-8 9zm15 0l8-9 8 9-8 9zm154 0l8-9 8 9-8 9zm13 0l8-9 8 9-8 9zm12 0l8-9 8 9-8 9zm34 0l8-9 8 9-8 9zm11 0l8-9 8 9-8 9zm11 0l8-9 8 9-8 9zm11 0l8-9 8 9-8 9zm11 0l8-9 8 9-8 9zm4 0l8-9 8 9-8 9zm13 0l8-9 8 9-8 9zm25 0l8-9 8 9-8 9zm16 0l8-9 8 9-8 9zm30 0l8-9 8 9-8 9zm50 0l8-9 8 9-8 9zm52 0l8-9 8 9-8 9zm40 0l8-9 8 9-8 9zm33 0l8-9 8 9-8 9zm11 0l8-9 8 9-8 9zm10 0l8-9 8 9-8 9zm257 0l8-9 8 9-8 9zm27 0l8-9 8 9-8 9zm40 0l8-9 8 9-8 9zm130 0l8-9 8 9-8 9zm25 0l8-9 8 9-8 9zm14 0l8-9 8 9-8 9zm28 0l8-9 8 9-8 9zm91 0l8-9 8 9-8 9zm46 0l8-9 8 9-8 9zm12 0l8-9 8 9-8 9zm11 0l8-9 8 9-8 9zm11 0l8-9 8 9-8 9zm292 0l8-9 8 9-8 9zm11 0l8-9 8 9-8 9zm10 0l8-9 8 9-8 9zm11 0l8-9 8 9-8 9zm14 0l8-9 8 9-8 9zm13 0l8-9 8 9-8 9zm14 0l8-9 8 9-8 9zm13 0l8-9 8 9-8 9zm71 0l8-9 8 9-8 9zm27 0l8-9 8 9-8 9zm14 0l8-9 8 9-8 9zm14 0l8-9 8 9-8 9zm25 0l8-9 8 9-8 9zm46 0l8-9 8 9-8 9zm192 0l8-9 8 9-8 9zm146 0l8-9 8 9-8 9zm12 0l8-9 8 9-8 9zm12 0l8-9 8 9-8 9zm13 0l8-9 8 9-8 9zm12 0l8-9 8 9-8 9zm12 0l8-9 8 9-8 9zm12 0l8-9 8 9-8 9zm11 0l8-9 8 9-8 9zm12 0l8-9 8 9-8 9zm-2976 28l8-9 8 9-8 9zm13 0l8-9 8 9-8 9zm183 0l8-9 8 9-8 9zm27 0l8-9 8 9-8 9zm13 0l8-9 8 9-8 9zm27 0l8-9 8 9-8 9zm13 0l8-9 8 9-8 9zm8 0l8-9 8 9-8 9zm34 0l8-9 8 9-8 9zm12 0l8-9 8 9-8 9zm11 0l8-9 8 9-8 9zm4 0l8-9 8 9-8 9zm376 0l8-9 8 9-8 9zm13 0l8-9 8 9-8 9zm12 0l8-9 8 9-8 9zm134 0l8-9 8 9-8 9zm11 0l8-9 8 9-8 9zm11 0l8-9 8 9-8 9zm11 0l8-9 8 9-8 9zm38 0l8-9 8 9-8 9zm13 0l8-9 8 9-8 9zm14 0l8-9 8 9-8 9zm13 0l8-9 8 9-8 9zm4 0l8-9 8 9-8 9zm9 0l8-9 8 9-8 9zm79 0l8-9 8 9-8 9zm15 0l8-9 8 9-8 9zm14 0l8-9 8 9-8 9zm23 0l8-9 8 9-8 9zm370 0l8-9 8 9-8 9zm75 0l8-9 8 9-8 9zm151 0l8-9 8 9-8 9zm19 0l8-9 8 9-8 9zm13 0l8-9 8 9-8 9zm14 0l8-9 8 9-8 9zm13 0l8-9 8 9-8 9zm14 0l8-9 8 9-8 9zm17 0l8-9 8 9-8 9zm58 0l8-9 8 9-8 9zm8 0l8-9 8 9-8 9zm30 0l8-9 8 9-8 9zm16 0l8-9 8 9-8 9zm13 0l8-9 8 9-8 9zm12 0l8-9 8 9-8 9zm13 0l8-9 8 9-8 9zm284 0l8-9 8 9-8 9zm24 0l8-9 8 9-8 9zm12 0l8-9 8 9-8 9zm13 0l8-9 8 9-8 9zm25 0l8-9 8 9-8 9zm12 0l8-9 8 9-8 9zm59 0l8-9 8 9-8 9zm33 0l8-9 8 9-8 9zm35 0l8-9 8 9-8 9zm12 0l8-9 8 9-8 9zm12 0l8-9 8 9-8 9zm388 0l8-9 8 9-8 9zm12 0l8-9 8 9-8 9zm12 0l8-9 8 9-8 9zm13 0l8-9 8 9-8 9zm12 0l8-9 8 9-8 9zm12 0l8-9 8 9-8 9zm15 0l8-9 8 9-8 9zm16 0l8-9 8 9-8 9zm-2976 28l8-9 8 9-8 9zm213 0l8-9 8 9-8 9zm13 0l8-9 8 9-8 9zm14 0l8-9 8 9-8 9zm13 0l8-9 8 9-8 9zm13 0l8-9 8 9-8 9zm14 0l8-9 8 9-8 9zm17 0l8-9 8 9-8 9zm12 0l8-9 8 9-8 9zm12 0l8-9 8 9-8 9zm24 0l8-9 8 9-8 9zm4 0l8-9 8 9-8 9zm29 0l8-9 8 9-8 9zm147 0l8-9 8 9-8 9zm213 0l8-9 8 9-8 9zm16 0l8-9 8 9-8 9zm130 0l8-9 8 9-8 9zm12 0l8-9 8 9-8 9zm13 0l8-9 8 9-8 9zm12 0l8-9 8 9-8 9zm26 0l8-9 8 9-8 9zm12 0l8-9 8 9-8 9zm12 0l8-9 8 9-8 9zm12 0l8-9 8 9-8 9zm12 0l8-9 8 9-8 9zm4 0l8-9 8 9-8 9zm25 0l8-9 8 9-8 9zm25 0l8-9 8 9-8 9zm13 0l8-9 8 9-8 9zm25 0l8-9 8 9-8 9zm12 0l8-9 8 9-8 9zm13 0l8-9 8 9-8 9zm100 0l8-9 8 9-8 9zm29 0l8-9 8 9-8 9zm265 0l8-9 8 9-8 9zm122 0l8-9 8 9-8 9zm109 0l8-9 8 9-8 9zm13 0l8-9 8 9-8 9zm26 0l8-9 8 9-8 9zm13 0l8-9 8 9-8 9zm13 0l8-9 8 9-8 9zm13 0l8-9 8 9-8 9zm13 0l8-9 8 9-8 9zm13 0l8-9 8 9-8 9zm13 0l8-9 8 9-8 9zm33 0l8-9 8 9-8 9zm12 0l8-9 8 9-8 9zm12 0l8-9 8 9-8 9zm24 0l8-9 8 9-8 9zm12 0l8-9 8 9-8 9zm12 0l8-9 8 9-8 9zm12 0l8-9 8 9-8 9zm252 0l8-9 8 9-8 9zm40 0l8-9 8 9-8 9zm11 0l8-9 8 9-8 9zm10 0l8-9 8 9-8 9zm11 0l8-9 8 9-8 9zm13 0l8-9 8 9-8 9zm14 0l8-9 8 9-8 9zm26 0l8-9 8 9-8 9zm14 0l8-9 8 9-8 9zm25 0l8-9 8 9-8 9zm37 0l8-9 8 9-8 9zm59 0l8-9 8 9-8 9zm11 0l8-9 8 9-8 9zm11 0l8-9 8 9-8 9zm11 0l8-9 8 9-8 9zm372 0l8-9 8 9-8 9zm12 0l8-9 8 9-8 9zm11 0l8-9 8 9-8 9zm11 0l8-9 8 9-8 9zm12 0l8-9 8 9-8 9zm11 0l8-9 8 9-8 9zm27 0l8-9 8 9-8 9zm-3056 27l8-9 8 9-8 9zm144 0l8-9 8 9-8 9zm128 0l8-9 8 9-8 9zm12 0l8-9 8 9-8 9zm13 0l8-9 8 9-8 9zm13 0l8-9 8 9-8 9zm12 0l8-9 8 9-8 9zm29 0l8-9 8 9-8 9zm26 0l8-9 8 9-8 9zm26 0l8-9 8 9-8 9zm13 0l8-9 8 9-8 9zm13 0l8-9 8 9-8 9zm42 0l8-9 8 9-8 9zm12 0l8-9 8 9-8 9zm142 0l8-9 8 9-8 9zm184 0l8-9 8 9-8 9zm11 0l8-9 8 9-8 9zm10 0l8-9 8 9-8 9zm138 0l8-9 8 9-8 9zm12 0l8-9 8 9-8 9zm13 0l8-9 8 9-8 9zm12 0l8-9 8 9-8 9zm26 0l8-9 8 9-8 9zm24 0l8-9 8 9-8 9zm12 0l8-9 8 9-8 9zm12 0l8-9 8 9-8 9zm4 0l8-9 8 9-8 9zm14 0l8-9 8 9-8 9zm13 0l8-9 8 9-8 9zm14 0l8-9 8 9-8 9zm13 0l8-9 8 9-8 9zm41 0l8-9 8 9-8 9zm127 0l8-9 8 9-8 9zm50 0l8-9 8 9-8 9zm470 0l8-9 8 9-8 9zm29 0l8-9 8 9-8 9zm27 0l8-9 8 9-8 9zm13 0l8-9 8 9-8 9zm13 0l8-9 8 9-8 9zm13 0l8-9 8 9-8 9zm13 0l8-9 8 9-8 9zm13 0l8-9 8 9-8 9zm17 0l8-9 8 9-8 9zm12 0l8-9 8 9-8 9zm12 0l8-9 8 9-8 9zm12 0l8-9 8 9-8 9zm24 0l8-9 8 9-8 9zm12 0l8-9 8 9-8 9zm12 0l8-9 8 9-8 9zm12 0l8-9 8 9-8 9zm246 0l8-9 8 9-8 9zm13 0l8-9 8 9-8 9zm12 0l8-9 8 9-8 9zm12 0l8-9 8 9-8 9zm12 0l8-9 8 9-8 9zm13 0l8-9 8 9-8 9zm12 0l8-9 8 9-8 9zm12 0l8-9 8 9-8 9zm12 0l8-9 8 9-8 9zm12 0l8-9 8 9-8 9zm12 0l8-9 8 9-8 9zm12 0l8-9 8 9-8 9zm12 0l8-9 8 9-8 9zm12 0l8-9 8 9-8 9zm71 0l8-9 8 9-8 9zm37 0l8-9 8 9-8 9zm34 0l8-9 8 9-8 9zm29 0l8-9 8 9-8 9zm334 0l8-9 8 9-8 9zm11 0l8-9 8 9-8 9zm12 0l8-9 8 9-8 9zm11 0l8-9 8 9-8 9zm12 0l8-9 8 9-8 9zm-2725 28l8-9 8 9-8 9zm14 0l8-9 8 9-8 9zm13 0l8-9 8 9-8 9zm14 0l8-9 8 9-8 9zm25 0l8-9 8 9-8 9zm26 0l8-9 8 9-8 9zm12 0l8-9 8 9-8 9zm12 0l8-9 8 9-8 9zm12 0l8-9 8 9-8 9zm12 0l8-9 8 9-8 9zm38 0l8-9 8 9-8 9zm225 0l8-9 8 9-8 9zm130 0l8-9 8 9-8 9zm146 0l8-9 8 9-8 9zm12 0l8-9 8 9-8 9zm13 0l8-9 8 9-8 9zm12 0l8-9 8 9-8 9zm26 0l8-9 8 9-8 9zm24 0l8-9 8 9-8 9zm12 0l8-9 8 9-8 9zm12 0l8-9 8 9-8 9zm33 0l8-9 8 9-8 9zm21 0l8-9 8 9-8 9zm362 0l8-9 8 9-8 9zm345 0l8-9 8 9-8 9zm18 0l8-9 8 9-8 9zm14 0l8-9 8 9-8 9zm13 0l8-9 8 9-8 9zm13 0l8-9 8 9-8 9zm13 0l8-9 8 9-8 9zm14 0l8-9 8 9-8 9zm13 0l8-9 8 9-8 9zm23 0l8-9 8 9-8 9zm12 0l8-9 8 9-8 9zm13 0l8-9 8 9-8 9zm12 0l8-9 8 9-8 9zm12 0l8-9 8 9-8 9zm12 0l8-9 8 9-8 9zm13 0l8-9 8 9-8 9zm12 0l8-9 8 9-8 9zm12 0l8-9 8 9-8 9zm246 0l8-9 8 9-8 9zm25 0l8-9 8 9-8 9zm24 0l8-9 8 9-8 9zm13 0l8-9 8 9-8 9zm12 0l8-9 8 9-8 9zm12 0l8-9 8 9-8 9zm11 0l8-9 8 9-8 9zm35 0l8-9 8 9-8 9zm80 0l8-9 8 9-8 9zm17 0l8-9 8 9-8 9zm58 0l8-9 8 9-8 9zm21 0l8-9 8 9-8 9zm359 0l8-9 8 9-8 9zm25 0l8-9 8 9-8 9zm25 0l8-9 8 9-8 9zm31 0l8-9 8 9-8 9zm-2764 27l8-9 8 9-8 9zm25 0l8-9 8 9-8 9zm12 0l8-9 8 9-8 9zm96 0l8-9 8 9-8 9zm408 0l8-9 8 9-8 9zm150 0l8-9 8 9-8 9zm17 0l8-9 8 9-8 9zm50 0l8-9 8 9-8 9zm11 0l8-9 8 9-8 9zm10 0l8-9 8 9-8 9zm11 0l8-9 8 9-8 9zm4 0l8-9 8 9-8 9zm11 0l8-9 8 9-8 9zm23 0l8-9 8 9-8 9zm36 0l8-9 8 9-8 9zm64 0l8-9 8 9-8 9zm103 0l8-9 8 9-8 9zm22 0l8-9 8 9-8 9zm13 0l8-9 8 9-8 9zm117 0l8-9 8 9-8 9zm366 0l8-9 8 9-8 9zm25 0l8-9 8 9-8 9zm21 0l8-9 8 9-8 9zm12 0l8-9 8 9-8 9zm13 0l8-9 8 9-8 9zm12 0l8-9 8 9-8 9zm13 0l8-9 8 9-8 9zm12 0l8-9 8 9-8 9zm13 0l8-9 8 9-8 9zm12 0l8-9 8 9-8 9zm13 0l8-9 8 9-8 9zm25 0l8-9 8 9-8 9zm12 0l8-9 8 9-8 9zm13 0l8-9 8 9-8 9zm25 0l8-9 8 9-8 9zm242 0l8-9 8 9-8 9zm13 0l8-9 8 9-8 9zm26 0l8-9 8 9-8 9zm13 0l8-9 8 9-8 9zm13 0l8-9 8 9-8 9zm13 0l8-9 8 9-8 9zm8 0l8-9 8 9-8 9zm30 0l8-9 8 9-8 9zm12 0l8-9 8 9-8 9zm25 0l8-9 8 9-8 9zm552 0l8-9 8 9-8 9zm16 0l8-9 8 9-8 9zm31 0l8-9 8 9-8 9zm-2948 28l8-9 8 9-8 9zm225 0l8-9 8 9-8 9zm25 0l8-9 8 9-8 9zm38 0l8-9 8 9-8 9zm13 0l8-9 8 9-8 9zm27 0l8-9 8 9-8 9zm284 0l8-9 8 9-8 9zm251 0l8-9 8 9-8 9zm11 0l8-9 8 9-8 9zm11 0l8-9 8 9-8 9zm11 0l8-9 8 9-8 9zm30 0l8-9 8 9-8 9zm12 0l8-9 8 9-8 9zm12 0l8-9 8 9-8 9zm12 0l8-9 8 9-8 9zm12 0l8-9 8 9-8 9zm18 0l8-9 8 9-8 9zm32 0l8-9 8 9-8 9zm15 0l8-9 8 9-8 9zm14 0l8-9 8 9-8 9zm30 0l8-9 8 9-8 9zm16 0l8-9 8 9-8 9zm84 0l8-9 8 9-8 9zm17 0l8-9 8 9-8 9zm46 0l8-9 8 9-8 9zm204 0l8-9 8 9-8 9zm21 0l8-9 8 9-8 9zm262 0l8-9 8 9-8 9zm46 0l8-9 8 9-8 9zm12 0l8-9 8 9-8 9zm13 0l8-9 8 9-8 9zm12 0l8-9 8 9-8 9zm13 0l8-9 8 9-8 9zm12 0l8-9 8 9-8 9zm13 0l8-9 8 9-8 9zm12 0l8-9 8 9-8 9zm13 0l8-9 8 9-8 9zm12 0l8-9 8 9-8 9zm13 0l8-9 8 9-8 9zm25 0l8-9 8 9-8 9zm12 0l8-9 8 9-8 9zm259 0l8-9 8 9-8 9zm13 0l8-9 8 9-8 9zm12 0l8-9 8 9-8 9zm12 0l8-9 8 9-8 9zm12 0l8-9 8 9-8 9zm13 0l8-9 8 9-8 9zm12 0l8-9 8 9-8 9zm21 0l8-9 8 9-8 9zm50 0l8-9 8 9-8 9zm13 0l8-9 8 9-8 9zm110 0l8-9 8 9-8 9zm249 0l8-9 8 9-8 9zm194 0l8-9 8 9-8 9zm40 0l8-9 8 9-8 9zm-2239 27l8-9 8 9-8 9zm222 0l8-9 8 9-8 9zm33 0l8-9 8 9-8 9zm61 0l8-9 8 9-8 9zm11 0l8-9 8 9-8 9zm10 0l8-9 8 9-8 9zm29 0l8-9 8 9-8 9zm385 0l8-9 8 9-8 9zm22 0l8-9 8 9-8 9zm246 0l8-9 8 9-8 9zm27 0l8-9 8 9-8 9zm25 0l8-9 8 9-8 9zm13 0l8-9 8 9-8 9zm13 0l8-9 8 9-8 9zm13 0l8-9 8 9-8 9zm14 0l8-9 8 9-8 9zm13 0l8-9 8 9-8 9zm13 0l8-9 8 9-8 9zm29 0l8-9 8 9-8 9zm25 0l8-9 8 9-8 9zm38 0l8-9 8 9-8 9zm238 0l8-9 8 9-8 9zm13 0l8-9 8 9-8 9zm12 0l8-9 8 9-8 9zm25 0l8-9 8 9-8 9zm13 0l8-9 8 9-8 9zm16 0l8-9 8 9-8 9zm11 0l8-9 8 9-8 9zm9 0l8-9 8 9-8 9zm16 0l8-9 8 9-8 9zm12 0l8-9 8 9-8 9zm23 0l8-9 8 9-8 9zm11 0l8-9 8 9-8 9zm84 0l8-9 8 9-8 9zm-2249 28l8-9 8 9-8 9zm11 0l8-9 8 9-8 9zm11 0l8-9 8 9-8 9zm11 0l8-9 8 9-8 9zm25 0l8-9 8 9-8 9zm299 0l8-9 8 9-8 9zm354 0l8-9 8 9-8 9zm35 0l8-9 8 9-8 9zm44 0l8-9 8 9-8 9zm59 0l8-9 8 9-8 9zm37 0l8-9 8 9-8 9zm654 0l8-9 8 9-8 9zm42 0l8-9 8 9-8 9zm17 0l8-9 8 9-8 9zm13 0l8-9 8 9-8 9zm13 0l8-9 8 9-8 9zm14 0l8-9 8 9-8 9zm13 0l8-9 8 9-8 9zm13 0l8-9 8 9-8 9zm13 0l8-9 8 9-8 9zm25 0l8-9 8 9-8 9zm30 0l8-9 8 9-8 9zm271 0l8-9 8 9-8 9zm12 0l8-9 8 9-8 9zm12 0l8-9 8 9-8 9zm35 0l8-9 8 9-8 9zm27 0l8-9 8 9-8 9zm17 0l8-9 8 9-8 9zm21 0l8-9 8 9-8 9zm16 0l8-9 8 9-8 9zm117 0l8-9 8 9-8 9zm30 0l8-9 8 9-8 9zm8 0l8-9 8 9-8 9zm-2412 27l8-9 8 9-8 9zm134 0l8-9 8 9-8 9zm8 0l8-9 8 9-8 9zm17 0l8-9 8 9-8 9zm12 0l8-9 8 9-8 9zm63 0l8-9 8 9-8 9zm15 0l8-9 8 9-8 9zm717 0l8-9 8 9-8 9zm27 0l8-9 8 9-8 9zm157 0l8-9 8 9-8 9zm10 0l8-9 8 9-8 9zm11 0l8-9 8 9-8 9zm541 0l8-9 8 9-8 9zm21 0l8-9 8 9-8 9zm10 0l8-9 8 9-8 9zm11 0l8-9 8 9-8 9zm21 0l8-9 8 9-8 9zm33 0l8-9 8 9-8 9zm13 0l8-9 8 9-8 9zm296 0l8-9 8 9-8 9zm13 0l8-9 8 9-8 9zm14 0l8-9 8 9-8 9zm13 0l8-9 8 9-8 9zm14 0l8-9 8 9-8 9zm13 0l8-9 8 9-8 9zm57 0l8-9 8 9-8 9zm21 0l8-9 8 9-8 9zm-2120 28l8-9 8 9-8 9zm13 0l8-9 8 9-8 9zm62 0l8-9 8 9-8 9zm9 0l8-9 8 9-8 9zm595 0l8-9 8 9-8 9zm38 0l8-9 8 9-8 9zm90 0l8-9 8 9-8 9zm59 0l8-9 8 9-8 9zm518 0l8-9 8 9-8 9zm11 0l8-9 8 9-8 9zm12 0l8-9 8 9-8 9zm109 0l8-9 8 9-8 9zm37 0l8-9 8 9-8 9zm13 0l8-9 8 9-8 9zm25 0l8-9 8 9-8 9zm11 0l8-9 8 9-8 9zm12 0l8-9 8 9-8 9zm11 0l8-9 8 9-8 9zm12 0l8-9 8 9-8 9zm29 0l8-9 8 9-8 9zm13 0l8-9 8 9-8 9zm12 0l8-9 8 9-8 9zm13 0l8-9 8 9-8 9zm12 0l8-9 8 9-8 9zm259 0l8-9 8 9-8 9zm13 0l8-9 8 9-8 9zm12 0l8-9 8 9-8 9zm13 0l8-9 8 9-8 9zm48 0l8-9 8 9-8 9zm42 0l8-9 8 9-8 9zm12 0l8-9 8 9-8 9zm21 0l8-9 8 9-8 9zm170 0l8-9 8 9-8 9zm-2724 27l8-9 8 9-8 9zm460 0l8-9 8 9-8 9zm790 0l8-9 8 9-8 9zm25 0l8-9 8 9-8 9zm425 0l8-9 8 9-8 9zm171 0l8-9 8 9-8 9zm25 0l8-9 8 9-8 9zm13 0l8-9 8 9-8 9zm23 0l8-9 8 9-8 9zm43 0l8-9 8 9-8 9zm13 0l8-9 8 9-8 9zm100 0l8-9 8 9-8 9zm38 0l8-9 8 9-8 9zm15 0l8-9 8 9-8 9zm252 0l8-9 8 9-8 9zm42 0l8-9 8 9-8 9zm69 0l8-9 8 9-8 9zm13 0l8-9 8 9-8 9zm12 0l8-9 8 9-8 9zm-2551 28l8-9 8 9-8 9zm423 0l8-9 8 9-8 9zm55 0l8-9 8 9-8 9zm610 0l8-9 8 9-8 9zm174 0l8-9 8 9-8 9zm27 0l8-9 8 9-8 9zm708 0l8-9 8 9-8 9zm69 0l8-9 8 9-8 9zm69 0l8-9 8 9-8 9zm9 0l8-9 8 9-8 9zm263 0l8-9 8 9-8 9zm14 0l8-9 8 9-8 9zm14 0l8-9 8 9-8 9zm14 0l8-9 8 9-8 9zm-2449 27l8-9 8 9-8 9zm411 0l8-9 8 9-8 9zm42 0l8-9 8 9-8 9zm798 0l8-9 8 9-8 9zm61 0l8-9 8 9-8 9zm457 0l8-9 8 9-8 9zm341 0l8-9 8 9-8 9zm301 0l8-9 8 9-8 9zm21 0l8-9 8 9-8 9zm17 0l8-9 8 9-8 9zm83 0l8-9 8 9-8 9zm-2561 28l8-9 8 9-8 9zm22 0l8-9 8 9-8 9zm15 0l8-9 8 9-8 9zm14 0l8-9 8 9-8 9zm1229 0l8-9 8 9-8 9zm17 0l8-9 8 9-8 9zm19 0l8-9 8 9-8 9zm209 0l8-9 8 9-8 9zm69 0l8-9 8 9-8 9zm347 0l8-9 8 9-8 9zm88 0l8-9 8 9-8 9zm43 0l8-9 8 9-8 9zm11 0l8-9 8 9-8 9zm10 0l8-9 8 9-8 9zm34 0l8-9 8 9-8 9zm29 0l8-9 8 9-8 9zm281 0l8-9 8 9-8 9zm57 0l8-9 8 9-8 9zm-2494 27l8-9 8 9-8 9zm22 0l8-9 8 9-8 9zm15 0l8-9 8 9-8 9zm14 0l8-9 8 9-8 9zm1250 0l8-9 8 9-8 9zm830 0l8-9 8 9-8 9zm21 0l8-9 8 9-8 9zm285 0l8-9 8 9-8 9zm24 0l8-9 8 9-8 9zm12 0l8-9 8 9-8 9zm13 0l8-9 8 9-8 9zm83 0l8-9 8 9-8 9zm20 0l8-9 8 9-8 9zm-2585 28l8-9 8 9-8 9zm18 0l8-9 8 9-8 9zm15 0l8-9 8 9-8 9zm14 0l8-9 8 9-8 9zm1250 0l8-9 8 9-8 9zm429 0l8-9 8 9-8 9zm299 0l8-9 8 9-8 9zm102 0l8-9 8 9-8 9zm17 0l8-9 8 9-8 9zm289 0l8-9 8 9-8 9zm34 0l8-9 8 9-8 9zm98 0l8-9 8 9-8 9zm22 0l8-9 8 9-8 9zm-2591 27l8-9 8 9-8 9zm14 0l8-9 8 9-8 9zm37 0l8-9 8 9-8 9zm1238 0l8-9 8 9-8 9zm11 0l8-9 8 9-8 9zm650 0l8-9 8 9-8 9zm99 0l8-9 8 9-8 9zm82 0l8-9 8 9-8 9zm305 0l8-9 8 9-8 9zm164 0l8-9 8 9-8 9zm-2600 28l8-9 8 9-8 9zm11 0l8-9 8 9-8 9zm11 0l8-9 8 9-8 9zm21 0l8-9 8 9-8 9zm1277 0l8-9 8 9-8 9zm832 0l8-9 8 9-8 9zm321 0l8-9 8 9-8 9zm113 0l8-9 8 9-8 9zm-2585 27l8-9 8 9-8 9zm13 0l8-9 8 9-8 9zm1927 0l8-9 8 9-8 9zm684 0l8-9 8 9-8 9zm-2624 28l8-9 8 9-8 9zm9 0l8-9 8 9-8 9zm37 0l8-9 8 9-8 9zm1248 0l8-9 8 9-8 9zm844 0l8-9 8 9-8 9zm391 0l8-9 8 9-8 9zm17 0l8-9 8 9-8 9zm33 0l8-9 8 9-8 9zm-2579 27l8-9 8 9-8 9zm42 0l8-9 8 9-8 9zm1267 0l8-9 8 9-8 9zm-1298 28l8-9 8 9-8 9zm33 0l8-9 8 9-8 9zm56 0l8-9 8 9-8 9zm2473 55l8-9 8 9-8 9zm-305 28l8-9 8 9-8 9zm328 0l8-9 8 9-8 9zm-391 82l8-9 8 9-8 9zm67 0l8-9 8 9-8 9zm12 0l8-9 8 9-8 9zm924 0l8-9 8 9-8 9zm-940 28l8-9 8 9-8 9zm2 27l8-9 8 9-8 9zm-62 55l8-9 8 9-8 9zm10 0l8-9 8 9-8 9zm12 28l8-9 8 9-8 9zm28 0l8-9 8 9-8 9zm11 0l8-9 8 9-8 9zm11 0l8-9 8 9-8 9zm-35 27l8-9 8 9-8 9zm23 0l8-9 8 9-8 9zm8 0l8-9 8 9-8 9zm-64 28l8-9 8 9-8 9zm47 0l8-9 8 9-8 9zm-51 27l8-9 8 9-8 9zm11 0l8-9 8 9-8 9zm12 0l8-9 8 9-8 9zm12 0l8-9 8 9-8 9zm12 0l8-9 8 9-8 9zm1072 0l8-9 8 9-8 9zm-1076 28l8-9 8 9-8 9zm32 0l8-9 8 9-8 9zm-49 27l8-9 8 9-8 9zm14 0l8-9 8 9-8 9zm14 0l8-9 8 9-8 9zm14 0l8-9 8 9-8 9zm1028 0l8-9 8 9-8 9zm9 0l8-9 8 9-8 9zm-1097 28l8-9 8 9-8 9zm24 0l8-9 8 9-8 9z"/></defs>
<use href="#p38" fill="none" stroke="#a8a8da" stroke-width="1.4" stroke-linejoin="round"/>
<use href="#p38" class="d"/>
<path d="M767.5,5.5V418.5" class="r"/>
<path d="M52.5,5.5H767.5" class="r"/>
<path d="M52.5,5.5V418.5H767.5" class="a"/>
<path d="M48.5,418.5h4M48.5,395.5h4M48.5,372.5h4M48.5,349.5h4M48.5,326.5h4M48.5,303.5h4M48.5,280.5h4M48.5,257.5h4M48.5,234.5h4M48.5,211.5h4M48.5,189.5h4M48.5,166.5h4M48.5,143.5h4M48.5,120.5h4M48.5,97.5h4M48.5,74.5h4M48.5,51.5h4M48.5,28.5h4M48.5,5.5h4" class="k"/>
<path d="M52.5,419.0v2.5M117.5,419.0v2.5M182.5,419.0v2.5M247.5,419.0v2.5M312.5,419.0v2.5M377.5,419.0v2.5M442.5,419.0v2.5M507.5,419.0v2.5M572.5,419.0v2.5M637.5,419.0v2.5M702.5,419.0v2.5M767.5,419.0v2.5" class="k2"/>
<text x="43.2" y="421.9" text-anchor="end" class="t">0</text>
<text x="43.2" y="399.0" text-anchor="end" class="t">5</text>
<text x="43.2" y="376.0" text-anchor="end" class="t">10</text>
<text x="43.2" y="353.1" text-anchor="end" class="t">15</text>
<text x="43.2" y="330.1" text-anchor="end" class="t">20</text>
<text x="43.2" y="307.2" text-anchor="end" class="t">25</text>
<text x="43.2" y="284.3" text-anchor="end" class="t">30</text>
<text x="43.2" y="261.3" text-anchor="end" class="t">35</text>
<text x="43.2" y="238.4" text-anchor="end" class="t">40</text>
<text x="43.2" y="215.4" text-anchor="end" class="t">45</text>
<text x="43.2" y="192.5" text-anchor="end" class="t">50</text>
<text x="43.2" y="169.6" text-anchor="end" class="t">55</text>
<text x="43.2" y="146.6" text-anchor="end" class="t">60</text>
<text x="43.2" y="123.7" text-anchor="end" class="t">65</text>
<text x="43.2" y="100.8" text-anchor="end" class="t">70</text>
<text x="43.2" y="77.8" text-anchor="end" class="t">75</text>
<text x="43.2" y="54.9" text-anchor="end" class="t">80</text>
<text x="43.2" y="31.9" text-anchor="end" class="t">85</text>
<text x="43.2" y="9.0" text-anchor="end" class="t">90</text>
<text x="52.5" y="438.4" text-anchor="middle" class="t">0</text>
<text x="117.5" y="438.4" text-anchor="middle" class="t">1</text>
<text x="182.4" y="438.4" text-anchor="middle" class="t">2</text>
<text x="247.4" y="438.4" text-anchor="middle" class="t">3</text>
<text x="312.4" y="438.4" text-anchor="middle" class="t">4</text>
<text x="377.4" y="438.4" text-anchor="middle" class="t">5</text>
<text x="442.4" y="438.4" text-anchor="middle" class="t">6</text>
<text x="507.4" y="438.4" text-anchor="middle" class="t">7</text>
<text x="572.5" y="438.4" text-anchor="middle" class="t">8</text>
<text x="637.5" y="438.4" text-anchor="middle" class="t">9</text>
<text x="702.5" y="438.4" text-anchor="middle" class="t">10</text>
<text x="767.5" y="438.4" text-anchor="middle" class="t">11</text>
<defs><path id="p77" transform="scale(0.2,0.1667)" vector-effect="non-scaling-stroke" d="M2783 2958l8-9 8 9-8 9zm76 0l8-9 8 9-8 9zm3 0l8-9 8 9-8 9zm35 26l8-9 8 9-8 9zm-79 79l8-9 8 9-8 9zm-344 52l8-9 8 9-8 9zm309 0l8-9 8 9-8 9zm33 0l8-9 8 9-8 9zm50 0l8-9 8 9-8 9zm56 0l8-9 8 9-8 9zm-106 26l8-9 8 9-8 9zm-1265 53l8-9 8 9-8 9zm59 0l8-9 8 9-8 9zm886 0l8-9 8 9-8 9zm-953 26l8-9 8 9-8 9zm57 0l8-9 8 9-8 9zm1237 0l8-9 8 9-8 9zm35 0l8-9 8 9-8 9zm-1317 26l8-9 8 9-8 9zm876 0l8-9 8 9-8 9zm78 0l8-9 8 9-8 9zm31 0l8-9 8 9-8 9zm269 0l8-9 8 9-8 9zm17 0l8-9 8 9-8 9zm96 0l8-9 8 9-8 9zm-1396 26l8-9 8 9-8 9zm59 0l8-9 8 9-8 9zm10 0l8-9 8 9-8 9zm1224 0l8-9 8 9-8 9zm47 0l8-9 8 9-8 9zm-1322 26l8-9 8 9-8 9zm47 0l8-9 8 9-8 9zm920 0l8-9 8 9-8 9zm290 0l8-9 8 9-8 9zm74 0l8-9 8 9-8 9zm-1286 27l8-9 8 9-8 9zm25 0l8-9 8 9-8 9zm895 0l8-9 8 9-8 9zm12 0l8-9 8 9-8 9zm293 0l8-9 8 9-8 9zm8 0l8-9 8 9-8 9zm75 0l8-9 8 9-8 9zm-1419 26l8-9 8 9-8 9zm97 0l8-9 8 9-8 9zm27 0l8-9 8 9-8 9zm907 0l8-9 8 9-8 9zm29 0l8-9 8 9-8 9zm245 0l8-9 8 9-8 9zm22 0l8-9 8 9-8 9zm-1325 26l8-9 8 9-8 9zm42 0l8-9 8 9-8 9zm17 0l8-9 8 9-8 9zm16 0l8-9 8 9-8 9zm7 0l8-9 8 9-8 9zm959 0l8-9 8 9-8 9zm13 0l8-9 8 9-8 9zm271 0l8-9 8 9-8 9zm25 0l8-9 8 9-8 9zm86 0l8-9 8 9-8 9zm-472 26l8-9 8 9-8 9zm37 0l8-9 8 9-8 9zm15 0l8-9 8 9-8 9zm341 0l8-9 8 9-8 9zm22 0l8-9 8 9-8 9zm3 0l8-9 8 9-8 9zm17 0l8-9 8 9-8 9zm-1328 26l8-9 8 9-8 9zm11 0l8-9 8 9-8 9zm99 0l8-9 8 9-8 9zm858 0l8-9 8 9-8 9zm19 0l8-9 8 9-8 9zm282 0l8-9 8 9-8 9zm42 0l8-9 8 9-8 9zm566 0l8-9 8 9-8 9zm-2117 27l8-9 8 9-8 9zm167 0l8-9 8 9-8 9zm81 0l8-9 8 9-8 9zm7 0l8-9 8 9-8 9zm9 0l8-9 8 9-8 9zm944 0l8-9 8 9-8 9zm264 0l8-9 8 9-8 9zm29 0l8-9 8 9-8 9zm14 0l8-9 8 9-8 9zm49 0l8-9 8 9-8 9zm670 0l8-9 8 9-8 9zm-2940 26l8-9 8 9-8 9zm169 0l8-9 8 9-8 9zm752 0l8-9 8 9-8 9zm17 0l8-9 8 9-8 9zm44 0l8-9 8 9-8 9zm13 0l8-9 8 9-8 9zm748 0l8-9 8 9-8 9zm96 0l8-9 8 9-8 9zm23 0l8-9 8 9-8 9zm12 0l8-9 8 9-8 9zm30 0l8-9 8 9-8 9zm12 0l8-9 8 9-8 9zm262 0l8-9 8 9-8 9zm31 0l8-9 8 9-8 9zm25 0l8-9 8 9-8 9zm23 0l8-9 8 9-8 9zm10 0l8-9 8 9-8 9zm11 0l8-9 8 9-8 9zm-1424 26l8-9 8 9-8 9zm11 0l8-9 8 9-8 9zm10 0l8-9 8 9-8 9zm63 0l8-9 8 9-8 9zm926 0l8-9 8 9-8 9zm23 0l8-9 8 9-8 9zm46 0l8-9 8 9-8 9zm263 0l8-9 8 9-8 9zm42 0l8-9 8 9-8 9zm19 0l8-9 8 9-8 9zm667 0l8-9 8 9-8 9zm-2772 26l8-9 8 9-8 9zm765 0l8-9 8 9-8 9zm13 0l8-9 8 9-8 9zm14 0l8-9 8 9-8 9zm13 0l8-9 8 9-8 9zm4 0l8-9 8 9-8 9zm48 0l8-9 8 9-8 9zm683 0l8-9 8 9-8 9zm80 0l8-9 8 9-8 9zm33 0l8-9 8 9-8 9zm34 0l8-9 8 9-8 9zm29 0l8-9 8 9-8 9zm36 0l8-9 8 9-8 9zm11 0l8-9 8 9-8 9zm11 0l8-9 8 9-8 9zm11 0l8-9 8 9-8 9zm246 0l8-9 8 9-8 9zm21 0l8-9 8 9-8 9zm30 0l8-9 8 9-8 9zm11 0l8-9 8 9-8 9zm12 0l8-9 8 9-8 9zm13 0l8-9 8 9-8 9zm47 0l8-9 8 9-8 9zm84 0l8-9 8 9-8 9zm370 0l8-9 8 9-8 9zm104 0l8-9 8 9-8 9zm69 0l8-9 8 9-8 9zm-2792 26l8-9 8 9-8 9zm567 0l8-9 8 9-8 9zm198 0l8-9 8 9-8 9zm25 0l8-9 8 9-8 9zm19 0l8-9 8 9-8 9zm25 0l8-9 8 9-8 9zm19 0l8-9 8 9-8 9zm431 0l8-9 8 9-8 9zm225 0l8-9 8 9-8 9zm115 0l8-9 8 9-8 9zm69 0l8-9 8 9-8 9zm17 0l8-9 8 9-8 9zm71 0l8-9 8 9-8 9zm8 0l8-9 8 9-8 9zm255 0l8-9 8 9-8 9zm17 0l8-9 8 9-8 9zm52 0l8-9 8 9-8 9zm52 0l8-9 8 9-8 9zm508 0l8-9 8 9-8 9zm21 0l8-9 8 9-8 9zm92 0l8-9 8 9-8 9zm-2938 27l8-9 8 9-8 9zm125 0l8-9 8 9-8 9zm750 0l8-9 8 9-8 9zm46 0l8-9 8 9-8 9zm17 0l8-9 8 9-8 9zm32 0l8-9 8 9-8 9zm19 0l8-9 8 9-8 9zm18 0l8-9 8 9-8 9zm550 0l8-9 8 9-8 9zm213 0l8-9 8 9-8 9zm50 0l8-9 8 9-8 9zm13 0l8-9 8 9-8 9zm66 0l8-9 8 9-8 9zm34 0l8-9 8 9-8 9zm245 0l8-9 8 9-8 9zm26 0l8-9 8 9-8 9zm25 0l8-9 8 9-8 9zm17 0l8-9 8 9-8 9zm24 0l8-9 8 9-8 9zm20 0l8-9 8 9-8 9zm27 0l8-9 8 9-8 9zm496 0l8-9 8 9-8 9zm16 0l8-9 8 9-8 9zm34 0l8-9 8 9-8 9zm-2713 26l8-9 8 9-8 9zm21 0l8-9 8 9-8 9zm683 0l8-9 8 9-8 9zm11 0l8-9 8 9-8 9zm10 0l8-9 8 9-8 9zm50 0l8-9 8 9-8 9zm32 0l8-9 8 9-8 9zm29 0l8-9 8 9-8 9zm9 0l8-9 8 9-8 9zm252 0l8-9 8 9-8 9zm313 0l8-9 8 9-8 9zm93 0l8-9 8 9-8 9zm123 0l8-9 8 9-8 9zm57 0l8-9 8 9-8 9zm11 0l8-9 8 9-8 9zm22 0l8-9 8 9-8 9zm33 0l8-9 8 9-8 9zm14 0l8-9 8 9-8 9zm14 0l8-9 8 9-8 9zm14 0l8-9 8 9-8 9zm237 0l8-9 8 9-8 9zm68 0l8-9 8 9-8 9zm40 0l8-9 8 9-8 9zm11 0l8-9 8 9-8 9zm10 0l8-9 8 9-8 9zm94 0l8-9 8 9-8 9zm94 0l8-9 8 9-8 9zm276 0l8-9 8 9-8 9zm169 0l8-9 8 9-8 9zm-2788 26l8-9 8 9-8 9zm727 0l8-9 8 9-8 9zm53 0l8-9 8 9-8 9zm22 0l8-9 8 9-8 9zm7 0l8-9 8 9-8 9zm568 0l8-9 8 9-8 9zm21 0l8-9 8 9-8 9zm217 0l8-9 8 9-8 9zm25 0l8-9 8 9-8 9zm41 0l8-9 8 9-8 9zm27 0l8-9 8 9-8 9zm14 0l8-9 8 9-8 9zm9 0l8-9 8 9-8 9zm11 0l8-9 8 9-8 9zm11 0l8-9 8 9-8 9zm11 0l8-9 8 9-8 9zm25 0l8-9 8 9-8 9zm237 0l8-9 8 9-8 9zm29 0l8-9 8 9-8 9zm22 0l8-9 8 9-8 9zm14 0l8-9 8 9-8 9zm14 0l8-9 8 9-8 9zm8 0l8-9 8 9-8 9zm17 0l8-9 8 9-8 9zm18 0l8-9 8 9-8 9zm437 0l8-9 8 9-8 9zm81 0l8-9 8 9-8 9zm28 0l8-9 8 9-8 9zm13 0l8-9 8 9-8 9zm-2868 26l8-9 8 9-8 9zm9 0l8-9 8 9-8 9zm44 0l8-9 8 9-8 9zm56 0l8-9 8 9-8 9zm25 0l8-9 8 9-8 9zm27 0l8-9 8 9-8 9zm17 0l8-9 8 9-8 9zm537 0l8-9 8 9-8 9zm148 0l8-9 8 9-8 9zm21 0l8-9 8 9-8 9zm54 0l8-9 8 9-8 9zm28 0l8-9 8 9-8 9zm4 0l8-9 8 9-8 9zm17 0l8-9 8 9-8 9zm25 0l8-9 8 9-8 9zm29 0l8-9 8 9-8 9zm13 0l8-9 8 9-8 9zm33 0l8-9 8 9-8 9zm353 0l8-9 8 9-8 9zm129 0l8-9 8 9-8 9zm101 0l8-9 8 9-8 9zm88 0l8-9 8 9-8 9zm15 0l8-9 8 9-8 9zm14 0l8-9 8 9-8 9zm46 0l8-9 8 9-8 9zm12 0l8-9 8 9-8 9zm12 0l8-9 8 9-8 9zm48 0l8-9 8 9-8 9zm12 0l8-9 8 9-8 9zm25 0l8-9 8 9-8 9zm245 0l8-9 8 9-8 9zm26 0l8-9 8 9-8 9zm13 0l8-9 8 9-8 9zm27 0l8-9 8 9-8 9zm13 0l8-9 8 9-8 9zm13 0l8-9 8 9-8 9zm16 0l8-9 8 9-8 9zm17 0l8-9 8 9-8 9zm522 0l8-9 8 9-8 9zm93 0l8-9 8 9-8 9zm-2818 26l8-9 8 9-8 9zm19 0l8-9 8 9-8 9zm48 0l8-9 8 9-8 9zm683 0l8-9 8 9-8 9zm13 0l8-9 8 9-8 9zm12 0l8-9 8 9-8 9zm54 0l8-9 8 9-8 9zm28 0l8-9 8 9-8 9zm4 0l8-9 8 9-8 9zm25 0l8-9 8 9-8 9zm17 0l8-9 8 9-8 9zm38 0l8-9 8 9-8 9zm37 0l8-9 8 9-8 9zm71 0l8-9 8 9-8 9zm40 0l8-9 8 9-8 9zm31 0l8-9 8 9-8 9zm303 0l8-9 8 9-8 9zm37 0l8-9 8 9-8 9zm181 0l8-9 8 9-8 9zm21 0l8-9 8 9-8 9zm58 0l8-9 8 9-8 9zm12 0l8-9 8 9-8 9zm11 0l8-9 8 9-8 9zm24 0l8-9 8 9-8 9zm12 0l8-9 8 9-8 9zm20 0l8-9 8 9-8 9zm34 0l8-9 8 9-8 9zm245 0l8-9 8 9-8 9zm39 0l8-9 8 9-8 9zm27 0l8-9 8 9-8 9zm13 0l8-9 8 9-8 9zm8 0l8-9 8 9-8 9zm46 0l8-9 8 9-8 9zm192 0l8-9 8 9-8 9zm168 0l8-9 8 9-8 9zm142 0l8-9 8 9-8 9zm16 0l8-9 8 9-8 9zm21 0l8-9 8 9-8 9zm25 0l8-9 8 9-8 9zm44 0l8-9 8 9-8 9zm30 0l8-9 8 9-8 9zm-2802 26l8-9 8 9-8 9zm168 0l8-9 8 9-8 9zm391 0l8-9 8 9-8 9zm144 0l8-9 8 9-8 9zm25 0l8-9 8 9-8 9zm50 0l8-9 8 9-8 9zm21 0l8-9 8 9-8 9zm11 0l8-9 8 9-8 9zm8 0l8-9 8 9-8 9zm13 0l8-9 8 9-8 9zm54 0l8-9 8 9-8 9zm385 0l8-9 8 9-8 9zm16 0l8-9 8 9-8 9zm77 0l8-9 8 9-8 9zm19 0l8-9 8 9-8 9zm31 0l8-9 8 9-8 9zm121 0l8-9 8 9-8 9zm25 0l8-9 8 9-8 9zm35 0l8-9 8 9-8 9zm28 0l8-9 8 9-8 9zm13 0l8-9 8 9-8 9zm17 0l8-9 8 9-8 9zm21 0l8-9 8 9-8 9zm15 0l8-9 8 9-8 9zm14 0l8-9 8 9-8 9zm17 0l8-9 8 9-8 9zm25 0l8-9 8 9-8 9zm13 0l8-9 8 9-8 9zm16 0l8-9 8 9-8 9zm11 0l8-9 8 9-8 9zm10 0l8-9 8 9-8 9zm242 0l8-9 8 9-8 9zm38 0l8-9 8 9-8 9zm24 0l8-9 8 9-8 9zm12 0l8-9 8 9-8 9zm13 0l8-9 8 9-8 9zm25 0l8-9 8 9-8 9zm163 0l8-9 8 9-8 9zm45 0l8-9 8 9-8 9zm347 0l8-9 8 9-8 9zm25 0l8-9 8 9-8 9zm13 0l8-9 8 9-8 9zm61 0l8-9 8 9-8 9zm-2958 27l8-9 8 9-8 9zm9 0l8-9 8 9-8 9zm44 0l8-9 8 9-8 9zm102 0l8-9 8 9-8 9zm8 0l8-9 8 9-8 9zm34 0l8-9 8 9-8 9zm662 0l8-9 8 9-8 9zm33 0l8-9 8 9-8 9zm38 0l8-9 8 9-8 9zm12 0l8-9 8 9-8 9zm24 0l8-9 8 9-8 9zm14 0l8-9 8 9-8 9zm13 0l8-9 8 9-8 9zm14 0l8-9 8 9-8 9zm13 0l8-9 8 9-8 9zm30 0l8-9 8 9-8 9zm12 0l8-9 8 9-8 9zm13 0l8-9 8 9-8 9zm12 0l8-9 8 9-8 9zm155 0l8-9 8 9-8 9zm110 0l8-9 8 9-8 9zm192 0l8-9 8 9-8 9zm22 0l8-9 8 9-8 9zm88 0l8-9 8 9-8 9zm23 0l8-9 8 9-8 9zm48 0l8-9 8 9-8 9zm33 0l8-9 8 9-8 9zm13 0l8-9 8 9-8 9zm12 0l8-9 8 9-8 9zm13 0l8-9 8 9-8 9zm12 0l8-9 8 9-8 9zm21 0l8-9 8 9-8 9zm15 0l8-9 8 9-8 9zm14 0l8-9 8 9-8 9zm17 0l8-9 8 9-8 9zm25 0l8-9 8 9-8 9zm29 0l8-9 8 9-8 9zm11 0l8-9 8 9-8 9zm10 0l8-9 8 9-8 9zm237 0l8-9 8 9-8 9zm13 0l8-9 8 9-8 9zm26 0l8-9 8 9-8 9zm14 0l8-9 8 9-8 9zm26 0l8-9 8 9-8 9zm25 0l8-9 8 9-8 9zm15 0l8-9 8 9-8 9zm14 0l8-9 8 9-8 9zm78 0l8-9 8 9-8 9zm35 0l8-9 8 9-8 9zm71 0l8-9 8 9-8 9zm4 0l8-9 8 9-8 9zm42 0l8-9 8 9-8 9zm21 0l8-9 8 9-8 9zm109 0l8-9 8 9-8 9zm154 0l8-9 8 9-8 9zm17 0l8-9 8 9-8 9zm12 0l8-9 8 9-8 9zm57 0l8-9 8 9-8 9zm33 0l8-9 8 9-8 9zm-3049 26l8-9 8 9-8 9zm54 0l8-9 8 9-8 9zm168 0l8-9 8 9-8 9zm12 0l8-9 8 9-8 9zm13 0l8-9 8 9-8 9zm133 0l8-9 8 9-8 9zm78 0l8-9 8 9-8 9zm54 0l8-9 8 9-8 9zm29 0l8-9 8 9-8 9zm418 0l8-9 8 9-8 9zm71 0l8-9 8 9-8 9zm11 0l8-9 8 9-8 9zm10 0l8-9 8 9-8 9zm11 0l8-9 8 9-8 9zm13 0l8-9 8 9-8 9zm25 0l8-9 8 9-8 9zm12 0l8-9 8 9-8 9zm38 0l8-9 8 9-8 9zm104 0l8-9 8 9-8 9zm96 0l8-9 8 9-8 9zm98 0l8-9 8 9-8 9zm74 0l8-9 8 9-8 9zm106 0l8-9 8 9-8 9zm36 0l8-9 8 9-8 9zm81 0l8-9 8 9-8 9zm13 0l8-9 8 9-8 9zm54 0l8-9 8 9-8 9zm55 0l8-9 8 9-8 9zm12 0l8-9 8 9-8 9zm13 0l8-9 8 9-8 9zm12 0l8-9 8 9-8 9zm13 0l8-9 8 9-8 9zm12 0l8-9 8 9-8 9zm13 0l8-9 8 9-8 9zm12 0l8-9 8 9-8 9zm13 0l8-9 8 9-8 9zm12 0l8-9 8 9-8 9zm38 0l8-9 8 9-8 9zm25 0l8-9 8 9-8 9zm13 0l8-9 8 9-8 9zm228 0l8-9 8 9-8 9zm11 0l8-9 8 9-8 9zm11 0l8-9 8 9-8 9zm25 0l8-9 8 9-8 9zm21 0l8-9 8 9-8 9zm11 0l8-9 8 9-8 9zm4 0l8-9 8 9-8 9zm27 0l8-9 8 9-8 9zm13 0l8-9 8 9-8 9zm27 0l8-9 8 9-8 9zm171 0l8-9 8 9-8 9zm46 0l8-9 8 9-8 9zm53 0l8-9 8 9-8 9zm173 0l8-9 8 9-8 9zm12 0l8-9 8 9-8 9zm42 0l8-9 8 9-8 9zm42 0l8-9 8 9-8 9zm21 0l8-9 8 9-8 9zm44 0l8-9 8 9-8 9zm-3083 26l8-9 8 9-8 9zm13 0l8-9 8 9-8 9zm12 0l8-9 8 9-8 9zm42 0l8-9 8 9-8 9zm11 0l8-9 8 9-8 9zm11 0l8-9 8 9-8 9zm11 0l8-9 8 9-8 9zm42 0l8-9 8 9-8 9zm53 0l8-9 8 9-8 9zm43 0l8-9 8 9-8 9zm55 0l8-9 8 9-8 9zm50 0l8-9 8 9-8 9zm83 0l8-9 8 9-8 9zm82 0l8-9 8 9-8 9zm299 0l8-9 8 9-8 9zm194 0l8-9 8 9-8 9zm33 0l8-9 8 9-8 9zm74 0l8-9 8 9-8 9zm14 0l8-9 8 9-8 9zm13 0l8-9 8 9-8 9zm14 0l8-9 8 9-8 9zm13 0l8-9 8 9-8 9zm17 0l8-9 8 9-8 9zm31 0l8-9 8 9-8 9zm184 0l8-9 8 9-8 9zm61 0l8-9 8 9-8 9zm25 0l8-9 8 9-8 9zm79 0l8-9 8 9-8 9zm134 0l8-9 8 9-8 9zm10 0l8-9 8 9-8 9zm11 0l8-9 8 9-8 9zm118 0l8-9 8 9-8 9zm25 0l8-9 8 9-8 9zm35 0l8-9 8 9-8 9zm12 0l8-9 8 9-8 9zm13 0l8-9 8 9-8 9zm12 0l8-9 8 9-8 9zm25 0l8-9 8 9-8 9zm13 0l8-9 8 9-8 9zm25 0l8-9 8 9-8 9zm17 0l8-9 8 9-8 9zm21 0l8-9 8 9-8 9zm12 0l8-9 8 9-8 9zm13 0l8-9 8 9-8 9zm12 0l8-9 8 9-8 9zm25 0l8-9 8 9-8 9zm238 0l8-9 8 9-8 9zm26 0l8-9 8 9-8 9zm26 0l8-9 8 9-8 9zm26 0l8-9 8 9-8 9zm4 0l8-9 8 9-8 9zm24 0l8-9 8 9-8 9zm11 0l8-9 8 9-8 9zm12 0l8-9 8 9-8 9zm12 0l8-9 8 9-8 9zm108 0l8-9 8 9-8 9zm30 0l8-9 8 9-8 9zm10 0l8-9 8 9-8 9zm10 0l8-9 8 9-8 9zm23 0l8-9 8 9-8 9zm25 0l8-9 8 9-8 9zm299 0l8-9 8 9-8 9zm21 0l8-9 8 9-8 9zm38 0l8-9 8 9-8 9zm12 0l8-9 8 9-8 9zm19 0l8-9 8 9-8 9zm11 0l8-9 8 9-8 9zm12 0l8-9 8 9-8 9zm11 0l8-9 8 9-8 9zm-3100 26l8-9 8 9-8 9zm13 0l8-9 8 9-8 9zm12 0l8-9 8 9-8 9zm13 0l8-9 8 9-8 9zm42 0l8-9 8 9-8 9zm158 0l8-9 8 9-8 9zm42 0l8-9 8 9-8 9zm8 0l8-9 8 9-8 9zm130 0l8-9 8 9-8 9zm13 0l8-9 8 9-8 9zm14 0l8-9 8 9-8 9zm13 0l8-9 8 9-8 9zm25 0l8-9 8 9-8 9zm13 0l8-9 8 9-8 9zm62 0l8-9 8 9-8 9zm29 0l8-9 8 9-8 9zm197 0l8-9 8 9-8 9zm85 0l8-9 8 9-8 9zm132 0l8-9 8 9-8 9zm15 0l8-9 8 9-8 9zm14 0l8-9 8 9-8 9zm38 0l8-9 8 9-8 9zm13 0l8-9 8 9-8 9zm14 0l8-9 8 9-8 9zm13 0l8-9 8 9-8 9zm13 0l8-9 8 9-8 9zm25 0l8-9 8 9-8 9zm29 0l8-9 8 9-8 9zm12 0l8-9 8 9-8 9zm13 0l8-9 8 9-8 9zm12 0l8-9 8 9-8 9zm21 0l8-9 8 9-8 9zm14 0l8-9 8 9-8 9zm13 0l8-9 8 9-8 9zm14 0l8-9 8 9-8 9zm14 0l8-9 8 9-8 9zm41 0l8-9 8 9-8 9zm25 0l8-9 8 9-8 9zm13 0l8-9 8 9-8 9zm110 0l8-9 8 9-8 9zm178 0l8-9 8 9-8 9zm56 0l8-9 8 9-8 9zm147 0l8-9 8 9-8 9zm44 0l8-9 8 9-8 9zm27 0l8-9 8 9-8 9zm26 0l8-9 8 9-8 9zm26 0l8-9 8 9-8 9zm13 0l8-9 8 9-8 9zm12 0l8-9 8 9-8 9zm13 0l8-9 8 9-8 9zm13 0l8-9 8 9-8 9zm26 0l8-9 8 9-8 9zm38 0l8-9 8 9-8 9zm238 0l8-9 8 9-8 9zm13 0l8-9 8 9-8 9zm12 0l8-9 8 9-8 9zm24 0l8-9 8 9-8 9zm25 0l8-9 8 9-8 9zm4 0l8-9 8 9-8 9zm12 0l8-9 8 9-8 9zm23 0l8-9 8 9-8 9zm12 0l8-9 8 9-8 9zm12 0l8-9 8 9-8 9zm96 0l8-9 8 9-8 9zm96 0l8-9 8 9-8 9zm12 0l8-9 8 9-8 9zm30 0l8-9 8 9-8 9zm14 0l8-9 8 9-8 9zm15 0l8-9 8 9-8 9zm32 0l8-9 8 9-8 9zm203 0l8-9 8 9-8 9zm27 0l8-9 8 9-8 9zm14 0l8-9 8 9-8 9zm16 0l8-9 8 9-8 9zm11 0l8-9 8 9-8 9zm10 0l8-9 8 9-8 9zm11 0l8-9 8 9-8 9zm37 0l8-9 8 9-8 9zm-3203 26l8-9 8 9-8 9zm100 0l8-9 8 9-8 9zm12 0l8-9 8 9-8 9zm12 0l8-9 8 9-8 9zm12 0l8-9 8 9-8 9zm13 0l8-9 8 9-8 9zm12 0l8-9 8 9-8 9zm12 0l8-9 8 9-8 9zm12 0l8-9 8 9-8 9zm12 0l8-9 8 9-8 9zm12 0l8-9 8 9-8 9zm25 0l8-9 8 9-8 9zm12 0l8-9 8 9-8 9zm54 0l8-9 8 9-8 9zm46 0l8-9 8 9-8 9zm46 0l8-9 8 9-8 9zm11 0l8-9 8 9-8 9zm23 0l8-9 8 9-8 9zm21 0l8-9 8 9-8 9zm79 0l8-9 8 9-8 9zm13 0l8-9 8 9-8 9zm14 0l8-9 8 9-8 9zm13 0l8-9 8 9-8 9zm4 0l8-9 8 9-8 9zm34 0l8-9 8 9-8 9zm29 0l8-9 8 9-8 9zm33 0l8-9 8 9-8 9zm59 0l8-9 8 9-8 9zm42 0l8-9 8 9-8 9zm79 0l8-9 8 9-8 9zm46 0l8-9 8 9-8 9zm58 0l8-9 8 9-8 9zm159 0l8-9 8 9-8 9zm11 0l8-9 8 9-8 9zm11 0l8-9 8 9-8 9zm11 0l8-9 8 9-8 9zm42 0l8-9 8 9-8 9zm11 0l8-9 8 9-8 9zm21 0l8-9 8 9-8 9zm17 0l8-9 8 9-8 9zm21 0l8-9 8 9-8 9zm12 0l8-9 8 9-8 9zm13 0l8-9 8 9-8 9zm12 0l8-9 8 9-8 9zm13 0l8-9 8 9-8 9zm12 0l8-9 8 9-8 9zm13 0l8-9 8 9-8 9zm12 0l8-9 8 9-8 9zm67 0l8-9 8 9-8 9zm14 0l8-9 8 9-8 9zm26 0l8-9 8 9-8 9zm14 0l8-9 8 9-8 9zm13 0l8-9 8 9-8 9zm25 0l8-9 8 9-8 9zm104 0l8-9 8 9-8 9zm45 0l8-9 8 9-8 9zm93 0l8-9 8 9-8 9zm13 0l8-9 8 9-8 9zm25 0l8-9 8 9-8 9zm12 0l8-9 8 9-8 9zm13 0l8-9 8 9-8 9zm13 0l8-9 8 9-8 9zm105 0l8-9 8 9-8 9zm52 0l8-9 8 9-8 9zm33 0l8-9 8 9-8 9zm17 0l8-9 8 9-8 9zm21 0l8-9 8 9-8 9zm24 0l8-9 8 9-8 9zm12 0l8-9 8 9-8 9zm12 0l8-9 8 9-8 9zm12 0l8-9 8 9-8 9zm36 0l8-9 8 9-8 9zm25 0l8-9 8 9-8 9zm22 0l8-9 8 9-8 9zm11 0l8-9 8 9-8 9zm242 0l8-9 8 9-8 9zm37 0l8-9 8 9-8 9zm25 0l8-9 8 9-8 9zm12 0l8-9 8 9-8 9zm4 0l8-9 8 9-8 9zm41 0l8-9 8 9-8 9zm13 0l8-9 8 9-8 9zm51 0l8-9 8 9-8 9zm50 0l8-9 8 9-8 9zm13 0l8-9 8 9-8 9zm13 0l8-9 8 9-8 9zm13 0l8-9 8 9-8 9zm13 0l8-9 8 9-8 9zm13 0l8-9 8 9-8 9zm14 0l8-9 8 9-8 9zm13 0l8-9 8 9-8 9zm54 0l8-9 8 9-8 9zm58 0l8-9 8 9-8 9zm209 0l8-9 8 9-8 9zm13 0l8-9 8 9-8 9zm39 0l8-9 8 9-8 9zm26 0l8-9 8 9-8 9zm15 0l8-9 8 9-8 9zm14 0l8-9 8 9-8 9zm-3197 27l8-9 8 9-8 9zm102 0l8-9 8 9-8 9zm12 0l8-9 8 9-8 9zm13 0l8-9 8 9-8 9zm12 0l8-9 8 9-8 9zm13 0l8-9 8 9-8 9zm12 0l8-9 8 9-8 9zm13 0l8-9 8 9-8 9zm13 0l8-9 8 9-8 9zm12 0l8-9 8 9-8 9zm13 0l8-9 8 9-8 9zm12 0l8-9 8 9-8 9zm13 0l8-9 8 9-8 9zm12 0l8-9 8 9-8 9zm13 0l8-9 8 9-8 9zm37 0l8-9 8 9-8 9zm92 0l8-9 8 9-8 9zm55 0l8-9 8 9-8 9zm75 0l8-9 8 9-8 9zm11 0l8-9 8 9-8 9zm11 0l8-9 8 9-8 9zm11 0l8-9 8 9-8 9zm11 0l8-9 8 9-8 9zm4 0l8-9 8 9-8 9zm9 0l8-9 8 9-8 9zm37 0l8-9 8 9-8 9zm46 0l8-9 8 9-8 9zm230 0l8-9 8 9-8 9zm25 0l8-9 8 9-8 9zm29 0l8-9 8 9-8 9zm15 0l8-9 8 9-8 9zm14 0l8-9 8 9-8 9zm147 0l8-9 8 9-8 9zm12 0l8-9 8 9-8 9zm50 0l8-9 8 9-8 9zm21 0l8-9 8 9-8 9zm11 0l8-9 8 9-8 9zm13 0l8-9 8 9-8 9zm12 0l8-9 8 9-8 9zm50 0l8-9 8 9-8 9zm13 0l8-9 8 9-8 9zm12 0l8-9 8 9-8 9zm25 0l8-9 8 9-8 9zm13 0l8-9 8 9-8 9zm27 0l8-9 8 9-8 9zm13 0l8-9 8 9-8 9zm13 0l8-9 8 9-8 9zm13 0l8-9 8 9-8 9zm13 0l8-9 8 9-8 9zm21 0l8-9 8 9-8 9zm38 0l8-9 8 9-8 9zm71 0l8-9 8 9-8 9zm37 0l8-9 8 9-8 9zm84 0l8-9 8 9-8 9zm12 0l8-9 8 9-8 9zm55 0l8-9 8 9-8 9zm29 0l8-9 8 9-8 9zm44 0l8-9 8 9-8 9zm88 0l8-9 8 9-8 9zm17 0l8-9 8 9-8 9zm21 0l8-9 8 9-8 9zm45 0l8-9 8 9-8 9zm12 0l8-9 8 9-8 9zm12 0l8-9 8 9-8 9zm12 0l8-9 8 9-8 9zm11 0l8-9 8 9-8 9zm12 0l8-9 8 9-8 9zm17 0l8-9 8 9-8 9zm13 0l8-9 8 9-8 9zm41 0l8-9 8 9-8 9zm25 0l8-9 8 9-8 9zm292 0l8-9 8 9-8 9zm37 0l8-9 8 9-8 9zm25 0l8-9 8 9-8 9zm12 0l8-9 8 9-8 9zm21 0l8-9 8 9-8 9zm12 0l8-9 8 9-8 9zm13 0l8-9 8 9-8 9zm83 0l8-9 8 9-8 9zm13 0l8-9 8 9-8 9zm25 0l8-9 8 9-8 9zm25 0l8-9 8 9-8 9zm12 0l8-9 8 9-8 9zm12 0l8-9 8 9-8 9zm13 0l8-9 8 9-8 9zm12 0l8-9 8 9-8 9zm12 0l8-9 8 9-8 9zm12 0l8-9 8 9-8 9zm12 0l8-9 8 9-8 9zm12 0l8-9 8 9-8 9zm13 0l8-9 8 9-8 9zm12 0l8-9 8 9-8 9zm12 0l8-9 8 9-8 9zm48 0l8-9 8 9-8 9zm90 0l8-9 8 9-8 9zm21 0l8-9 8 9-8 9zm71 0l8-9 8 9-8 9zm23 0l8-9 8 9-8 9zm24 0l8-9 8 9-8 9zm12 0l8-9 8 9-8 9zm11 0l8-9 8 9-8 9zm12 0l8-9 8 9-8 9zm12 0l8-9 8 9-8 9zm25 0l8-9 8 9-8 9zm12 0l8-9 8 9-8 9zm-3205 26l8-9 8 9-8 9zm102 0l8-9 8 9-8 9zm12 0l8-9 8 9-8 9zm12 0l8-9 8 9-8 9zm12 0l8-9 8 9-8 9zm13 0l8-9 8 9-8 9zm12 0l8-9 8 9-8 9zm12 0l8-9 8 9-8 9zm12 0l8-9 8 9-8 9zm12 0l8-9 8 9-8 9zm13 0l8-9 8 9-8 9zm24 0l8-9 8 9-8 9zm12 0l8-9 8 9-8 9zm13 0l8-9 8 9-8 9zm25 0l8-9 8 9-8 9zm22 0l8-9 8 9-8 9zm11 0l8-9 8 9-8 9zm33 0l8-9 8 9-8 9zm13 0l8-9 8 9-8 9zm25 0l8-9 8 9-8 9zm13 0l8-9 8 9-8 9zm12 0l8-9 8 9-8 9zm38 0l8-9 8 9-8 9zm67 0l8-9 8 9-8 9zm12 0l8-9 8 9-8 9zm12 0l8-9 8 9-8 9zm12 0l8-9 8 9-8 9zm12 0l8-9 8 9-8 9zm21 0l8-9 8 9-8 9zm12 0l8-9 8 9-8 9zm13 0l8-9 8 9-8 9zm21 0l8-9 8 9-8 9zm25 0l8-9 8 9-8 9zm10 0l8-9 8 9-8 9zm11 0l8-9 8 9-8 9zm113 0l8-9 8 9-8 9zm54 0l8-9 8 9-8 9zm46 0l8-9 8 9-8 9zm71 0l8-9 8 9-8 9zm144 0l8-9 8 9-8 9zm24 0l8-9 8 9-8 9zm11 0l8-9 8 9-8 9zm63 0l8-9 8 9-8 9zm49 0l8-9 8 9-8 9zm26 0l8-9 8 9-8 9zm14 0l8-9 8 9-8 9zm13 0l8-9 8 9-8 9zm13 0l8-9 8 9-8 9zm21 0l8-9 8 9-8 9zm15 0l8-9 8 9-8 9zm15 0l8-9 8 9-8 9zm37 0l8-9 8 9-8 9zm46 0l8-9 8 9-8 9zm13 0l8-9 8 9-8 9zm25 0l8-9 8 9-8 9zm108 0l8-9 8 9-8 9zm59 0l8-9 8 9-8 9zm92 0l8-9 8 9-8 9zm41 0l8-9 8 9-8 9zm13 0l8-9 8 9-8 9zm140 0l8-9 8 9-8 9zm21 0l8-9 8 9-8 9zm17 0l8-9 8 9-8 9zm11 0l8-9 8 9-8 9zm11 0l8-9 8 9-8 9zm11 0l8-9 8 9-8 9zm17 0l8-9 8 9-8 9zm13 0l8-9 8 9-8 9zm25 0l8-9 8 9-8 9zm25 0l8-9 8 9-8 9zm12 0l8-9 8 9-8 9zm13 0l8-9 8 9-8 9zm12 0l8-9 8 9-8 9zm46 0l8-9 8 9-8 9zm25 0l8-9 8 9-8 9zm238 0l8-9 8 9-8 9zm37 0l8-9 8 9-8 9zm25 0l8-9 8 9-8 9zm12 0l8-9 8 9-8 9zm4 0l8-9 8 9-8 9zm41 0l8-9 8 9-8 9zm13 0l8-9 8 9-8 9zm26 0l8-9 8 9-8 9zm58 0l8-9 8 9-8 9zm29 0l8-9 8 9-8 9zm13 0l8-9 8 9-8 9zm12 0l8-9 8 9-8 9zm13 0l8-9 8 9-8 9zm12 0l8-9 8 9-8 9zm13 0l8-9 8 9-8 9zm38 0l8-9 8 9-8 9zm25 0l8-9 8 9-8 9zm12 0l8-9 8 9-8 9zm21 0l8-9 8 9-8 9zm13 0l8-9 8 9-8 9zm12 0l8-9 8 9-8 9zm13 0l8-9 8 9-8 9zm12 0l8-9 8 9-8 9zm159 0l8-9 8 9-8 9zm21 0l8-9 8 9-8 9zm25 0l8-9 8 9-8 9zm26 0l8-9 8 9-8 9zm13 0l8-9 8 9-8 9zm26 0l8-9 8 9-8 9zm4 0l8-9 8 9-8 9zm25 0l8-9 8 9-8 9zm-3195 26l8-9 8 9-8 9zm100 0l8-9 8 9-8 9zm13 0l8-9 8 9-8 9zm12 0l8-9 8 9-8 9zm13 0l8-9 8 9-8 9zm13 0l8-9 8 9-8 9zm13 0l8-9 8 9-8 9zm13 0l8-9 8 9-8 9zm13 0l8-9 8 9-8 9zm12 0l8-9 8 9-8 9zm13 0l8-9 8 9-8 9zm13 0l8-9 8 9-8 9zm13 0l8-9 8 9-8 9zm38 0l8-9 8 9-8 9zm67 0l8-9 8 9-8 9zm12 0l8-9 8 9-8 9zm12 0l8-9 8 9-8 9zm25 0l8-9 8 9-8 9zm12 0l8-9 8 9-8 9zm12 0l8-9 8 9-8 9zm12 0l8-9 8 9-8 9zm12 0l8-9 8 9-8 9zm24 0l8-9 8 9-8 9zm51 0l8-9 8 9-8 9zm12 0l8-9 8 9-8 9zm12 0l8-9 8 9-8 9zm12 0l8-9 8 9-8 9zm12 0l8-9 8 9-8 9zm4 0l8-9 8 9-8 9zm12 0l8-9 8 9-8 9zm25 0l8-9 8 9-8 9zm24 0l8-9 8 9-8 9zm12 0l8-9 8 9-8 9zm12 0l8-9 8 9-8 9zm12 0l8-9 8 9-8 9zm12 0l8-9 8 9-8 9zm12 0l8-9 8 9-8 9zm30 0l8-9 8 9-8 9zm46 0l8-9 8 9-8 9zm25 0l8-9 8 9-8 9zm12 0l8-9 8 9-8 9zm13 0l8-9 8 9-8 9zm71 0l8-9 8 9-8 9zm12 0l8-9 8 9-8 9zm24 0l8-9 8 9-8 9zm12 0l8-9 8 9-8 9zm12 0l8-9 8 9-8 9zm24 0l8-9 8 9-8 9zm12 0l8-9 8 9-8 9zm123 0l8-9 8 9-8 9zm24 0l8-9 8 9-8 9zm11 0l8-9 8 9-8 9zm38 0l8-9 8 9-8 9zm13 0l8-9 8 9-8 9zm40 0l8-9 8 9-8 9zm50 0l8-9 8 9-8 9zm12 0l8-9 8 9-8 9zm13 0l8-9 8 9-8 9zm12 0l8-9 8 9-8 9zm17 0l8-9 8 9-8 9zm27 0l8-9 8 9-8 9zm27 0l8-9 8 9-8 9zm17 0l8-9 8 9-8 9zm13 0l8-9 8 9-8 9zm12 0l8-9 8 9-8 9zm13 0l8-9 8 9-8 9zm12 0l8-9 8 9-8 9zm13 0l8-9 8 9-8 9zm12 0l8-9 8 9-8 9zm13 0l8-9 8 9-8 9zm12 0l8-9 8 9-8 9zm55 0l8-9 8 9-8 9zm29 0l8-9 8 9-8 9zm17 0l8-9 8 9-8 9zm16 0l8-9 8 9-8 9zm30 0l8-9 8 9-8 9zm12 0l8-9 8 9-8 9zm71 0l8-9 8 9-8 9zm11 0l8-9 8 9-8 9zm11 0l8-9 8 9-8 9zm12 0l8-9 8 9-8 9zm87 0l8-9 8 9-8 9zm45 0l8-9 8 9-8 9zm41 0l8-9 8 9-8 9zm13 0l8-9 8 9-8 9zm12 0l8-9 8 9-8 9zm30 0l8-9 8 9-8 9zm24 0l8-9 8 9-8 9zm12 0l8-9 8 9-8 9zm12 0l8-9 8 9-8 9zm24 0l8-9 8 9-8 9zm36 0l8-9 8 9-8 9zm13 0l8-9 8 9-8 9zm25 0l8-9 8 9-8 9zm33 0l8-9 8 9-8 9zm25 0l8-9 8 9-8 9zm233 0l8-9 8 9-8 9zm47 0l8-9 8 9-8 9zm11 0l8-9 8 9-8 9zm21 0l8-9 8 9-8 9zm35 0l8-9 8 9-8 9zm12 0l8-9 8 9-8 9zm11 0l8-9 8 9-8 9zm51 0l8-9 8 9-8 9zm25 0l8-9 8 9-8 9zm46 0l8-9 8 9-8 9zm13 0l8-9 8 9-8 9zm13 0l8-9 8 9-8 9zm14 0l8-9 8 9-8 9zm13 0l8-9 8 9-8 9zm13 0l8-9 8 9-8 9zm13 0l8-9 8 9-8 9zm26 0l8-9 8 9-8 9zm12 0l8-9 8 9-8 9zm13 0l8-9 8 9-8 9zm13 0l8-9 8 9-8 9zm13 0l8-9 8 9-8 9zm26 0l8-9 8 9-8 9zm12 0l8-9 8 9-8 9zm13 0l8-9 8 9-8 9zm13 0l8-9 8 9-8 9zm26 0l8-9 8 9-8 9zm13 0l8-9 8 9-8 9zm12 0l8-9 8 9-8 9zm75 0l8-9 8 9-8 9zm17 0l8-9 8 9-8 9zm33 0l8-9 8 9-8 9zm38 0l8-9 8 9-8 9zm12 0l8-9 8 9-8 9zm12 0l8-9 8 9-8 9zm12 0l8-9 8 9-8 9zm12 0l8-9 8 9-8 9zm13 0l8-9 8 9-8 9zm-3191 26l8-9 8 9-8 9zm100 0l8-9 8 9-8 9zm12 0l8-9 8 9-8 9zm12 0l8-9 8 9-8 9zm12 0l8-9 8 9-8 9zm13 0l8-9 8 9-8 9zm12 0l8-9 8 9-8 9zm12 0l8-9 8 9-8 9zm12 0l8-9 8 9-8 9zm12 0l8-9 8 9-8 9zm13 0l8-9 8 9-8 9zm12 0l8-9 8 9-8 9zm37 0l8-9 8 9-8 9zm41 0l8-9 8 9-8 9zm17 0l8-9 8 9-8 9zm29 0l8-9 8 9-8 9zm21 0l8-9 8 9-8 9zm13 0l8-9 8 9-8 9zm12 0l8-9 8 9-8 9zm13 0l8-9 8 9-8 9zm19 0l8-9 8 9-8 9zm43 0l8-9 8 9-8 9zm51 0l8-9 8 9-8 9zm12 0l8-9 8 9-8 9zm12 0l8-9 8 9-8 9zm12 0l8-9 8 9-8 9zm12 0l8-9 8 9-8 9zm4 0l8-9 8 9-8 9zm12 0l8-9 8 9-8 9zm11 0l8-9 8 9-8 9zm12 0l8-9 8 9-8 9zm11 0l8-9 8 9-8 9zm17 0l8-9 8 9-8 9zm12 0l8-9 8 9-8 9zm12 0l8-9 8 9-8 9zm11 0l8-9 8 9-8 9zm12 0l8-9 8 9-8 9zm12 0l8-9 8 9-8 9zm12 0l8-9 8 9-8 9zm33 0l8-9 8 9-8 9zm151 0l8-9 8 9-8 9zm29 0l8-9 8 9-8 9zm21 0l8-9 8 9-8 9zm33 0l8-9 8 9-8 9zm138 0l8-9 8 9-8 9zm11 0l8-9 8 9-8 9zm22 0l8-9 8 9-8 9zm63 0l8-9 8 9-8 9zm24 0l8-9 8 9-8 9zm13 0l8-9 8 9-8 9zm13 0l8-9 8 9-8 9zm13 0l8-9 8 9-8 9zm27 0l8-9 8 9-8 9zm13 0l8-9 8 9-8 9zm17 0l8-9 8 9-8 9zm25 0l8-9 8 9-8 9zm13 0l8-9 8 9-8 9zm13 0l8-9 8 9-8 9zm27 0l8-9 8 9-8 9zm14 0l8-9 8 9-8 9zm12 0l8-9 8 9-8 9zm27 0l8-9 8 9-8 9zm13 0l8-9 8 9-8 9zm14 0l8-9 8 9-8 9zm13 0l8-9 8 9-8 9zm88 0l8-9 8 9-8 9zm20 0l8-9 8 9-8 9zm34 0l8-9 8 9-8 9zm54 0l8-9 8 9-8 9zm42 0l8-9 8 9-8 9zm28 0l8-9 8 9-8 9zm14 0l8-9 8 9-8 9zm33 0l8-9 8 9-8 9zm103 0l8-9 8 9-8 9zm17 0l8-9 8 9-8 9zm25 0l8-9 8 9-8 9zm12 0l8-9 8 9-8 9zm13 0l8-9 8 9-8 9zm12 0l8-9 8 9-8 9zm13 0l8-9 8 9-8 9zm12 0l8-9 8 9-8 9zm25 0l8-9 8 9-8 9zm13 0l8-9 8 9-8 9zm13 0l8-9 8 9-8 9zm25 0l8-9 8 9-8 9zm12 0l8-9 8 9-8 9zm13 0l8-9 8 9-8 9zm33 0l8-9 8 9-8 9zm33 0l8-9 8 9-8 9zm268 0l8-9 8 9-8 9zm12 0l8-9 8 9-8 9zm30 0l8-9 8 9-8 9zm11 0l8-9 8 9-8 9zm12 0l8-9 8 9-8 9zm17 0l8-9 8 9-8 9zm12 0l8-9 8 9-8 9zm38 0l8-9 8 9-8 9zm67 0l8-9 8 9-8 9zm21 0l8-9 8 9-8 9zm41 0l8-9 8 9-8 9zm13 0l8-9 8 9-8 9zm25 0l8-9 8 9-8 9zm12 0l8-9 8 9-8 9zm26 0l8-9 8 9-8 9zm12 0l8-9 8 9-8 9zm13 0l8-9 8 9-8 9zm12 0l8-9 8 9-8 9zm13 0l8-9 8 9-8 9zm25 0l8-9 8 9-8 9zm12 0l8-9 8 9-8 9zm13 0l8-9 8 9-8 9zm12 0l8-9 8 9-8 9zm13 0l8-9 8 9-8 9zm12 0l8-9 8 9-8 9zm38 0l8-9 8 9-8 9zm109 0l8-9 8 9-8 9zm33 0l8-9 8 9-8 9zm12 0l8-9 8 9-8 9zm12 0l8-9 8 9-8 9zm13 0l8-9 8 9-8 9zm12 0l8-9 8 9-8 9zm12 0l8-9 8 9-8 9zm11 0l8-9 8 9-8 9zm22 0l8-9 8 9-8 9zm-3199 26l8-9 8 9-8 9zm12 0l8-9 8 9-8 9zm13 0l8-9 8 9-8 9zm75 0l8-9 8 9-8 9zm13 0l8-9 8 9-8 9zm13 0l8-9 8 9-8 9zm13 0l8-9 8 9-8 9zm13 0l8-9 8 9-8 9zm13 0l8-9 8 9-8 9zm14 0l8-9 8 9-8 9zm13 0l8-9 8 9-8 9zm21 0l8-9 8 9-8 9zm12 0l8-9 8 9-8 9zm13 0l8-9 8 9-8 9zm12 0l8-9 8 9-8 9zm25 0l8-9 8 9-8 9zm25 0l8-9 8 9-8 9zm17 0l8-9 8 9-8 9zm49 0l8-9 8 9-8 9zm12 0l8-9 8 9-8 9zm12 0l8-9 8 9-8 9zm24 0l8-9 8 9-8 9zm12 0l8-9 8 9-8 9zm13 0l8-9 8 9-8 9zm12 0l8-9 8 9-8 9zm58 0l8-9 8 9-8 9zm12 0l8-9 8 9-8 9zm11 0l8-9 8 9-8 9zm11 0l8-9 8 9-8 9zm12 0l8-9 8 9-8 9zm11 0l8-9 8 9-8 9zm4 0l8-9 8 9-8 9zm12 0l8-9 8 9-8 9zm13 0l8-9 8 9-8 9zm12 0l8-9 8 9-8 9zm12 0l8-9 8 9-8 9zm12 0l8-9 8 9-8 9zm12 0l8-9 8 9-8 9zm13 0l8-9 8 9-8 9zm12 0l8-9 8 9-8 9zm12 0l8-9 8 9-8 9zm12 0l8-9 8 9-8 9zm12 0l8-9 8 9-8 9zm13 0l8-9 8 9-8 9zm12 0l8-9 8 9-8 9zm58 0l8-9 8 9-8 9zm30 0l8-9 8 9-8 9zm37 0l8-9 8 9-8 9zm21 0l8-9 8 9-8 9zm13 0l8-9 8 9-8 9zm12 0l8-9 8 9-8 9zm25 0l8-9 8 9-8 9zm13 0l8-9 8 9-8 9zm12 0l8-9 8 9-8 9zm13 0l8-9 8 9-8 9zm12 0l8-9 8 9-8 9zm147 0l8-9 8 9-8 9zm12 0l8-9 8 9-8 9zm46 0l8-9 8 9-8 9zm15 0l8-9 8 9-8 9zm14 0l8-9 8 9-8 9zm28 0l8-9 8 9-8 9zm33 0l8-9 8 9-8 9zm30 0l8-9 8 9-8 9zm11 0l8-9 8 9-8 9zm12 0l8-9 8 9-8 9zm24 0l8-9 8 9-8 9zm12 0l8-9 8 9-8 9zm12 0l8-9 8 9-8 9zm12 0l8-9 8 9-8 9zm8 0l8-9 8 9-8 9zm26 0l8-9 8 9-8 9zm12 0l8-9 8 9-8 9zm13 0l8-9 8 9-8 9zm16 0l8-9 8 9-8 9zm55 0l8-9 8 9-8 9zm71 0l8-9 8 9-8 9zm37 0l8-9 8 9-8 9zm13 0l8-9 8 9-8 9zm12 0l8-9 8 9-8 9zm13 0l8-9 8 9-8 9zm42 0l8-9 8 9-8 9zm16 0l8-9 8 9-8 9zm25 0l8-9 8 9-8 9zm25 0l8-9 8 9-8 9zm25 0l8-9 8 9-8 9zm67 0l8-9 8 9-8 9zm78 0l8-9 8 9-8 9zm11 0l8-9 8 9-8 9zm22 0l8-9 8 9-8 9zm42 0l8-9 8 9-8 9zm13 0l8-9 8 9-8 9zm12 0l8-9 8 9-8 9zm17 0l8-9 8 9-8 9zm38 0l8-9 8 9-8 9zm12 0l8-9 8 9-8 9zm25 0l8-9 8 9-8 9zm22 0l8-9 8 9-8 9zm12 0l8-9 8 9-8 9zm16 0l8-9 8 9-8 9zm289 0l8-9 8 9-8 9zm16 0l8-9 8 9-8 9zm21 0l8-9 8 9-8 9zm24 0l8-9 8 9-8 9zm11 0l8-9 8 9-8 9zm12 0l8-9 8 9-8 9zm22 0l8-9 8 9-8 9zm55 0l8-9 8 9-8 9zm37 0l8-9 8 9-8 9zm27 0l8-9 8 9-8 9zm13 0l8-9 8 9-8 9zm13 0l8-9 8 9-8 9zm14 0l8-9 8 9-8 9zm13 0l8-9 8 9-8 9zm37 0l8-9 8 9-8 9zm13 0l8-9 8 9-8 9zm12 0l8-9 8 9-8 9zm13 0l8-9 8 9-8 9zm12 0l8-9 8 9-8 9zm13 0l8-9 8 9-8 9zm13 0l8-9 8 9-8 9zm12 0l8-9 8 9-8 9zm13 0l8-9 8 9-8 9zm25 0l8-9 8 9-8 9zm12 0l8-9 8 9-8 9zm13 0l8-9 8 9-8 9zm25 0l8-9 8 9-8 9zm29 0l8-9 8 9-8 9zm113 0l8-9 8 9-8 9zm26 0l8-9 8 9-8 9zm13 0l8-9 8 9-8 9zm13 0l8-9 8 9-8 9zm13 0l8-9 8 9-8 9zm12 0l8-9 8 9-8 9zm25 0l8-9 8 9-8 9zm-3208 27l8-9 8 9-8 9zm105 0l8-9 8 9-8 9zm12 0l8-9 8 9-8 9zm13 0l8-9 8 9-8 9zm12 0l8-9 8 9-8 9zm13 0l8-9 8 9-8 9zm12 0l8-9 8 9-8 9zm13 0l8-9 8 9-8 9zm13 0l8-9 8 9-8 9zm12 0l8-9 8 9-8 9zm13 0l8-9 8 9-8 9zm12 0l8-9 8 9-8 9zm13 0l8-9 8 9-8 9zm37 0l8-9 8 9-8 9zm13 0l8-9 8 9-8 9zm12 0l8-9 8 9-8 9zm13 0l8-9 8 9-8 9zm12 0l8-9 8 9-8 9zm46 0l8-9 8 9-8 9zm12 0l8-9 8 9-8 9zm11 0l8-9 8 9-8 9zm23 0l8-9 8 9-8 9zm46 0l8-9 8 9-8 9zm46 0l8-9 8 9-8 9zm12 0l8-9 8 9-8 9zm11 0l8-9 8 9-8 9zm11 0l8-9 8 9-8 9zm12 0l8-9 8 9-8 9zm11 0l8-9 8 9-8 9zm17 0l8-9 8 9-8 9zm12 0l8-9 8 9-8 9zm12 0l8-9 8 9-8 9zm12 0l8-9 8 9-8 9zm12 0l8-9 8 9-8 9zm12 0l8-9 8 9-8 9zm13 0l8-9 8 9-8 9zm24 0l8-9 8 9-8 9zm24 0l8-9 8 9-8 9zm12 0l8-9 8 9-8 9zm51 0l8-9 8 9-8 9zm25 0l8-9 8 9-8 9zm12 0l8-9 8 9-8 9zm13 0l8-9 8 9-8 9zm54 0l8-9 8 9-8 9zm26 0l8-9 8 9-8 9zm13 0l8-9 8 9-8 9zm13 0l8-9 8 9-8 9zm26 0l8-9 8 9-8 9zm26 0l8-9 8 9-8 9zm151 0l8-9 8 9-8 9zm54 0l8-9 8 9-8 9zm21 0l8-9 8 9-8 9zm28 0l8-9 8 9-8 9zm24 0l8-9 8 9-8 9zm12 0l8-9 8 9-8 9zm24 0l8-9 8 9-8 9zm24 0l8-9 8 9-8 9zm12 0l8-9 8 9-8 9zm41 0l8-9 8 9-8 9zm13 0l8-9 8 9-8 9zm25 0l8-9 8 9-8 9zm25 0l8-9 8 9-8 9zm13 0l8-9 8 9-8 9zm12 0l8-9 8 9-8 9zm13 0l8-9 8 9-8 9zm12 0l8-9 8 9-8 9zm25 0l8-9 8 9-8 9zm13 0l8-9 8 9-8 9zm46 0l8-9 8 9-8 9zm37 0l8-9 8 9-8 9zm13 0l8-9 8 9-8 9zm12 0l8-9 8 9-8 9zm13 0l8-9 8 9-8 9zm29 0l8-9 8 9-8 9zm34 0l8-9 8 9-8 9zm25 0l8-9 8 9-8 9zm16 0l8-9 8 9-8 9zm14 0l8-9 8 9-8 9zm14 0l8-9 8 9-8 9zm14 0l8-9 8 9-8 9zm75 0l8-9 8 9-8 9zm72 0l8-9 8 9-8 9zm52 0l8-9 8 9-8 9zm53 0l8-9 8 9-8 9zm13 0l8-9 8 9-8 9zm13 0l8-9 8 9-8 9zm13 0l8-9 8 9-8 9zm37 0l8-9 8 9-8 9zm11 0l8-9 8 9-8 9zm10 0l8-9 8 9-8 9zm25 0l8-9 8 9-8 9zm21 0l8-9 8 9-8 9zm21 0l8-9 8 9-8 9zm261 0l8-9 8 9-8 9zm23 0l8-9 8 9-8 9zm25 0l8-9 8 9-8 9zm61 0l8-9 8 9-8 9zm25 0l8-9 8 9-8 9zm13 0l8-9 8 9-8 9zm25 0l8-9 8 9-8 9zm38 0l8-9 8 9-8 9zm12 0l8-9 8 9-8 9zm26 0l8-9 8 9-8 9zm12 0l8-9 8 9-8 9zm13 0l8-9 8 9-8 9zm13 0l8-9 8 9-8 9zm13 0l8-9 8 9-8 9zm12 0l8-9 8 9-8 9zm13 0l8-9 8 9-8 9zm13 0l8-9 8 9-8 9zm13 0l8-9 8 9-8 9zm12 0l8-9 8 9-8 9zm13 0l8-9 8 9-8 9zm13 0l8-9 8 9-8 9zm12 0l8-9 8 9-8 9zm13 0l8-9 8 9-8 9zm13 0l8-9 8 9-8 9zm13 0l8-9 8 9-8 9zm25 0l8-9 8 9-8 9zm25 0l8-9 8 9-8 9zm38 0l8-9 8 9-8 9zm50 0l8-9 8 9-8 9zm41 0l8-9 8 9-8 9zm13 0l8-9 8 9-8 9zm21 0l8-9 8 9-8 9zm27 0l8-9 8 9-8 9zm13 0l8-9 8 9-8 9zm13 0l8-9 8 9-8 9zm22 0l8-9 8 9-8 9zm11 0l8-9 8 9-8 9zm-3204 26l8-9 8 9-8 9zm142 0l8-9 8 9-8 9zm30 0l8-9 8 9-8 9zm37 0l8-9 8 9-8 9zm21 0l8-9 8 9-8 9zm12 0l8-9 8 9-8 9zm12 0l8-9 8 9-8 9zm12 0l8-9 8 9-8 9zm12 0l8-9 8 9-8 9zm36 0l8-9 8 9-8 9zm12 0l8-9 8 9-8 9zm38 0l8-9 8 9-8 9zm11 0l8-9 8 9-8 9zm11 0l8-9 8 9-8 9zm11 0l8-9 8 9-8 9zm34 0l8-9 8 9-8 9zm11 0l8-9 8 9-8 9zm24 0l8-9 8 9-8 9zm11 0l8-9 8 9-8 9zm12 0l8-9 8 9-8 9zm17 0l8-9 8 9-8 9zm13 0l8-9 8 9-8 9zm13 0l8-9 8 9-8 9zm13 0l8-9 8 9-8 9zm26 0l8-9 8 9-8 9zm4 0l8-9 8 9-8 9zm11 0l8-9 8 9-8 9zm11 0l8-9 8 9-8 9zm12 0l8-9 8 9-8 9zm16 0l8-9 8 9-8 9zm12 0l8-9 8 9-8 9zm13 0l8-9 8 9-8 9zm12 0l8-9 8 9-8 9zm12 0l8-9 8 9-8 9zm12 0l8-9 8 9-8 9zm12 0l8-9 8 9-8 9zm12 0l8-9 8 9-8 9zm12 0l8-9 8 9-8 9zm24 0l8-9 8 9-8 9zm63 0l8-9 8 9-8 9zm67 0l8-9 8 9-8 9zm26 0l8-9 8 9-8 9zm13 0l8-9 8 9-8 9zm13 0l8-9 8 9-8 9zm13 0l8-9 8 9-8 9zm13 0l8-9 8 9-8 9zm13 0l8-9 8 9-8 9zm13 0l8-9 8 9-8 9zm218 0l8-9 8 9-8 9zm36 0l8-9 8 9-8 9zm12 0l8-9 8 9-8 9zm38 0l8-9 8 9-8 9zm37 0l8-9 8 9-8 9zm11 0l8-9 8 9-8 9zm12 0l8-9 8 9-8 9zm11 0l8-9 8 9-8 9zm16 0l8-9 8 9-8 9zm78 0l8-9 8 9-8 9zm13 0l8-9 8 9-8 9zm26 0l8-9 8 9-8 9zm13 0l8-9 8 9-8 9zm12 0l8-9 8 9-8 9zm92 0l8-9 8 9-8 9zm17 0l8-9 8 9-8 9zm21 0l8-9 8 9-8 9zm12 0l8-9 8 9-8 9zm13 0l8-9 8 9-8 9zm13 0l8-9 8 9-8 9zm12 0l8-9 8 9-8 9zm50 0l8-9 8 9-8 9zm11 0l8-9 8 9-8 9zm10 0l8-9 8 9-8 9zm17 0l8-9 8 9-8 9zm33 0l8-9 8 9-8 9zm99 0l8-9 8 9-8 9zm29 0l8-9 8 9-8 9zm21 0l8-9 8 9-8 9zm28 0l8-9 8 9-8 9zm14 0l8-9 8 9-8 9zm46 0l8-9 8 9-8 9zm25 0l8-9 8 9-8 9zm37 0l8-9 8 9-8 9zm30 0l8-9 8 9-8 9zm29 0l8-9 8 9-8 9zm284 0l8-9 8 9-8 9zm33 0l8-9 8 9-8 9zm49 0l8-9 8 9-8 9zm12 0l8-9 8 9-8 9zm28 0l8-9 8 9-8 9zm52 0l8-9 8 9-8 9zm33 0l8-9 8 9-8 9zm12 0l8-9 8 9-8 9zm23 0l8-9 8 9-8 9zm12 0l8-9 8 9-8 9zm12 0l8-9 8 9-8 9zm25 0l8-9 8 9-8 9zm13 0l8-9 8 9-8 9zm14 0l8-9 8 9-8 9zm13 0l8-9 8 9-8 9zm14 0l8-9 8 9-8 9zm29 0l8-9 8 9-8 9zm13 0l8-9 8 9-8 9zm12 0l8-9 8 9-8 9zm13 0l8-9 8 9-8 9zm25 0l8-9 8 9-8 9zm12 0l8-9 8 9-8 9zm25 0l8-9 8 9-8 9zm25 0l8-9 8 9-8 9zm51 0l8-9 8 9-8 9zm29 0l8-9 8 9-8 9zm42 0l8-9 8 9-8 9zm62 0l8-9 8 9-8 9zm17 0l8-9 8 9-8 9zm15 0l8-9 8 9-8 9zm12 0l8-9 8 9-8 9zm13 0l8-9 8 9-8 9zm-3200 26l8-9 8 9-8 9zm34 0l8-9 8 9-8 9zm121 0l8-9 8 9-8 9zm10 0l8-9 8 9-8 9zm11 0l8-9 8 9-8 9zm29 0l8-9 8 9-8 9zm37 0l8-9 8 9-8 9zm51 0l8-9 8 9-8 9zm12 0l8-9 8 9-8 9zm13 0l8-9 8 9-8 9zm12 0l8-9 8 9-8 9zm13 0l8-9 8 9-8 9zm12 0l8-9 8 9-8 9zm13 0l8-9 8 9-8 9zm37 0l8-9 8 9-8 9zm13 0l8-9 8 9-8 9zm17 0l8-9 8 9-8 9zm52 0l8-9 8 9-8 9zm13 0l8-9 8 9-8 9zm13 0l8-9 8 9-8 9zm13 0l8-9 8 9-8 9zm13 0l8-9 8 9-8 9zm13 0l8-9 8 9-8 9zm36 0l8-9 8 9-8 9zm12 0l8-9 8 9-8 9zm13 0l8-9 8 9-8 9zm12 0l8-9 8 9-8 9zm11 0l8-9 8 9-8 9zm11 0l8-9 8 9-8 9zm12 0l8-9 8 9-8 9zm16 0l8-9 8 9-8 9zm28 0l8-9 8 9-8 9zm14 0l8-9 8 9-8 9zm29 0l8-9 8 9-8 9zm30 0l8-9 8 9-8 9zm25 0l8-9 8 9-8 9zm79 0l8-9 8 9-8 9zm12 0l8-9 8 9-8 9zm26 0l8-9 8 9-8 9zm12 0l8-9 8 9-8 9zm13 0l8-9 8 9-8 9zm12 0l8-9 8 9-8 9zm13 0l8-9 8 9-8 9zm12 0l8-9 8 9-8 9zm146 0l8-9 8 9-8 9zm67 0l8-9 8 9-8 9zm99 0l8-9 8 9-8 9zm14 0l8-9 8 9-8 9zm15 0l8-9 8 9-8 9zm21 0l8-9 8 9-8 9zm15 0l8-9 8 9-8 9zm14 0l8-9 8 9-8 9zm9 0l8-9 8 9-8 9zm12 0l8-9 8 9-8 9zm13 0l8-9 8 9-8 9zm25 0l8-9 8 9-8 9zm25 0l8-9 8 9-8 9zm12 0l8-9 8 9-8 9zm13 0l8-9 8 9-8 9zm12 0l8-9 8 9-8 9zm21 0l8-9 8 9-8 9zm24 0l8-9 8 9-8 9zm12 0l8-9 8 9-8 9zm12 0l8-9 8 9-8 9zm11 0l8-9 8 9-8 9zm12 0l8-9 8 9-8 9zm46 0l8-9 8 9-8 9zm25 0l8-9 8 9-8 9zm13 0l8-9 8 9-8 9zm12 0l8-9 8 9-8 9zm55 0l8-9 8 9-8 9zm25 0l8-9 8 9-8 9zm33 0l8-9 8 9-8 9zm75 0l8-9 8 9-8 9zm40 0l8-9 8 9-8 9zm40 0l8-9 8 9-8 9zm13 0l8-9 8 9-8 9zm13 0l8-9 8 9-8 9zm26 0l8-9 8 9-8 9zm59 0l8-9 8 9-8 9zm12 0l8-9 8 9-8 9zm13 0l8-9 8 9-8 9zm12 0l8-9 8 9-8 9zm25 0l8-9 8 9-8 9zm13 0l8-9 8 9-8 9zm13 0l8-9 8 9-8 9zm12 0l8-9 8 9-8 9zm17 0l8-9 8 9-8 9zm406 0l8-9 8 9-8 9zm60 0l8-9 8 9-8 9zm12 0l8-9 8 9-8 9zm24 0l8-9 8 9-8 9zm12 0l8-9 8 9-8 9zm12 0l8-9 8 9-8 9zm24 0l8-9 8 9-8 9zm13 0l8-9 8 9-8 9zm12 0l8-9 8 9-8 9zm25 0l8-9 8 9-8 9zm12 0l8-9 8 9-8 9zm13 0l8-9 8 9-8 9zm12 0l8-9 8 9-8 9zm29 0l8-9 8 9-8 9zm12 0l8-9 8 9-8 9zm13 0l8-9 8 9-8 9zm12 0l8-9 8 9-8 9zm12 0l8-9 8 9-8 9zm12 0l8-9 8 9-8 9zm12 0l8-9 8 9-8 9zm12 0l8-9 8 9-8 9zm12 0l8-9 8 9-8 9zm33 0l8-9 8 9-8 9zm46 0l8-9 8 9-8 9zm25 0l8-9 8 9-8 9zm25 0l8-9 8 9-8 9zm42 0l8-9 8 9-8 9zm13 0l8-9 8 9-8 9zm26 0l8-9 8 9-8 9zm13 0l8-9 8 9-8 9zm13 0l8-9 8 9-8 9zm12 0l8-9 8 9-8 9zm-3187 26l8-9 8 9-8 9zm34 0l8-9 8 9-8 9zm15 0l8-9 8 9-8 9zm97 0l8-9 8 9-8 9zm38 0l8-9 8 9-8 9zm58 0l8-9 8 9-8 9zm13 0l8-9 8 9-8 9zm38 0l8-9 8 9-8 9zm12 0l8-9 8 9-8 9zm25 0l8-9 8 9-8 9zm13 0l8-9 8 9-8 9zm50 0l8-9 8 9-8 9zm25 0l8-9 8 9-8 9zm14 0l8-9 8 9-8 9zm14 0l8-9 8 9-8 9zm14 0l8-9 8 9-8 9zm16 0l8-9 8 9-8 9zm14 0l8-9 8 9-8 9zm14 0l8-9 8 9-8 9zm13 0l8-9 8 9-8 9zm14 0l8-9 8 9-8 9zm21 0l8-9 8 9-8 9zm31 0l8-9 8 9-8 9zm15 0l8-9 8 9-8 9zm15 0l8-9 8 9-8 9zm20 0l8-9 8 9-8 9zm13 0l8-9 8 9-8 9zm13 0l8-9 8 9-8 9zm12 0l8-9 8 9-8 9zm13 0l8-9 8 9-8 9zm12 0l8-9 8 9-8 9zm13 0l8-9 8 9-8 9zm12 0l8-9 8 9-8 9zm13 0l8-9 8 9-8 9zm12 0l8-9 8 9-8 9zm30 0l8-9 8 9-8 9zm12 0l8-9 8 9-8 9zm13 0l8-9 8 9-8 9zm12 0l8-9 8 9-8 9zm13 0l8-9 8 9-8 9zm25 0l8-9 8 9-8 9zm25 0l8-9 8 9-8 9zm12 0l8-9 8 9-8 9zm12 0l8-9 8 9-8 9zm12 0l8-9 8 9-8 9zm12 0l8-9 8 9-8 9zm24 0l8-9 8 9-8 9zm12 0l8-9 8 9-8 9zm24 0l8-9 8 9-8 9zm142 0l8-9 8 9-8 9zm21 0l8-9 8 9-8 9zm71 0l8-9 8 9-8 9zm7 0l8-9 8 9-8 9zm25 0l8-9 8 9-8 9zm29 0l8-9 8 9-8 9zm13 0l8-9 8 9-8 9zm12 0l8-9 8 9-8 9zm25 0l8-9 8 9-8 9zm25 0l8-9 8 9-8 9zm14 0l8-9 8 9-8 9zm13 0l8-9 8 9-8 9zm13 0l8-9 8 9-8 9zm13 0l8-9 8 9-8 9zm26 0l8-9 8 9-8 9zm26 0l8-9 8 9-8 9zm25 0l8-9 8 9-8 9zm27 0l8-9 8 9-8 9zm14 0l8-9 8 9-8 9zm13 0l8-9 8 9-8 9zm38 0l8-9 8 9-8 9zm12 0l8-9 8 9-8 9zm34 0l8-9 8 9-8 9zm46 0l8-9 8 9-8 9zm37 0l8-9 8 9-8 9zm17 0l8-9 8 9-8 9zm12 0l8-9 8 9-8 9zm23 0l8-9 8 9-8 9zm12 0l8-9 8 9-8 9zm12 0l8-9 8 9-8 9zm37 0l8-9 8 9-8 9zm50 0l8-9 8 9-8 9zm7 0l8-9 8 9-8 9zm21 0l8-9 8 9-8 9zm33 0l8-9 8 9-8 9zm21 0l8-9 8 9-8 9zm13 0l8-9 8 9-8 9zm12 0l8-9 8 9-8 9zm25 0l8-9 8 9-8 9zm88 0l8-9 8 9-8 9zm29 0l8-9 8 9-8 9zm13 0l8-9 8 9-8 9zm12 0l8-9 8 9-8 9zm13 0l8-9 8 9-8 9zm8 0l8-9 8 9-8 9zm25 0l8-9 8 9-8 9zm301 0l8-9 8 9-8 9zm12 0l8-9 8 9-8 9zm24 0l8-9 8 9-8 9zm75 0l8-9 8 9-8 9zm11 0l8-9 8 9-8 9zm10 0l8-9 8 9-8 9zm21 0l8-9 8 9-8 9zm21 0l8-9 8 9-8 9zm25 0l8-9 8 9-8 9zm12 0l8-9 8 9-8 9zm26 0l8-9 8 9-8 9zm58 0l8-9 8 9-8 9zm11 0l8-9 8 9-8 9zm11 0l8-9 8 9-8 9zm11 0l8-9 8 9-8 9zm34 0l8-9 8 9-8 9zm12 0l8-9 8 9-8 9zm13 0l8-9 8 9-8 9zm12 0l8-9 8 9-8 9zm13 0l8-9 8 9-8 9zm25 0l8-9 8 9-8 9zm13 0l8-9 8 9-8 9zm16 0l8-9 8 9-8 9zm38 0l8-9 8 9-8 9zm25 0l8-9 8 9-8 9zm58 0l8-9 8 9-8 9zm13 0l8-9 8 9-8 9zm12 0l8-9 8 9-8 9zm26 0l8-9 8 9-8 9zm41 0l8-9 8 9-8 9zm7 0l8-9 8 9-8 9zm17 0l8-9 8 9-8 9zm20 0l8-9 8 9-8 9zm-3213 26l8-9 8 9-8 9zm183 0l8-9 8 9-8 9zm65 0l8-9 8 9-8 9zm37 0l8-9 8 9-8 9zm24 0l8-9 8 9-8 9zm12 0l8-9 8 9-8 9zm25 0l8-9 8 9-8 9zm12 0l8-9 8 9-8 9zm12 0l8-9 8 9-8 9zm12 0l8-9 8 9-8 9zm12 0l8-9 8 9-8 9zm25 0l8-9 8 9-8 9zm35 0l8-9 8 9-8 9zm23 0l8-9 8 9-8 9zm21 0l8-9 8 9-8 9zm25 0l8-9 8 9-8 9zm57 0l8-9 8 9-8 9zm13 0l8-9 8 9-8 9zm12 0l8-9 8 9-8 9zm13 0l8-9 8 9-8 9zm12 0l8-9 8 9-8 9zm13 0l8-9 8 9-8 9zm12 0l8-9 8 9-8 9zm21 0l8-9 8 9-8 9zm24 0l8-9 8 9-8 9zm12 0l8-9 8 9-8 9zm23 0l8-9 8 9-8 9zm12 0l8-9 8 9-8 9zm21 0l8-9 8 9-8 9zm11 0l8-9 8 9-8 9zm11 0l8-9 8 9-8 9zm12 0l8-9 8 9-8 9zm50 0l8-9 8 9-8 9zm29 0l8-9 8 9-8 9zm52 0l8-9 8 9-8 9zm26 0l8-9 8 9-8 9zm26 0l8-9 8 9-8 9zm147 0l8-9 8 9-8 9zm115 0l8-9 8 9-8 9zm25 0l8-9 8 9-8 9zm14 0l8-9 8 9-8 9zm28 0l8-9 8 9-8 9zm21 0l8-9 8 9-8 9zm25 0l8-9 8 9-8 9zm25 0l8-9 8 9-8 9zm12 0l8-9 8 9-8 9zm13 0l8-9 8 9-8 9zm12 0l8-9 8 9-8 9zm25 0l8-9 8 9-8 9zm36 0l8-9 8 9-8 9zm12 0l8-9 8 9-8 9zm12 0l8-9 8 9-8 9zm12 0l8-9 8 9-8 9zm24 0l8-9 8 9-8 9zm30 0l8-9 8 9-8 9zm16 0l8-9 8 9-8 9zm21 0l8-9 8 9-8 9zm12 0l8-9 8 9-8 9zm59 0l8-9 8 9-8 9zm21 0l8-9 8 9-8 9zm17 0l8-9 8 9-8 9zm8 0l8-9 8 9-8 9zm12 0l8-9 8 9-8 9zm12 0l8-9 8 9-8 9zm11 0l8-9 8 9-8 9zm12 0l8-9 8 9-8 9zm12 0l8-9 8 9-8 9zm16 0l8-9 8 9-8 9zm95 0l8-9 8 9-8 9zm33 0l8-9 8 9-8 9zm28 0l8-9 8 9-8 9zm14 0l8-9 8 9-8 9zm21 0l8-9 8 9-8 9zm17 0l8-9 8 9-8 9zm25 0l8-9 8 9-8 9zm33 0l8-9 8 9-8 9zm80 0l8-9 8 9-8 9zm25 0l8-9 8 9-8 9zm16 0l8-9 8 9-8 9zm25 0l8-9 8 9-8 9zm264 0l8-9 8 9-8 9zm12 0l8-9 8 9-8 9zm111 0l8-9 8 9-8 9zm13 0l8-9 8 9-8 9zm12 0l8-9 8 9-8 9zm25 0l8-9 8 9-8 9zm25 0l8-9 8 9-8 9zm13 0l8-9 8 9-8 9zm25 0l8-9 8 9-8 9zm13 0l8-9 8 9-8 9zm12 0l8-9 8 9-8 9zm75 0l8-9 8 9-8 9zm46 0l8-9 8 9-8 9zm11 0l8-9 8 9-8 9zm10 0l8-9 8 9-8 9zm33 0l8-9 8 9-8 9zm14 0l8-9 8 9-8 9zm14 0l8-9 8 9-8 9zm14 0l8-9 8 9-8 9zm38 0l8-9 8 9-8 9zm12 0l8-9 8 9-8 9zm13 0l8-9 8 9-8 9zm29 0l8-9 8 9-8 9zm34 0l8-9 8 9-8 9zm41 0l8-9 8 9-8 9zm25 0l8-9 8 9-8 9zm14 0l8-9 8 9-8 9zm14 0l8-9 8 9-8 9zm10 0l8-9 8 9-8 9zm11 0l8-9 8 9-8 9zm-3194 27l8-9 8 9-8 9zm44 0l8-9 8 9-8 9zm196 0l8-9 8 9-8 9zm26 0l8-9 8 9-8 9zm24 0l8-9 8 9-8 9zm12 0l8-9 8 9-8 9zm12 0l8-9 8 9-8 9zm12 0l8-9 8 9-8 9zm24 0l8-9 8 9-8 9zm12 0l8-9 8 9-8 9zm25 0l8-9 8 9-8 9zm33 0l8-9 8 9-8 9zm12 0l8-9 8 9-8 9zm36 0l8-9 8 9-8 9zm12 0l8-9 8 9-8 9zm13 0l8-9 8 9-8 9zm12 0l8-9 8 9-8 9zm12 0l8-9 8 9-8 9zm12 0l8-9 8 9-8 9zm57 0l8-9 8 9-8 9zm41 0l8-9 8 9-8 9zm59 0l8-9 8 9-8 9zm12 0l8-9 8 9-8 9zm13 0l8-9 8 9-8 9zm12 0l8-9 8 9-8 9zm13 0l8-9 8 9-8 9zm12 0l8-9 8 9-8 9zm17 0l8-9 8 9-8 9zm14 0l8-9 8 9-8 9zm27 0l8-9 8 9-8 9zm13 0l8-9 8 9-8 9zm30 0l8-9 8 9-8 9zm11 0l8-9 8 9-8 9zm12 0l8-9 8 9-8 9zm11 0l8-9 8 9-8 9zm12 0l8-9 8 9-8 9zm8 0l8-9 8 9-8 9zm13 0l8-9 8 9-8 9zm13 0l8-9 8 9-8 9zm14 0l8-9 8 9-8 9zm13 0l8-9 8 9-8 9zm13 0l8-9 8 9-8 9zm13 0l8-9 8 9-8 9zm147 0l8-9 8 9-8 9zm10 0l8-9 8 9-8 9zm10 0l8-9 8 9-8 9zm42 0l8-9 8 9-8 9zm25 0l8-9 8 9-8 9zm7 0l8-9 8 9-8 9zm58 0l8-9 8 9-8 9zm26 0l8-9 8 9-8 9zm13 0l8-9 8 9-8 9zm26 0l8-9 8 9-8 9zm13 0l8-9 8 9-8 9zm13 0l8-9 8 9-8 9zm13 0l8-9 8 9-8 9zm13 0l8-9 8 9-8 9zm13 0l8-9 8 9-8 9zm54 0l8-9 8 9-8 9zm38 0l8-9 8 9-8 9zm42 0l8-9 8 9-8 9zm25 0l8-9 8 9-8 9zm25 0l8-9 8 9-8 9zm12 0l8-9 8 9-8 9zm30 0l8-9 8 9-8 9zm14 0l8-9 8 9-8 9zm15 0l8-9 8 9-8 9zm42 0l8-9 8 9-8 9zm13 0l8-9 8 9-8 9zm13 0l8-9 8 9-8 9zm26 0l8-9 8 9-8 9zm14 0l8-9 8 9-8 9zm13 0l8-9 8 9-8 9zm79 0l8-9 8 9-8 9zm7 0l8-9 8 9-8 9zm29 0l8-9 8 9-8 9zm13 0l8-9 8 9-8 9zm12 0l8-9 8 9-8 9zm25 0l8-9 8 9-8 9zm13 0l8-9 8 9-8 9zm29 0l8-9 8 9-8 9zm25 0l8-9 8 9-8 9zm13 0l8-9 8 9-8 9zm16 0l8-9 8 9-8 9zm14 0l8-9 8 9-8 9zm28 0l8-9 8 9-8 9zm80 0l8-9 8 9-8 9zm25 0l8-9 8 9-8 9zm249 0l8-9 8 9-8 9zm137 0l8-9 8 9-8 9zm26 0l8-9 8 9-8 9zm13 0l8-9 8 9-8 9zm26 0l8-9 8 9-8 9zm13 0l8-9 8 9-8 9zm12 0l8-9 8 9-8 9zm13 0l8-9 8 9-8 9zm26 0l8-9 8 9-8 9zm13 0l8-9 8 9-8 9zm13 0l8-9 8 9-8 9zm13 0l8-9 8 9-8 9zm37 0l8-9 8 9-8 9zm25 0l8-9 8 9-8 9zm11 0l8-9 8 9-8 9zm10 0l8-9 8 9-8 9zm34 0l8-9 8 9-8 9zm33 0l8-9 8 9-8 9zm12 0l8-9 8 9-8 9zm13 0l8-9 8 9-8 9zm13 0l8-9 8 9-8 9zm25 0l8-9 8 9-8 9zm29 0l8-9 8 9-8 9zm10 0l8-9 8 9-8 9zm11 0l8-9 8 9-8 9zm21 0l8-9 8 9-8 9zm21 0l8-9 8 9-8 9zm25 0l8-9 8 9-8 9zm25 0l8-9 8 9-8 9zm25 0l8-9 8 9-8 9zm25 0l8-9 8 9-8 9zm38 0l8-9 8 9-8 9zm-3148 26l8-9 8 9-8 9zm63 0l8-9 8 9-8 9zm133 0l8-9 8 9-8 9zm26 0l8-9 8 9-8 9zm12 0l8-9 8 9-8 9zm12 0l8-9 8 9-8 9zm12 0l8-9 8 9-8 9zm24 0l8-9 8 9-8 9zm12 0l8-9 8 9-8 9zm12 0l8-9 8 9-8 9zm24 0l8-9 8 9-8 9zm50 0l8-9 8 9-8 9zm13 0l8-9 8 9-8 9zm27 0l8-9 8 9-8 9zm13 0l8-9 8 9-8 9zm13 0l8-9 8 9-8 9zm13 0l8-9 8 9-8 9zm13 0l8-9 8 9-8 9zm54 0l8-9 8 9-8 9zm7 0l8-9 8 9-8 9zm13 0l8-9 8 9-8 9zm12 0l8-9 8 9-8 9zm71 0l8-9 8 9-8 9zm13 0l8-9 8 9-8 9zm12 0l8-9 8 9-8 9zm13 0l8-9 8 9-8 9zm12 0l8-9 8 9-8 9zm13 0l8-9 8 9-8 9zm12 0l8-9 8 9-8 9zm17 0l8-9 8 9-8 9zm25 0l8-9 8 9-8 9zm21 0l8-9 8 9-8 9zm12 0l8-9 8 9-8 9zm12 0l8-9 8 9-8 9zm13 0l8-9 8 9-8 9zm24 0l8-9 8 9-8 9zm12 0l8-9 8 9-8 9zm12 0l8-9 8 9-8 9zm13 0l8-9 8 9-8 9zm12 0l8-9 8 9-8 9zm12 0l8-9 8 9-8 9zm12 0l8-9 8 9-8 9zm12 0l8-9 8 9-8 9zm163 0l8-9 8 9-8 9zm141 0l8-9 8 9-8 9zm14 0l8-9 8 9-8 9zm15 0l8-9 8 9-8 9zm25 0l8-9 8 9-8 9zm63 0l8-9 8 9-8 9zm12 0l8-9 8 9-8 9zm25 0l8-9 8 9-8 9zm34 0l8-9 8 9-8 9zm20 0l8-9 8 9-8 9zm21 0l8-9 8 9-8 9zm14 0l8-9 8 9-8 9zm14 0l8-9 8 9-8 9zm13 0l8-9 8 9-8 9zm14 0l8-9 8 9-8 9zm16 0l8-9 8 9-8 9zm23 0l8-9 8 9-8 9zm12 0l8-9 8 9-8 9zm11 0l8-9 8 9-8 9zm13 0l8-9 8 9-8 9zm12 0l8-9 8 9-8 9zm12 0l8-9 8 9-8 9zm23 0l8-9 8 9-8 9zm12 0l8-9 8 9-8 9zm12 0l8-9 8 9-8 9zm12 0l8-9 8 9-8 9zm13 0l8-9 8 9-8 9zm25 0l8-9 8 9-8 9zm13 0l8-9 8 9-8 9zm25 0l8-9 8 9-8 9zm79 0l8-9 8 9-8 9zm72 0l8-9 8 9-8 9zm12 0l8-9 8 9-8 9zm24 0l8-9 8 9-8 9zm12 0l8-9 8 9-8 9zm12 0l8-9 8 9-8 9zm12 0l8-9 8 9-8 9zm63 0l8-9 8 9-8 9zm25 0l8-9 8 9-8 9zm50 0l8-9 8 9-8 9zm21 0l8-9 8 9-8 9zm29 0l8-9 8 9-8 9zm330 0l8-9 8 9-8 9zm7 0l8-9 8 9-8 9zm67 0l8-9 8 9-8 9zm21 0l8-9 8 9-8 9zm12 0l8-9 8 9-8 9zm23 0l8-9 8 9-8 9zm12 0l8-9 8 9-8 9zm12 0l8-9 8 9-8 9zm12 0l8-9 8 9-8 9zm17 0l8-9 8 9-8 9zm11 0l8-9 8 9-8 9zm11 0l8-9 8 9-8 9zm11 0l8-9 8 9-8 9zm42 0l8-9 8 9-8 9zm21 0l8-9 8 9-8 9zm121 0l8-9 8 9-8 9zm12 0l8-9 8 9-8 9zm13 0l8-9 8 9-8 9zm25 0l8-9 8 9-8 9zm13 0l8-9 8 9-8 9zm29 0l8-9 8 9-8 9zm29 0l8-9 8 9-8 9zm11 0l8-9 8 9-8 9zm11 0l8-9 8 9-8 9zm11 0l8-9 8 9-8 9zm21 0l8-9 8 9-8 9zm-2855 26l8-9 8 9-8 9zm26 0l8-9 8 9-8 9zm11 0l8-9 8 9-8 9zm12 0l8-9 8 9-8 9zm11 0l8-9 8 9-8 9zm11 0l8-9 8 9-8 9zm21 0l8-9 8 9-8 9zm28 0l8-9 8 9-8 9zm14 0l8-9 8 9-8 9zm67 0l8-9 8 9-8 9zm13 0l8-9 8 9-8 9zm12 0l8-9 8 9-8 9zm13 0l8-9 8 9-8 9zm12 0l8-9 8 9-8 9zm13 0l8-9 8 9-8 9zm12 0l8-9 8 9-8 9zm157 0l8-9 8 9-8 9zm13 0l8-9 8 9-8 9zm13 0l8-9 8 9-8 9zm13 0l8-9 8 9-8 9zm13 0l8-9 8 9-8 9zm12 0l8-9 8 9-8 9zm13 0l8-9 8 9-8 9zm13 0l8-9 8 9-8 9zm13 0l8-9 8 9-8 9zm13 0l8-9 8 9-8 9zm13 0l8-9 8 9-8 9zm12 0l8-9 8 9-8 9zm13 0l8-9 8 9-8 9zm13 0l8-9 8 9-8 9zm13 0l8-9 8 9-8 9zm21 0l8-9 8 9-8 9zm11 0l8-9 8 9-8 9zm11 0l8-9 8 9-8 9zm11 0l8-9 8 9-8 9zm17 0l8-9 8 9-8 9zm13 0l8-9 8 9-8 9zm14 0l8-9 8 9-8 9zm26 0l8-9 8 9-8 9zm14 0l8-9 8 9-8 9zm286 0l8-9 8 9-8 9zm15 0l8-9 8 9-8 9zm15 0l8-9 8 9-8 9zm37 0l8-9 8 9-8 9zm25 0l8-9 8 9-8 9zm25 0l8-9 8 9-8 9zm13 0l8-9 8 9-8 9zm29 0l8-9 8 9-8 9zm67 0l8-9 8 9-8 9zm11 0l8-9 8 9-8 9zm35 0l8-9 8 9-8 9zm33 0l8-9 8 9-8 9zm88 0l8-9 8 9-8 9zm42 0l8-9 8 9-8 9zm24 0l8-9 8 9-8 9zm12 0l8-9 8 9-8 9zm12 0l8-9 8 9-8 9zm12 0l8-9 8 9-8 9zm36 0l8-9 8 9-8 9zm33 0l8-9 8 9-8 9zm13 0l8-9 8 9-8 9zm36 0l8-9 8 9-8 9zm16 0l8-9 8 9-8 9zm42 0l8-9 8 9-8 9zm34 0l8-9 8 9-8 9zm11 0l8-9 8 9-8 9zm11 0l8-9 8 9-8 9zm11 0l8-9 8 9-8 9zm74 0l8-9 8 9-8 9zm53 0l8-9 8 9-8 9zm11 0l8-9 8 9-8 9zm441 0l8-9 8 9-8 9zm12 0l8-9 8 9-8 9zm12 0l8-9 8 9-8 9zm12 0l8-9 8 9-8 9zm24 0l8-9 8 9-8 9zm24 0l8-9 8 9-8 9zm12 0l8-9 8 9-8 9zm17 0l8-9 8 9-8 9zm14 0l8-9 8 9-8 9zm14 0l8-9 8 9-8 9zm14 0l8-9 8 9-8 9zm66 0l8-9 8 9-8 9zm17 0l8-9 8 9-8 9zm17 0l8-9 8 9-8 9zm12 0l8-9 8 9-8 9zm13 0l8-9 8 9-8 9zm46 0l8-9 8 9-8 9zm13 0l8-9 8 9-8 9zm41 0l8-9 8 9-8 9zm17 0l8-9 8 9-8 9zm25 0l8-9 8 9-8 9zm38 0l8-9 8 9-8 9zm12 0l8-9 8 9-8 9zm13 0l8-9 8 9-8 9zm25 0l8-9 8 9-8 9zm37 0l8-9 8 9-8 9zm25 0l8-9 8 9-8 9zm44 0l8-9 8 9-8 9zm-3163 26l8-9 8 9-8 9zm193 0l8-9 8 9-8 9zm26 0l8-9 8 9-8 9zm12 0l8-9 8 9-8 9zm24 0l8-9 8 9-8 9zm12 0l8-9 8 9-8 9zm12 0l8-9 8 9-8 9zm12 0l8-9 8 9-8 9zm24 0l8-9 8 9-8 9zm62 0l8-9 8 9-8 9zm34 0l8-9 8 9-8 9zm11 0l8-9 8 9-8 9zm12 0l8-9 8 9-8 9zm12 0l8-9 8 9-8 9zm11 0l8-9 8 9-8 9zm12 0l8-9 8 9-8 9zm170 0l8-9 8 9-8 9zm21 0l8-9 8 9-8 9zm37 0l8-9 8 9-8 9zm13 0l8-9 8 9-8 9zm37 0l8-9 8 9-8 9zm13 0l8-9 8 9-8 9zm12 0l8-9 8 9-8 9zm26 0l8-9 8 9-8 9zm12 0l8-9 8 9-8 9zm67 0l8-9 8 9-8 9zm17 0l8-9 8 9-8 9zm46 0l8-9 8 9-8 9zm142 0l8-9 8 9-8 9zm58 0l8-9 8 9-8 9zm90 0l8-9 8 9-8 9zm30 0l8-9 8 9-8 9zm27 0l8-9 8 9-8 9zm14 0l8-9 8 9-8 9zm17 0l8-9 8 9-8 9zm25 0l8-9 8 9-8 9zm13 0l8-9 8 9-8 9zm12 0l8-9 8 9-8 9zm42 0l8-9 8 9-8 9zm25 0l8-9 8 9-8 9zm25 0l8-9 8 9-8 9zm25 0l8-9 8 9-8 9zm54 0l8-9 8 9-8 9zm38 0l8-9 8 9-8 9zm13 0l8-9 8 9-8 9zm12 0l8-9 8 9-8 9zm13 0l8-9 8 9-8 9zm12 0l8-9 8 9-8 9zm17 0l8-9 8 9-8 9zm12 0l8-9 8 9-8 9zm13 0l8-9 8 9-8 9zm12 0l8-9 8 9-8 9zm13 0l8-9 8 9-8 9zm13 0l8-9 8 9-8 9zm25 0l8-9 8 9-8 9zm12 0l8-9 8 9-8 9zm50 0l8-9 8 9-8 9zm11 0l8-9 8 9-8 9zm10 0l8-9 8 9-8 9zm11 0l8-9 8 9-8 9zm14 0l8-9 8 9-8 9zm28 0l8-9 8 9-8 9zm21 0l8-9 8 9-8 9zm10 0l8-9 8 9-8 9zm11 0l8-9 8 9-8 9zm15 0l8-9 8 9-8 9zm14 0l8-9 8 9-8 9zm19 0l8-9 8 9-8 9zm67 0l8-9 8 9-8 9zm480 0l8-9 8 9-8 9zm42 0l8-9 8 9-8 9zm13 0l8-9 8 9-8 9zm12 0l8-9 8 9-8 9zm13 0l8-9 8 9-8 9zm12 0l8-9 8 9-8 9zm13 0l8-9 8 9-8 9zm12 0l8-9 8 9-8 9zm13 0l8-9 8 9-8 9zm29 0l8-9 8 9-8 9zm150 0l8-9 8 9-8 9zm67 0l8-9 8 9-8 9zm14 0l8-9 8 9-8 9zm14 0l8-9 8 9-8 9zm14 0l8-9 8 9-8 9zm17 0l8-9 8 9-8 9zm29 0l8-9 8 9-8 9zm17 0l8-9 8 9-8 9zm16 0l8-9 8 9-8 9zm25 0l8-9 8 9-8 9zm25 0l8-9 8 9-8 9zm63 0l8-9 8 9-8 9zm-3118 26l8-9 8 9-8 9zm226 0l8-9 8 9-8 9zm46 0l8-9 8 9-8 9zm25 0l8-9 8 9-8 9zm14 0l8-9 8 9-8 9zm15 0l8-9 8 9-8 9zm54 0l8-9 8 9-8 9zm34 0l8-9 8 9-8 9zm12 0l8-9 8 9-8 9zm13 0l8-9 8 9-8 9zm12 0l8-9 8 9-8 9zm13 0l8-9 8 9-8 9zm90 0l8-9 8 9-8 9zm113 0l8-9 8 9-8 9zm12 0l8-9 8 9-8 9zm13 0l8-9 8 9-8 9zm12 0l8-9 8 9-8 9zm26 0l8-9 8 9-8 9zm25 0l8-9 8 9-8 9zm25 0l8-9 8 9-8 9zm12 0l8-9 8 9-8 9zm25 0l8-9 8 9-8 9zm13 0l8-9 8 9-8 9zm12 0l8-9 8 9-8 9zm25 0l8-9 8 9-8 9zm13 0l8-9 8 9-8 9zm12 0l8-9 8 9-8 9zm268 0l8-9 8 9-8 9zm44 0l8-9 8 9-8 9zm33 0l8-9 8 9-8 9zm28 0l8-9 8 9-8 9zm13 0l8-9 8 9-8 9zm14 0l8-9 8 9-8 9zm54 0l8-9 8 9-8 9zm11 0l8-9 8 9-8 9zm10 0l8-9 8 9-8 9zm79 0l8-9 8 9-8 9zm23 0l8-9 8 9-8 9zm11 0l8-9 8 9-8 9zm37 0l8-9 8 9-8 9zm14 0l8-9 8 9-8 9zm13 0l8-9 8 9-8 9zm13 0l8-9 8 9-8 9zm13 0l8-9 8 9-8 9zm14 0l8-9 8 9-8 9zm13 0l8-9 8 9-8 9zm8 0l8-9 8 9-8 9zm13 0l8-9 8 9-8 9zm13 0l8-9 8 9-8 9zm26 0l8-9 8 9-8 9zm13 0l8-9 8 9-8 9zm13 0l8-9 8 9-8 9zm26 0l8-9 8 9-8 9zm13 0l8-9 8 9-8 9zm42 0l8-9 8 9-8 9zm25 0l8-9 8 9-8 9zm13 0l8-9 8 9-8 9zm14 0l8-9 8 9-8 9zm13 0l8-9 8 9-8 9zm29 0l8-9 8 9-8 9zm34 0l8-9 8 9-8 9zm16 0l8-9 8 9-8 9zm120 0l8-9 8 9-8 9zm110 0l8-9 8 9-8 9zm13 0l8-9 8 9-8 9zm325 0l8-9 8 9-8 9zm7 0l8-9 8 9-8 9zm63 0l8-9 8 9-8 9zm12 0l8-9 8 9-8 9zm13 0l8-9 8 9-8 9zm25 0l8-9 8 9-8 9zm25 0l8-9 8 9-8 9zm13 0l8-9 8 9-8 9zm83 0l8-9 8 9-8 9zm79 0l8-9 8 9-8 9zm55 0l8-9 8 9-8 9zm12 0l8-9 8 9-8 9zm12 0l8-9 8 9-8 9zm13 0l8-9 8 9-8 9zm37 0l8-9 8 9-8 9zm12 0l8-9 8 9-8 9zm12 0l8-9 8 9-8 9zm12 0l8-9 8 9-8 9zm13 0l8-9 8 9-8 9zm12 0l8-9 8 9-8 9zm12 0l8-9 8 9-8 9zm13 0l8-9 8 9-8 9zm12 0l8-9 8 9-8 9zm12 0l8-9 8 9-8 9zm25 0l8-9 8 9-8 9zm12 0l8-9 8 9-8 9zm94 0l8-9 8 9-8 9zm-3174 26l8-9 8 9-8 9zm8 0l8-9 8 9-8 9zm226 0l8-9 8 9-8 9zm26 0l8-9 8 9-8 9zm13 0l8-9 8 9-8 9zm13 0l8-9 8 9-8 9zm26 0l8-9 8 9-8 9zm14 0l8-9 8 9-8 9zm46 0l8-9 8 9-8 9zm50 0l8-9 8 9-8 9zm25 0l8-9 8 9-8 9zm12 0l8-9 8 9-8 9zm13 0l8-9 8 9-8 9zm199 0l8-9 8 9-8 9zm25 0l8-9 8 9-8 9zm12 0l8-9 8 9-8 9zm12 0l8-9 8 9-8 9zm13 0l8-9 8 9-8 9zm12 0l8-9 8 9-8 9zm12 0l8-9 8 9-8 9zm12 0l8-9 8 9-8 9zm25 0l8-9 8 9-8 9zm12 0l8-9 8 9-8 9zm25 0l8-9 8 9-8 9zm24 0l8-9 8 9-8 9zm25 0l8-9 8 9-8 9zm66 0l8-9 8 9-8 9zm167 0l8-9 8 9-8 9zm174 0l8-9 8 9-8 9zm67 0l8-9 8 9-8 9zm34 0l8-9 8 9-8 9zm75 0l8-9 8 9-8 9zm11 0l8-9 8 9-8 9zm35 0l8-9 8 9-8 9zm12 0l8-9 8 9-8 9zm17 0l8-9 8 9-8 9zm13 0l8-9 8 9-8 9zm27 0l8-9 8 9-8 9zm13 0l8-9 8 9-8 9zm26 0l8-9 8 9-8 9zm13 0l8-9 8 9-8 9zm11 0l8-9 8 9-8 9zm24 0l8-9 8 9-8 9zm23 0l8-9 8 9-8 9zm17 0l8-9 8 9-8 9zm13 0l8-9 8 9-8 9zm12 0l8-9 8 9-8 9zm13 0l8-9 8 9-8 9zm12 0l8-9 8 9-8 9zm17 0l8-9 8 9-8 9zm33 0l8-9 8 9-8 9zm11 0l8-9 8 9-8 9zm10 0l8-9 8 9-8 9zm11 0l8-9 8 9-8 9zm14 0l8-9 8 9-8 9zm14 0l8-9 8 9-8 9zm14 0l8-9 8 9-8 9zm16 0l8-9 8 9-8 9zm30 0l8-9 8 9-8 9zm21 0l8-9 8 9-8 9zm12 0l8-9 8 9-8 9zm13 0l8-9 8 9-8 9zm133 0l8-9 8 9-8 9zm42 0l8-9 8 9-8 9zm408 0l8-9 8 9-8 9zm25 0l8-9 8 9-8 9zm12 0l8-9 8 9-8 9zm25 0l8-9 8 9-8 9zm13 0l8-9 8 9-8 9zm46 0l8-9 8 9-8 9zm71 0l8-9 8 9-8 9zm58 0l8-9 8 9-8 9zm34 0l8-9 8 9-8 9zm63 0l8-9 8 9-8 9zm12 0l8-9 8 9-8 9zm13 0l8-9 8 9-8 9zm13 0l8-9 8 9-8 9zm65 0l8-9 8 9-8 9zm12 0l8-9 8 9-8 9zm26 0l8-9 8 9-8 9zm13 0l8-9 8 9-8 9zm-3051 27l8-9 8 9-8 9zm271 0l8-9 8 9-8 9zm30 0l8-9 8 9-8 9zm67 0l8-9 8 9-8 9zm16 0l8-9 8 9-8 9zm34 0l8-9 8 9-8 9zm14 0l8-9 8 9-8 9zm14 0l8-9 8 9-8 9zm13 0l8-9 8 9-8 9zm99 0l8-9 8 9-8 9zm109 0l8-9 8 9-8 9zm12 0l8-9 8 9-8 9zm13 0l8-9 8 9-8 9zm12 0l8-9 8 9-8 9zm13 0l8-9 8 9-8 9zm21 0l8-9 8 9-8 9zm25 0l8-9 8 9-8 9zm12 0l8-9 8 9-8 9zm13 0l8-9 8 9-8 9zm12 0l8-9 8 9-8 9zm13 0l8-9 8 9-8 9zm12 0l8-9 8 9-8 9zm13 0l8-9 8 9-8 9zm63 0l8-9 8 9-8 9zm41 0l8-9 8 9-8 9zm362 0l8-9 8 9-8 9zm29 0l8-9 8 9-8 9zm46 0l8-9 8 9-8 9zm88 0l8-9 8 9-8 9zm12 0l8-9 8 9-8 9zm11 0l8-9 8 9-8 9zm12 0l8-9 8 9-8 9zm12 0l8-9 8 9-8 9zm12 0l8-9 8 9-8 9zm41 0l8-9 8 9-8 9zm14 0l8-9 8 9-8 9zm14 0l8-9 8 9-8 9zm14 0l8-9 8 9-8 9zm17 0l8-9 8 9-8 9zm12 0l8-9 8 9-8 9zm25 0l8-9 8 9-8 9zm13 0l8-9 8 9-8 9zm17 0l8-9 8 9-8 9zm25 0l8-9 8 9-8 9zm21 0l8-9 8 9-8 9zm25 0l8-9 8 9-8 9zm21 0l8-9 8 9-8 9zm12 0l8-9 8 9-8 9zm36 0l8-9 8 9-8 9zm22 0l8-9 8 9-8 9zm11 0l8-9 8 9-8 9zm34 0l8-9 8 9-8 9zm17 0l8-9 8 9-8 9zm25 0l8-9 8 9-8 9zm20 0l8-9 8 9-8 9zm138 0l8-9 8 9-8 9zm412 0l8-9 8 9-8 9zm38 0l8-9 8 9-8 9zm27 0l8-9 8 9-8 9zm40 0l8-9 8 9-8 9zm104 0l8-9 8 9-8 9zm13 0l8-9 8 9-8 9zm29 0l8-9 8 9-8 9zm92 0l8-9 8 9-8 9zm42 0l8-9 8 9-8 9zm12 0l8-9 8 9-8 9zm12 0l8-9 8 9-8 9zm12 0l8-9 8 9-8 9zm24 0l8-9 8 9-8 9zm12 0l8-9 8 9-8 9zm25 0l8-9 8 9-8 9zm24 0l8-9 8 9-8 9zm12 0l8-9 8 9-8 9zm-3030 26l8-9 8 9-8 9zm251 0l8-9 8 9-8 9zm25 0l8-9 8 9-8 9zm23 0l8-9 8 9-8 9zm18 0l8-9 8 9-8 9zm24 0l8-9 8 9-8 9zm42 0l8-9 8 9-8 9zm51 0l8-9 8 9-8 9zm241 0l8-9 8 9-8 9zm29 0l8-9 8 9-8 9zm17 0l8-9 8 9-8 9zm25 0l8-9 8 9-8 9zm24 0l8-9 8 9-8 9zm24 0l8-9 8 9-8 9zm12 0l8-9 8 9-8 9zm12 0l8-9 8 9-8 9zm13 0l8-9 8 9-8 9zm12 0l8-9 8 9-8 9zm12 0l8-9 8 9-8 9zm58 0l8-9 8 9-8 9zm29 0l8-9 8 9-8 9zm350 0l8-9 8 9-8 9zm37 0l8-9 8 9-8 9zm80 0l8-9 8 9-8 9zm71 0l8-9 8 9-8 9zm20 0l8-9 8 9-8 9zm12 0l8-9 8 9-8 9zm12 0l8-9 8 9-8 9zm36 0l8-9 8 9-8 9zm12 0l8-9 8 9-8 9zm12 0l8-9 8 9-8 9zm33 0l8-9 8 9-8 9zm26 0l8-9 8 9-8 9zm25 0l8-9 8 9-8 9zm25 0l8-9 8 9-8 9zm25 0l8-9 8 9-8 9zm16 0l8-9 8 9-8 9zm34 0l8-9 8 9-8 9zm39 0l8-9 8 9-8 9zm26 0l8-9 8 9-8 9zm14 0l8-9 8 9-8 9zm13 0l8-9 8 9-8 9zm14 0l8-9 8 9-8 9zm13 0l8-9 8 9-8 9zm28 0l8-9 8 9-8 9zm27 0l8-9 8 9-8 9zm616 0l8-9 8 9-8 9zm13 0l8-9 8 9-8 9zm14 0l8-9 8 9-8 9zm13 0l8-9 8 9-8 9zm13 0l8-9 8 9-8 9zm27 0l8-9 8 9-8 9zm25 0l8-9 8 9-8 9zm254 0l8-9 8 9-8 9zm13 0l8-9 8 9-8 9zm26 0l8-9 8 9-8 9zm13 0l8-9 8 9-8 9zm13 0l8-9 8 9-8 9zm13 0l8-9 8 9-8 9zm13 0l8-9 8 9-8 9zm64 0l8-9 8 9-8 9zm-3072 26l8-9 8 9-8 9zm251 0l8-9 8 9-8 9zm8 0l8-9 8 9-8 9zm75 0l8-9 8 9-8 9zm9 0l8-9 8 9-8 9zm75 0l8-9 8 9-8 9zm257 0l8-9 8 9-8 9zm50 0l8-9 8 9-8 9zm13 0l8-9 8 9-8 9zm41 0l8-9 8 9-8 9zm36 0l8-9 8 9-8 9zm11 0l8-9 8 9-8 9zm12 0l8-9 8 9-8 9zm25 0l8-9 8 9-8 9zm50 0l8-9 8 9-8 9zm171 0l8-9 8 9-8 9zm63 0l8-9 8 9-8 9zm82 0l8-9 8 9-8 9zm71 0l8-9 8 9-8 9zm54 0l8-9 8 9-8 9zm101 0l8-9 8 9-8 9zm45 0l8-9 8 9-8 9zm12 0l8-9 8 9-8 9zm11 0l8-9 8 9-8 9zm11 0l8-9 8 9-8 9zm12 0l8-9 8 9-8 9zm41 0l8-9 8 9-8 9zm13 0l8-9 8 9-8 9zm13 0l8-9 8 9-8 9zm25 0l8-9 8 9-8 9zm12 0l8-9 8 9-8 9zm12 0l8-9 8 9-8 9zm12 0l8-9 8 9-8 9zm12 0l8-9 8 9-8 9zm12 0l8-9 8 9-8 9zm11 0l8-9 8 9-8 9zm50 0l8-9 8 9-8 9zm26 0l8-9 8 9-8 9zm25 0l8-9 8 9-8 9zm23 0l8-9 8 9-8 9zm8 0l8-9 8 9-8 9zm9 0l8-9 8 9-8 9zm29 0l8-9 8 9-8 9zm15 0l8-9 8 9-8 9zm14 0l8-9 8 9-8 9zm34 0l8-9 8 9-8 9zm165 0l8-9 8 9-8 9zm439 0l8-9 8 9-8 9zm11 0l8-9 8 9-8 9zm11 0l8-9 8 9-8 9zm11 0l8-9 8 9-8 9zm13 0l8-9 8 9-8 9zm25 0l8-9 8 9-8 9zm158 0l8-9 8 9-8 9zm163 0l8-9 8 9-8 9zm40 0l8-9 8 9-8 9zm14 0l8-9 8 9-8 9zm13 0l8-9 8 9-8 9zm54 0l8-9 8 9-8 9zm-3076 26l8-9 8 9-8 9zm11 0l8-9 8 9-8 9zm10 0l8-9 8 9-8 9zm230 0l8-9 8 9-8 9zm37 0l8-9 8 9-8 9zm28 0l8-9 8 9-8 9zm42 0l8-9 8 9-8 9zm42 0l8-9 8 9-8 9zm292 0l8-9 8 9-8 9zm33 0l8-9 8 9-8 9zm12 0l8-9 8 9-8 9zm11 0l8-9 8 9-8 9zm12 0l8-9 8 9-8 9zm11 0l8-9 8 9-8 9zm30 0l8-9 8 9-8 9zm13 0l8-9 8 9-8 9zm14 0l8-9 8 9-8 9zm13 0l8-9 8 9-8 9zm14 0l8-9 8 9-8 9zm416 0l8-9 8 9-8 9zm13 0l8-9 8 9-8 9zm20 0l8-9 8 9-8 9zm13 0l8-9 8 9-8 9zm33 0l8-9 8 9-8 9zm63 0l8-9 8 9-8 9zm13 0l8-9 8 9-8 9zm104 0l8-9 8 9-8 9zm10 0l8-9 8 9-8 9zm11 0l8-9 8 9-8 9zm21 0l8-9 8 9-8 9zm12 0l8-9 8 9-8 9zm25 0l8-9 8 9-8 9zm25 0l8-9 8 9-8 9zm9 0l8-9 8 9-8 9zm11 0l8-9 8 9-8 9zm24 0l8-9 8 9-8 9zm23 0l8-9 8 9-8 9zm9 0l8-9 8 9-8 9zm10 0l8-9 8 9-8 9zm11 0l8-9 8 9-8 9zm20 0l8-9 8 9-8 9zm12 0l8-9 8 9-8 9zm22 0l8-9 8 9-8 9zm33 0l8-9 8 9-8 9zm11 0l8-9 8 9-8 9zm10 0l8-9 8 9-8 9zm11 0l8-9 8 9-8 9zm11 0l8-9 8 9-8 9zm11 0l8-9 8 9-8 9zm11 0l8-9 8 9-8 9zm30 0l8-9 8 9-8 9zm650 0l8-9 8 9-8 9zm22 0l8-9 8 9-8 9zm11 0l8-9 8 9-8 9zm38 0l8-9 8 9-8 9zm158 0l8-9 8 9-8 9zm130 0l8-9 8 9-8 9zm14 0l8-9 8 9-8 9zm14 0l8-9 8 9-8 9zm14 0l8-9 8 9-8 9zm12 0l8-9 8 9-8 9zm12 0l8-9 8 9-8 9zm23 0l8-9 8 9-8 9zm11 0l8-9 8 9-8 9zm42 0l8-9 8 9-8 9zm25 0l8-9 8 9-8 9zm-3090 26l8-9 8 9-8 9zm252 0l8-9 8 9-8 9zm98 0l8-9 8 9-8 9zm381 0l8-9 8 9-8 9zm13 0l8-9 8 9-8 9zm26 0l8-9 8 9-8 9zm13 0l8-9 8 9-8 9zm13 0l8-9 8 9-8 9zm13 0l8-9 8 9-8 9zm14 0l8-9 8 9-8 9zm16 0l8-9 8 9-8 9zm73 0l8-9 8 9-8 9zm190 0l8-9 8 9-8 9zm67 0l8-9 8 9-8 9zm78 0l8-9 8 9-8 9zm25 0l8-9 8 9-8 9zm17 0l8-9 8 9-8 9zm221 0l8-9 8 9-8 9zm13 0l8-9 8 9-8 9zm12 0l8-9 8 9-8 9zm21 0l8-9 8 9-8 9zm11 0l8-9 8 9-8 9zm10 0l8-9 8 9-8 9zm17 0l8-9 8 9-8 9zm12 0l8-9 8 9-8 9zm13 0l8-9 8 9-8 9zm12 0l8-9 8 9-8 9zm13 0l8-9 8 9-8 9zm25 0l8-9 8 9-8 9zm12 0l8-9 8 9-8 9zm23 0l8-9 8 9-8 9zm12 0l8-9 8 9-8 9zm11 0l8-9 8 9-8 9zm34 0l8-9 8 9-8 9zm16 0l8-9 8 9-8 9zm34 0l8-9 8 9-8 9zm13 0l8-9 8 9-8 9zm14 0l8-9 8 9-8 9zm13 0l8-9 8 9-8 9zm17 0l8-9 8 9-8 9zm50 0l8-9 8 9-8 9zm25 0l8-9 8 9-8 9zm621 0l8-9 8 9-8 9zm46 0l8-9 8 9-8 9zm25 0l8-9 8 9-8 9zm146 0l8-9 8 9-8 9zm146 0l8-9 8 9-8 9zm29 0l8-9 8 9-8 9zm25 0l8-9 8 9-8 9zm14 0l8-9 8 9-8 9zm14 0l8-9 8 9-8 9zm14 0l8-9 8 9-8 9zm59 0l8-9 8 9-8 9zm-3085 27l8-9 8 9-8 9zm11 0l8-9 8 9-8 9zm10 0l8-9 8 9-8 9zm713 0l8-9 8 9-8 9zm25 0l8-9 8 9-8 9zm25 0l8-9 8 9-8 9zm21 0l8-9 8 9-8 9zm46 0l8-9 8 9-8 9zm317 0l8-9 8 9-8 9zm8 0l8-9 8 9-8 9zm78 0l8-9 8 9-8 9zm59 0l8-9 8 9-8 9zm200 0l8-9 8 9-8 9zm25 0l8-9 8 9-8 9zm34 0l8-9 8 9-8 9zm16 0l8-9 8 9-8 9zm30 0l8-9 8 9-8 9zm37 0l8-9 8 9-8 9zm11 0l8-9 8 9-8 9zm11 0l8-9 8 9-8 9zm12 0l8-9 8 9-8 9zm79 0l8-9 8 9-8 9zm12 0l8-9 8 9-8 9zm13 0l8-9 8 9-8 9zm12 0l8-9 8 9-8 9zm12 0l8-9 8 9-8 9zm12 0l8-9 8 9-8 9zm13 0l8-9 8 9-8 9zm12 0l8-9 8 9-8 9zm11 0l8-9 8 9-8 9zm22 0l8-9 8 9-8 9zm38 0l8-9 8 9-8 9zm25 0l8-9 8 9-8 9zm472 0l8-9 8 9-8 9zm145 0l8-9 8 9-8 9zm29 0l8-9 8 9-8 9zm40 0l8-9 8 9-8 9zm294 0l8-9 8 9-8 9zm29 0l8-9 8 9-8 9zm25 0l8-9 8 9-8 9zm12 0l8-9 8 9-8 9zm11 0l8-9 8 9-8 9zm12 0l8-9 8 9-8 9zm11 0l8-9 8 9-8 9zm38 0l8-9 8 9-8 9zm17 0l8-9 8 9-8 9zm-3081 26l8-9 8 9-8 9zm17 0l8-9 8 9-8 9zm234 0l8-9 8 9-8 9zm474 0l8-9 8 9-8 9zm26 0l8-9 8 9-8 9zm25 0l8-9 8 9-8 9zm8 0l8-9 8 9-8 9zm29 0l8-9 8 9-8 9zm13 0l8-9 8 9-8 9zm12 0l8-9 8 9-8 9zm13 0l8-9 8 9-8 9zm654 0l8-9 8 9-8 9zm25 0l8-9 8 9-8 9zm21 0l8-9 8 9-8 9zm17 0l8-9 8 9-8 9zm33 0l8-9 8 9-8 9zm13 0l8-9 8 9-8 9zm66 0l8-9 8 9-8 9zm21 0l8-9 8 9-8 9zm113 0l8-9 8 9-8 9zm21 0l8-9 8 9-8 9zm15 0l8-9 8 9-8 9zm10 0l8-9 8 9-8 9zm11 0l8-9 8 9-8 9zm21 0l8-9 8 9-8 9zm16 0l8-9 8 9-8 9zm21 0l8-9 8 9-8 9zm17 0l8-9 8 9-8 9zm617 0l8-9 8 9-8 9zm395 0l8-9 8 9-8 9zm60 0l8-9 8 9-8 9zm-2767 26l8-9 8 9-8 9zm474 0l8-9 8 9-8 9zm17 0l8-9 8 9-8 9zm42 0l8-9 8 9-8 9zm646 0l8-9 8 9-8 9zm117 0l8-9 8 9-8 9zm16 0l8-9 8 9-8 9zm48 0l8-9 8 9-8 9zm74 0l8-9 8 9-8 9zm83 0l8-9 8 9-8 9zm24 0l8-9 8 9-8 9zm11 0l8-9 8 9-8 9zm12 0l8-9 8 9-8 9zm12 0l8-9 8 9-8 9zm23 0l8-9 8 9-8 9zm8 0l8-9 8 9-8 9zm25 0l8-9 8 9-8 9zm9 0l8-9 8 9-8 9zm16 0l8-9 8 9-8 9zm17 0l8-9 8 9-8 9zm17 0l8-9 8 9-8 9zm246 0l8-9 8 9-8 9zm419 0l8-9 8 9-8 9zm344 0l8-9 8 9-8 9zm25 0l8-9 8 9-8 9zm-2154 26l8-9 8 9-8 9zm587 0l8-9 8 9-8 9zm117 0l8-9 8 9-8 9zm11 0l8-9 8 9-8 9zm22 0l8-9 8 9-8 9zm17 0l8-9 8 9-8 9zm54 0l8-9 8 9-8 9zm42 0l8-9 8 9-8 9zm71 0l8-9 8 9-8 9zm42 0l8-9 8 9-8 9zm33 0l8-9 8 9-8 9zm21 0l8-9 8 9-8 9zm11 0l8-9 8 9-8 9zm12 0l8-9 8 9-8 9zm11 0l8-9 8 9-8 9zm24 0l8-9 8 9-8 9zm11 0l8-9 8 9-8 9zm699 0l8-9 8 9-8 9zm344 0l8-9 8 9-8 9zm25 0l8-9 8 9-8 9zm42 0l8-9 8 9-8 9zm178 0l8-9 8 9-8 9zm-2420 26l8-9 8 9-8 9zm384 0l8-9 8 9-8 9zm249 0l8-9 8 9-8 9zm117 0l8-9 8 9-8 9zm17 0l8-9 8 9-8 9zm66 0l8-9 8 9-8 9zm21 0l8-9 8 9-8 9zm78 0l8-9 8 9-8 9zm60 0l8-9 8 9-8 9zm34 0l8-9 8 9-8 9zm11 0l8-9 8 9-8 9zm22 0l8-9 8 9-8 9zm23 0l8-9 8 9-8 9zm9 0l8-9 8 9-8 9zm29 0l8-9 8 9-8 9zm33 0l8-9 8 9-8 9zm325 0l8-9 8 9-8 9zm697 0l8-9 8 9-8 9zm15 0l8-9 8 9-8 9zm14 0l8-9 8 9-8 9zm34 0l8-9 8 9-8 9zm-1488 27l8-9 8 9-8 9zm21 0l8-9 8 9-8 9zm196 0l8-9 8 9-8 9zm50 0l8-9 8 9-8 9zm13 0l8-9 8 9-8 9zm12 0l8-9 8 9-8 9zm21 0l8-9 8 9-8 9zm57 0l8-9 8 9-8 9zm358 0l8-9 8 9-8 9zm722 0l8-9 8 9-8 9zm38 0l8-9 8 9-8 9zm-1854 26l8-9 8 9-8 9zm366 0l8-9 8 9-8 9zm154 0l8-9 8 9-8 9zm162 0l8-9 8 9-8 9zm407 0l8-9 8 9-8 9zm9 0l8-9 8 9-8 9zm718 0l8-9 8 9-8 9zm-2902 26l8-9 8 9-8 9zm1803 0l8-9 8 9-8 9zm381 26l8-9 8 9-8 9zm-67 26l8-9 8 9-8 9zm2 26l8-9 8 9-8 9zm65 0l8-9 8 9-8 9zm10 0l8-9 8 9-8 9zm-75 27l8-9 8 9-8 9zm12 0l8-9 8 9-8 9zm13 0l8-9 8 9-8 9zm12 0l8-9 8 9-8 9zm13 0l8-9 8 9-8 9zm-21 26l8-9 8 9-8 9zm16 0l8-9 8 9-8 9z"/></defs>
<use href="#p77" fill="none" stroke="#a8a8da" stroke-width="1.4" stroke-linejoin="round"/>
<use href="#p77" class="d"/>
<path d="M772.5,493.5V798.5" class="r"/>
<path d="M54.5,493.5V798.5H772.5" class="a"/>
<path d="M50.5,798.5h4M50.5,776.5h4M50.5,755.5h4M50.5,733.5h4M50.5,711.5h4M50.5,689.5h4M50.5,667.5h4M50.5,645.5h4M50.5,624.5h4M50.5,602.5h4M50.5,580.5h4M50.5,558.5h4M50.5,536.5h4M50.5,514.5h4M50.5,493.5h4" class="k"/>
<path d="M54.5,799.0v2.5M119.5,799.0v2.5M184.5,799.0v2.5M249.5,799.0v2.5M315.5,799.0v2.5M380.5,799.0v2.5M445.5,799.0v2.5M511.5,799.0v2.5M576.5,799.0v2.5M641.5,799.0v2.5M706.5,799.0v2.5M772.5,799.0v2.5" class="k2"/>
<text x="44.9" y="802.2" text-anchor="end" class="t">0</text>
<text x="44.9" y="780.4" text-anchor="end" class="t">5</text>
<text x="44.9" y="758.5" text-anchor="end" class="t">10</text>
<text x="44.9" y="736.7" text-anchor="end" class="t">15</text>
<text x="44.9" y="714.9" text-anchor="end" class="t">20</text>
<text x="44.9" y="693.1" text-anchor="end" class="t">25</text>
<text x="44.9" y="671.2" text-anchor="end" class="t">30</text>
<text x="44.9" y="649.4" text-anchor="end" class="t">35</text>
<text x="44.9" y="627.6" text-anchor="end" class="t">40</text>
<text x="44.9" y="605.7" text-anchor="end" class="t">45</text>
<text x="44.9" y="583.9" text-anchor="end" class="t">50</text>
<text x="44.9" y="562.1" text-anchor="end" class="t">55</text>
<text x="44.9" y="540.3" text-anchor="end" class="t">60</text>
<text x="44.9" y="518.4" text-anchor="end" class="t">65</text>
<text x="44.9" y="496.6" text-anchor="end" class="t">70</text>
<text x="54.1" y="818.7" text-anchor="middle" class="t">0</text>
<text x="119.4" y="818.7" text-anchor="middle" class="t">1</text>
<text x="184.7" y="818.7" text-anchor="middle" class="t">2</text>
<text x="249.9" y="818.7" text-anchor="middle" class="t">3</text>
<text x="315.2" y="818.7" text-anchor="middle" class="t">4</text>
<text x="380.5" y="818.7" text-anchor="middle" class="t">5</text>
<text x="445.8" y="818.7" text-anchor="middle" class="t">6</text>
<text x="511.1" y="818.7" text-anchor="middle" class="t">7</text>
<text x="576.3" y="818.7" text-anchor="middle" class="t">8</text>
<text x="641.6" y="818.7" text-anchor="middle" class="t">9</text>
<text x="706.9" y="818.7" text-anchor="middle" class="t">10</text>
<text x="772.2" y="818.7" text-anchor="middle" class="t">11</text>
<text x="409.8" y="461.7" text-anchor="middle" class="b" style="font-size:17.6px">Time (hr)</text>
<text x="413" y="842.2" text-anchor="middle" class="b" style="font-size:17.6px">Time (hr)</text>
<text transform="translate(13.2,227.8) rotate(-90)" text-anchor="middle" class="b">ETCO<tspan font-size="11" dy="5">2</tspan></text>
<text transform="translate(18.6,591.2) rotate(-90)" text-anchor="middle" class="b" style="font-size:17.6px">RR</text>
<text x="402.6" y="15.4" class="tt">Peak ETCO<tspan font-size="8" dy="2.5">2</tspan><tspan dy="-2.5"> 87 mmHg</tspan></text>
<text x="60.3" y="361.1" class="tt">Total Record Time = 7.26 hr</text>
<text x="240.2" y="360.9" class="tt">Peak ETCO2 = 87 mmHg</text>
<text x="240.2" y="373.7" class="tt">%ETCO2 &gt;= 50 mmHg = 59.45 Percent</text>
</svg></body></html>
